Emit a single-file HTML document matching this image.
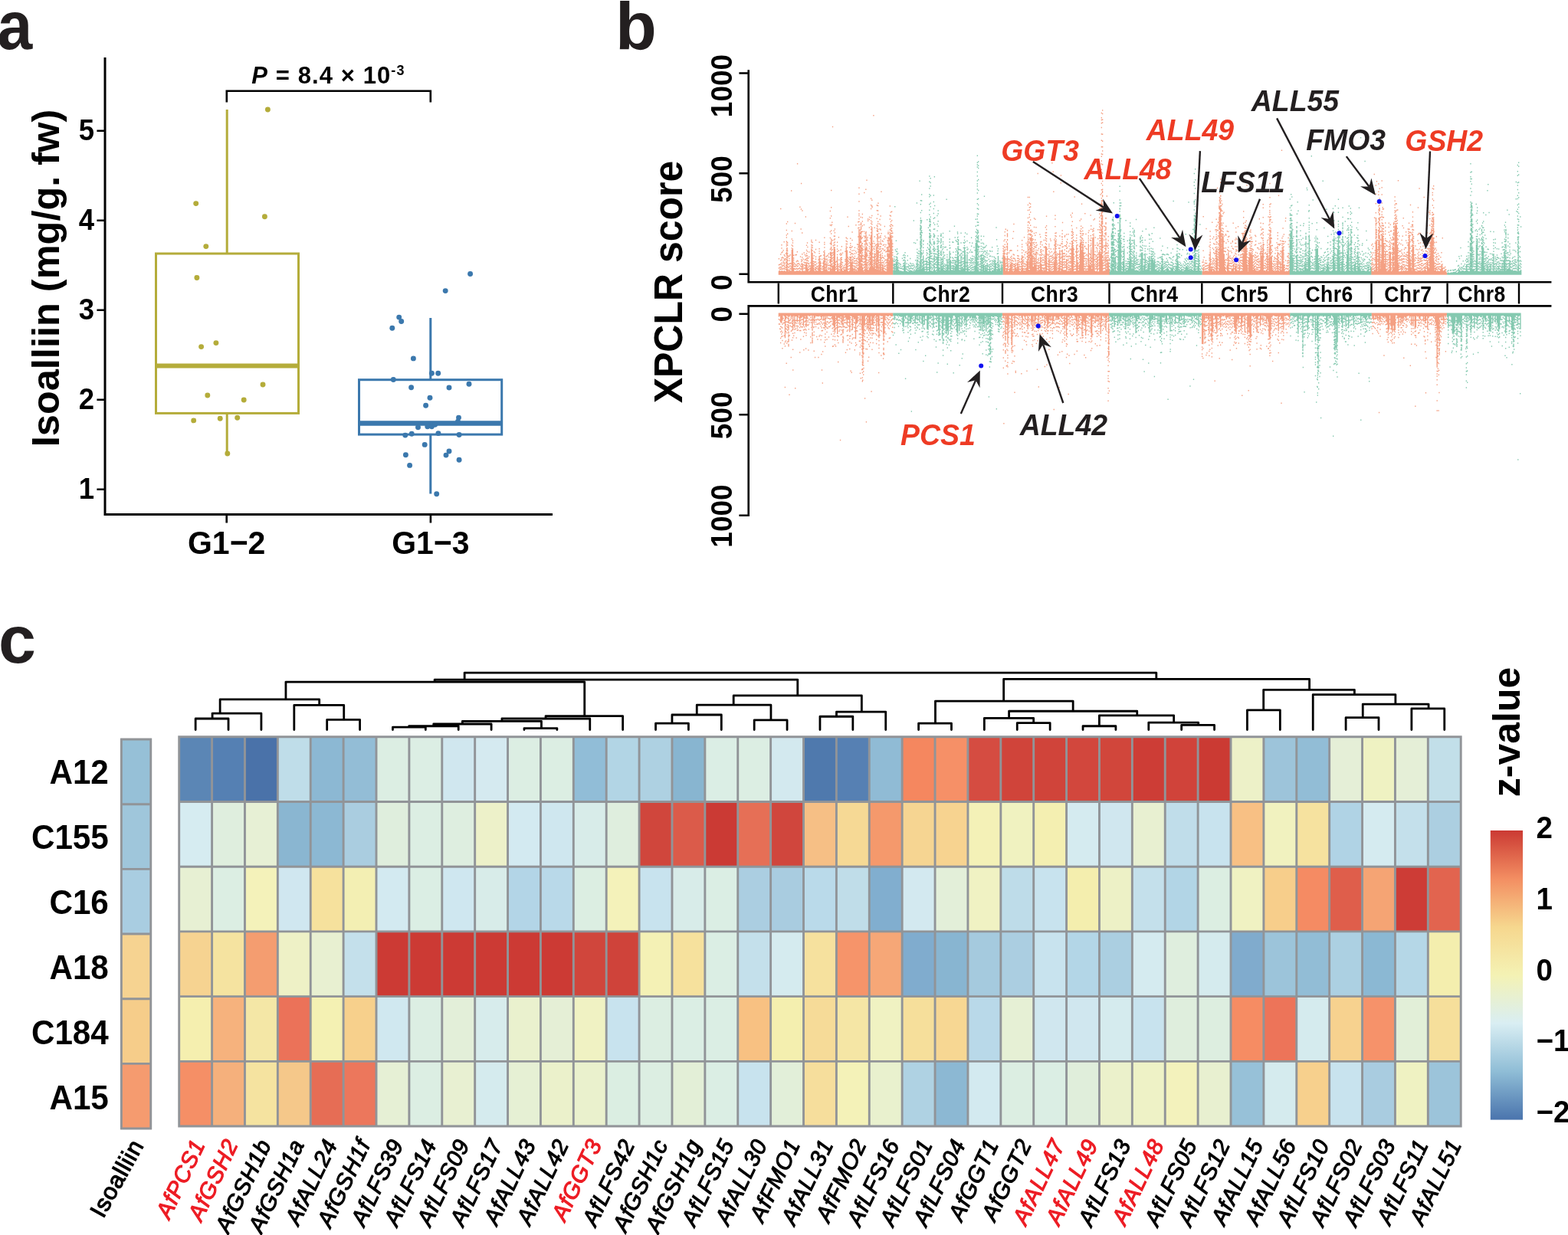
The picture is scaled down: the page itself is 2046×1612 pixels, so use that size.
<!DOCTYPE html>
<html lang="en"><head><meta charset="utf-8"><title>Figure</title>
<style>
html,body{margin:0;padding:0;background:#fff;}
body{width:2046px;height:1612px;overflow:hidden;}
svg{display:block;font-family:'Liberation Sans', Arial, Helvetica, sans-serif;}
</style></head><body>
<svg width="2046" height="1612" viewBox="0 0 2046 1612">
<rect width="2046" height="1612" fill="#fff"/>
<g id="panel-a">
<text transform="translate(-3.5 63.5) scale(0.93 1)" font-size="88.5" font-weight="bold" fill="#231f20">a</text>
<path d="M137 75V671.4H721" fill="none" stroke="#000" stroke-width="3"/>
<path d="M126.4 638.7H137M126.4 521.7H137M126.4 404.7H137M126.4 287.7H137M126.4 170.7H137M295.7 671.4V682.5M561.9 671.4V682.5" fill="none" stroke="#000" stroke-width="2.6"/>
<text transform="translate(123 651.3) scale(1 1.05)" font-size="36.5" font-weight="bold" text-anchor="end">1</text>
<text transform="translate(123 534.3) scale(1 1.05)" font-size="36.5" font-weight="bold" text-anchor="end">2</text>
<text transform="translate(123 417.3) scale(1 1.05)" font-size="36.5" font-weight="bold" text-anchor="end">3</text>
<text transform="translate(123 300.3) scale(1 1.05)" font-size="36.5" font-weight="bold" text-anchor="end">4</text>
<text transform="translate(123 183.3) scale(1 1.05)" font-size="36.5" font-weight="bold" text-anchor="end">5</text>
<text transform="translate(76.5 363) rotate(-90)" font-size="50.5" font-weight="bold" text-anchor="middle">Isoalliin (mg/g. fw)</text>
<text transform="translate(295.7 723.4) scale(1 1.06)" font-size="41" font-weight="bold" text-anchor="middle">G1−2</text>
<text transform="translate(561.9 723.4) scale(1 1.06)" font-size="41" font-weight="bold" text-anchor="middle">G1−3</text>
<path d="M295.8 133.4V118.7H561.8V133.4" fill="none" stroke="#000" stroke-width="2.6"/>
<text transform="translate(328.3 109.4) scale(1 1.04)" font-size="31" font-weight="bold" letter-spacing="1.1"><tspan font-style="italic">P</tspan> = 8.4 × 10<tspan font-size="18" dy="-10.5">-3</tspan></text>
<g fill="none" stroke="#b4ac3a" stroke-width="3"><path d="M296.2 143V331M296.2 539.4V592"/><rect x="203.5" y="331" width="186" height="208.4"/><path d="M203.5 477.4H389.5" stroke-width="6"/></g>
<g fill="none" stroke="#3b78ad" stroke-width="3"><path d="M561.8 414.9V495.7M561.8 567.1V644.5"/><rect x="468.5" y="495.7" width="186.2" height="71.4"/><path d="M468.5 552.6H654.7" stroke-width="6.5"/></g>
<g fill="#b4ac3a"><circle cx="349.4" cy="143" r="3.45"/><circle cx="255.7" cy="265.6" r="3.45"/><circle cx="345.4" cy="282.7" r="3.45"/><circle cx="268.8" cy="321.6" r="3.45"/><circle cx="256.9" cy="362.5" r="3.45"/><circle cx="281.9" cy="447.6" r="3.45"/><circle cx="262.6" cy="452.6" r="3.45"/><circle cx="343" cy="502" r="3.45"/><circle cx="270.8" cy="516" r="3.45"/><circle cx="318.2" cy="522" r="3.45"/><circle cx="252.7" cy="548.9" r="3.45"/><circle cx="287.2" cy="546.3" r="3.45"/><circle cx="309.7" cy="545.3" r="3.45"/><circle cx="296.8" cy="592" r="3.45"/></g>
<g fill="#3b78ad"><circle cx="613.6" cy="357.5" r="3.45"/><circle cx="581.2" cy="379.6" r="3.45"/><circle cx="520.7" cy="414.1" r="3.45"/><circle cx="523.7" cy="419.5" r="3.45"/><circle cx="511.8" cy="428.2" r="3.45"/><circle cx="539.4" cy="467.9" r="3.45"/><circle cx="563.4" cy="487.3" r="3.45"/><circle cx="571.7" cy="487.3" r="3.45"/><circle cx="513.3" cy="495.5" r="3.45"/><circle cx="612" cy="501.2" r="3.45"/><circle cx="536.6" cy="505.8" r="3.45"/><circle cx="586" cy="506" r="3.45"/><circle cx="561" cy="519.3" r="3.45"/><circle cx="555.6" cy="529.2" r="3.45"/><circle cx="598.5" cy="545.1" r="3.45"/><circle cx="597.5" cy="550.3" r="3.45"/><circle cx="545.5" cy="557.8" r="3.45"/><circle cx="557.8" cy="556.8" r="3.45"/><circle cx="563.4" cy="556.8" r="3.45"/><circle cx="567.7" cy="554.2" r="3.45"/><circle cx="571.9" cy="565.6" r="3.45"/><circle cx="537.2" cy="566.2" r="3.45"/><circle cx="528.8" cy="568.1" r="3.45"/><circle cx="599.1" cy="567.5" r="3.45"/><circle cx="554.2" cy="580.4" r="3.45"/><circle cx="586" cy="589" r="3.45"/><circle cx="582" cy="594.1" r="3.45"/><circle cx="529.4" cy="593.7" r="3.45"/><circle cx="599.1" cy="600.3" r="3.45"/><circle cx="534.6" cy="607.4" r="3.45"/><circle cx="569.7" cy="644.8" r="3.45"/></g>
</g>
<g id="panel-b">
<text transform="translate(803 64)" font-size="88" font-weight="bold" fill="#231f20">b</text>
<path d="M1016.4 358.8v-5.32m0 -2.85v-1.5m0 -2.59v-1.5m0 -6.44v-1.5M1017.56 358.8v-5.73m0 -0.82v-1.5m0 -1.13v-1.5m0 -2.16v-1.5M1018.78 358.8v-4.91m0 -2.01v-1.5m0 -0.87v-1.5m0 -2.67v-1.5m0 -3.44v-1.5m0 -6.11v-1.5M1019.97 358.8v-5.81m0 -1.19v-1.5m0 -0.74v-1.5m0 -1.68v-1.5m0 -0.81v-1.5m0 -2.83v-1.5m0 -0.69v-1.5m0 -5.48v-1.5m0 -4.36v-1.5m0 -2.63v-1.5M1021.03 358.8v-5.33m0 -1.5v-1.5m0 -2.56v-1.5m0 -9.8v-1.5m0 -5.49v-1.5M1022.11 358.8v-4.83m0 -2.69v-1.5m0 -2.79v-1.5m0 -1.45v-1.5m0 -0.86v-1.5m0 -2.62v-1.5m0 -8.59v-1.5M1023.32 358.8v-5.69m0 -1.44v-1.5m0 -1.11v-1.5m0 -0.76v-1.5m0 -1.44v-1.5m0 -2.89v-1.5m0 -4.5v-1.5M1024.33 358.8v-4.74m0 -2.51v-1.5m0 -0.88v-1.5m0 -2.76v-1.5m0 -2.54v-1.5m0 -0.99v-1.5m0 -2v-1.5M1025.53 358.8v-4.88m0 -1.21v-1.5m0 -1.32v-1.5m0 -1.06v-1.5m0 -2.7v-1.5m0 -2.66v-1.5m0 -5.8v-1.5M1026.73 358.8v-19.58m0 -2.84v-1.5m0 -1.43v-1.5m0 -1.97v-1.5m0 -2.79v-1.5M1027.85 358.8v-7.2m0 -2.48v-1.5m0 -2.55v-1.5m0 -2.86v-1.5m0 -2.27v-1.5M1028.92 358.8v-4.7m0 -0.85v-1.5m0 -1.65v-1.5m0 -2.29v-1.5m0 -9.64v-1.5M1029.99 358.8v-7.17m0 -2.54v-1.5m0 -2.68v-1.5m0 -2.32v-1.5m0 -1.42v-1.5m0 -1.71v-1.5M1031.06 358.8v-5.47m0 -1.72v-1.5m0 -2.68v-1.5m0 -1.53v-1.5m0 -9.37v-1.5M1032.17 358.8v-5.27m0 -1.87v-1.5m0 -0.92v-1.5m0 -2.9v-1.5M1033.29 358.8v-33.05m0 -0.95v-1.5m0 -2.51v-1.5m0 -6.47v-1.5m0 -9.04v-1.5M1034.43 358.8v-34.64m0 -2.23v-1.5m0 -2.71v-1.5m0 -1.27v-1.5M1035.68 358.8v-9.38m0 -1.42v-1.5m0 -0.68v-1.5m0 -1.19v-1.5m0 -1.41v-1.5m0 -0.91v-1.5m0 -2.39v-1.5M1036.88 358.8v-4.84m0 -2.36v-1.5m0 -1.72v-1.5m0 -2.01v-1.5M1038.03 358.8v-4.7m0 -1.83v-1.5m0 -2.21v-1.5m0 -0.86v-1.5m0 -11.32v-1.5M1039.28 358.8v-5.52m0 -2.09v-1.5m0 -2.73v-1.5m0 -3.32v-1.5m0 -7.34v-1.5M1040.34 358.8v-5.2m0 -1.54v-1.5m0 -1.95v-1.5m0 -1.91v-1.5m0 -2.7v-1.5m0 -10.08v-1.5M1041.38 358.8v-5.45m0 -1.71v-1.5m0 -2.36v-1.5m0 -1.33v-1.5m0 -1.72v-1.5M1042.53 358.8v-5.03m0 -2.58v-1.5m0 -4.98v-1.5M1043.54 358.8v-6.19m0 -2.14v-1.5m0 -2.65v-1.5M1044.55 358.8v-5.25m0 -1.54v-1.5m0 -2.41v-1.5m0 -10.73v-1.5M1045.68 358.8v-4.56m0 -2.39v-1.5m0 -1.35v-1.5m0 -1.98v-1.5m0 -1.79v-1.5m0 -0.99v-1.5M1046.79 358.8v-15.45m0 -2.47v-1.5m0 -2.72v-1.5m0 -2.62v-1.5M1048.02 358.8v-5.31m0 -1.78v-1.5m0 -1.19v-1.5m0 -1.03v-1.5m0 -5.99v-1.5M1049.18 358.8v-5.3m0 -2.86v-1.5m0 -2.66v-1.5m0 -2.09v-1.5m0 -10.73v-1.5M1050.31 358.8v-5.1m0 -2.87v-1.5m0 -2.01v-1.5m0 -1.81v-1.5m0 -2.44v-1.5m0 -5.36v-1.5M1051.43 358.8v-14.02m0 -1.25v-1.5m0 -2.79v-1.5m0 -2.72v-1.5M1052.5 358.8v-16.33m0 -1.53v-1.5m0 -1.16v-1.5m0 -2.58v-1.5m0 -0.94v-1.5m0 -3.1v-1.5m0 -4.62v-1.5M1053.5 358.8v-9.5m0 -1.84v-1.5m0 -2.23v-1.5m0 -2.08v-1.5m0 -1.42v-1.5m0 -0.88v-1.5m0 -4.34v-1.5m0 -9.67v-1.5M1054.55 358.8v-8.12m0 -1.53v-1.5m0 -2.75v-1.5m0 -2v-1.5m0 -1.9v-1.5M1055.72 358.8v-4.54m0 -2.03v-1.5m0 -1.47v-1.5m0 -0.84v-1.5m0 -0.97v-1.5m0 -6.9v-1.5m0 -4.91v-1.5M1056.77 358.8v-5.82m0 -1.37v-1.5m0 -1.81v-1.5M1057.86 358.8v-10.33m0 -0.75v-1.5m0 -2.55v-1.5M1058.86 358.8v-34.45m0 -1.08v-1.5m0 -1.39v-1.5m0 -2.58v-1.5m0 -0.67v-1.5M1060.07 358.8v-28.69m0 -2.32v-1.5m0 -2.18v-1.5m0 -1.37v-1.5m0 -2.6v-1.5M1061.11 358.8v-13.4m0 -0.86v-1.5m0 -1.07v-1.5m0 -2.39v-1.5M1062.18 358.8v-6.25m0 -1.11v-1.5m0 -2.24v-1.5m0 -0.93v-1.5m0 -1.27v-1.5m0 -6.61v-1.5m0 -3.55v-1.5M1063.4 358.8v-4.86m0 -1.54v-1.5m0 -1.13v-1.5m0 -1.84v-1.5m0 -1.97v-1.5m0 -11.06v-1.5M1064.52 358.8v-9.95m0 -2.3v-1.5m0 -2.52v-1.5m0 -2.13v-1.5m0 -1.32v-1.5m0 -8.21v-1.5m0 -10.54v-1.5M1065.74 358.8v-5.57m0 -2.42v-1.5m0 -0.77v-1.5m0 -2.34v-1.5M1066.9 358.8v-5.34m0 -1.42v-1.5m0 -1.8v-1.5M1068.08 358.8v-10.09m0 -0.94v-1.5m0 -2.58v-1.5m0 -2.34v-1.5M1069.1 358.8v-24.88m0 -2.32v-1.5m0 -1.41v-1.5m0 -1.78v-1.5m0 -6.81v-1.5M1070.24 358.8v-18.63m0 -1.07v-1.5m0 -2.6v-1.5M1071.37 358.8v-5.48m0 -1.71v-1.5m0 -2.61v-1.5m0 -1.81v-1.5m0 -8.29v-1.5M1072.58 358.8v-5.03m0 -1.44v-1.5m0 -1.25v-1.5m0 -8.88v-1.5M1073.67 358.8v-5.43m0 -1.51v-1.5m0 -1.74v-1.5m0 -2.75v-1.5M1074.82 358.8v-19.14m0 -1.53v-1.5m0 -2.89v-1.5m0 -2.68v-1.5M1075.84 358.8v-29.7m0 -0.95v-1.5m0 -2.89v-1.5m0 -2.47v-1.5m0 -0.99v-1.5m0 -4.72v-1.5M1076.93 358.8v-6.99m0 -1.45v-1.5m0 -2.91v-1.5m0 -2.36v-1.5m0 -1.76v-1.5M1078.02 358.8v-16.37m0 -2.41v-1.5m0 -2.71v-1.5M1079.05 358.8v-7.05m0 -2.73v-1.5m0 -1.02v-1.5m0 -2.6v-1.5m0 -2.25v-1.5m0 -2.25v-1.5M1080.26 358.8v-5.01m0 -2.61v-1.5m0 -2.69v-1.5m0 -1.03v-1.5m0 -2.4v-1.5m0 -5.03v-1.5M1081.35 358.8v-5.07m0 -1.21v-1.5m0 -0.89v-1.5m0 -1.4v-1.5m0 -9.6v-1.5m0 -2.7v-1.5M1082.6 358.8v-4.74m0 -2.71v-1.5m0 -2.9v-1.5m0 -2.58v-1.5m0 -1.05v-1.5M1083.74 358.8v-5.12m0 -2.74v-1.5m0 -2.64v-1.5m0 -1.55v-1.5m0 -0.81v-1.5M1084.9 358.8v-4.73m0 -1.89v-1.5m0 -2.23v-1.5m0 -1.75v-1.5m0 -1.46v-1.5m0 -1.22v-1.5m0 -1.33v-1.5m0 -0.78v-1.5m0 -1.24v-1.5m0 -11.24v-1.5m0 -2.57v-1.5M1086.06 358.8v-12.21m0 -1.16v-1.5m0 -2.17v-1.5m0 -2.26v-1.5m0 -2.32v-1.5m0 -1.77v-1.5m0 -2.85v-1.5m0 -10.44v-1.5M1087.22 358.8v-12.61m0 -2.12v-1.5m0 -2.68v-1.5m0 -1.32v-1.5m0 -2.88v-1.5m0 -0.9v-1.5m0 -7.36v-1.5M1088.26 358.8v-36.71m0 -1.53v-1.5m0 -1.1v-1.5m0 -2.58v-1.5m0 -3.26v-1.5m0 -5.59v-1.5M1089.37 358.8v-33.9m0 -0.72v-1.5m0 -2.16v-1.5m0 -2.34v-1.5m0 -2.35v-1.5m0 -2.27v-1.5m0 -3.16v-1.5m0 -3.27v-1.5M1090.43 358.8v-4.78m0 -1.87v-1.5m0 -0.87v-1.5m0 -2.35v-1.5m0 -1.43v-1.5M1091.53 358.8v-4.81m0 -2.42v-1.5m0 -1.93v-1.5m0 -4.65v-1.5M1092.56 358.8v-24.08m0 -1.52v-1.5m0 -2.79v-1.5m0 -1.34v-1.5m0 -2.88v-1.5m0 -3.07v-1.5M1093.8 358.8v-7.2m0 -0.77v-1.5m0 -1.17v-1.5m0 -0.9v-1.5M1094.85 358.8v-4.79m0 -1.2v-1.5m0 -2.77v-1.5m0 -7.15v-1.5M1096.02 358.8v-4.7m0 -0.84v-1.5m0 -1.72v-1.5m0 -1.05v-1.5m0 -0.71v-1.5m0 -10.93v-1.5M1097.1 358.8v-22.88m0 -1.87v-1.5m0 -1.06v-1.5m0 -2.88v-1.5M1098.31 358.8v-8.39m0 -1.34v-1.5m0 -2.13v-1.5m0 -1.01v-1.5m0 -2.05v-1.5m0 -0.82v-1.5m0 -2.62v-1.5m0 -9.06v-1.5M1099.48 358.8v-5.55m0 -2.05v-1.5m0 -2.57v-1.5m0 -2.15v-1.5m0 -11v-1.5M1100.51 358.8v-5.62m0 -1.23v-1.5m0 -1.06v-1.5M1101.72 358.8v-7.28m0 -1.17v-1.5m0 -1.25v-1.5M1102.96 358.8v-7.38m0 -1.27v-1.5m0 -2.87v-1.5m0 -2.45v-1.5m0 -0.82v-1.5m0 -8.98v-1.5M1104.19 358.8v-35.97m0 -0.71v-1.5m0 -1.33v-1.5m0 -2.6v-1.5m0 -2.67v-1.5M1105.33 358.8v-32.38m0 -2.69v-1.5m0 -2.89v-1.5m0 -1.66v-1.5m0 -2.41v-1.5M1106.36 358.8v-5.29m0 -1.54v-1.5m0 -1.71v-1.5m0 -1.71v-1.5m0 -1.29v-1.5m0 -0.71v-1.5m0 -2.39v-1.5M1107.41 358.8v-4.66m0 -2.01v-1.5m0 -2.77v-1.5m0 -1.73v-1.5m0 -1.12v-1.5m0 -2v-1.5M1108.64 358.8v-5.87m0 -1.26v-1.5m0 -2.63v-1.5m0 -2.44v-1.5m0 -2.58v-1.5m0 -1.55v-1.5m0 -5.12v-1.5m0 -4.7v-1.5M1109.78 358.8v-24.06m0 -1.52v-1.5m0 -1.67v-1.5m0 -1.94v-1.5m0 -1.16v-1.5m0 -1.27v-1.5m0 -1.27v-1.5m0 -4.88v-1.5M1110.83 358.8v-16.62m0 -1.67v-1.5m0 -2.11v-1.5m0 -3.77v-1.5m0 -6.25v-1.5M1112.05 358.8v-18.64m0 -0.94v-1.5m0 -2.54v-1.5m0 -1.9v-1.5m0 -2.19v-1.5m0 -3.97v-1.5m0 -6.83v-1.5m0 -8.92v-1.5M1113.21 358.8v-9.24m0 -1.95v-1.5m0 -2.17v-1.5m0 -2.58v-1.5m0 -1.58v-1.5m0 -2.74v-1.5M1114.35 358.8v-5.35m0 -1.06v-1.5m0 -2.38v-1.5m0 -2.67v-1.5m0 -1.03v-1.5m0 -2.34v-1.5m0 -8.86v-1.5M1115.45 358.8v-10m0 -0.73v-1.5m0 -2.43v-1.5m0 -1.43v-1.5m0 -1.82v-1.5m0 -1.1v-1.5m0 -2.03v-1.5m0 -6.14v-1.5M1116.55 358.8v-4.69m0 -0.81v-1.5m0 -2.65v-1.5m0 -2.77v-1.5m0 -2.11v-1.5m0 -10.95v-1.5M1117.61 358.8v-7.27m0 -1.77v-1.5m0 -1.17v-1.5m0 -1.63v-1.5m0 -1.81v-1.5m0 -0.74v-1.5m0 -6.11v-1.5M1118.62 358.8v-5.29m0 -2.16v-1.5m0 -2.05v-1.5m0 -1.24v-1.5m0 -1.51v-1.5m0 -2.57v-1.5m0 -11.17v-1.5m0 -4.16v-1.5M1119.84 358.8v-9.54m0 -2.5v-1.5m0 -2v-1.5m0 -2.7v-1.5m0 -1.21v-1.5m0 -1.67v-1.5m0 -2.18v-1.5m0 -1.15v-1.5m0 -2.28v-1.5m0 -1.26v-1.5m0 -9.01v-1.5m0 -9.87v-1.5m0 -6.39v-1.5M1120.95 358.8v-59.83m0 -0.92v-1.5m0 -2.27v-1.5m0 -2.79v-1.5m0 -2.08v-1.5m0 -2.72v-1.5m0 -0.8v-1.5m0 -2.67v-1.5m0 -10.54v-1.5m0 -8.26v-1.5m0 -6.44v-1.5M1122.09 358.8v-11.14m0 -1.88v-1.5m0 -1.25v-1.5m0 -0.67v-1.5m0 -1.11v-1.5m0 -2.54v-1.5m0 -4.45v-1.5m0 -3.18v-1.5m0 -4.76v-1.5m0 -7.26v-1.5M1123.17 358.8v-5.75m0 -2.66v-1.5m0 -1.68v-1.5m0 -0.99v-1.5m0 -2.82v-1.5m0 -1.18v-1.5m0 -2.07v-1.5m0 -1.26v-1.5m0 -2.5v-1.5m0 -1.12v-1.5m0 -1.61v-1.5m0 -4.51v-1.5m0 -10.39v-1.5m0 -8.18v-1.5m0 -8.28v-1.5M1124.36 358.8v-6.33m0 -2.32v-1.5m0 -2.91v-1.5m0 -1.93v-1.5m0 -4.14v-1.5m0 -8.09v-1.5m0 -5.13v-1.5m0 -7.2v-1.5m0 -6.71v-1.5M1125.37 358.8v-10.13m0 -2.51v-1.5m0 -2.6v-1.5m0 -2.41v-1.5m0 -1.91v-1.5m0 -2.69v-1.5m0 -1.77v-1.5m0 -0.91v-1.5m0 -1.28v-1.5m0 -2.15v-1.5m0 -5.98v-1.5m0 -6.38v-1.5m0 -6.19v-1.5m0 -4.26v-1.5m0 -3.36v-1.5m0 -2.95v-1.5M1126.46 358.8v-5.7m0 -2.08v-1.5m0 -2.49v-1.5m0 -2.38v-1.5m0 -2.81v-1.5m0 -3.11v-1.5m0 -6.02v-1.5M1127.47 358.8v-4.58m0 -0.8v-1.5m0 -2.68v-1.5m0 -1.59v-1.5m0 -1.81v-1.5m0 -2.77v-1.5m0 -1.16v-1.5m0 -11.38v-1.5m0 -6.14v-1.5m0 -4.77v-1.5m0 -4.64v-1.5m0 -7.25v-1.5M1128.5 358.8v-4.37m0 -1.01v-1.5m0 -2.03v-1.5m0 -2.42v-1.5m0 -1.75v-1.5m0 -2.05v-1.5m0 -2.11v-1.5m0 -0.71v-1.5m0 -1.22v-1.5m0 -2.91v-1.5m0 -5.53v-1.5M1129.74 358.8v-5.64m0 -1.16v-1.5m0 -1.39v-1.5m0 -1.66v-1.5m0 -1.67v-1.5m0 -1.9v-1.5m0 -1.73v-1.5m0 -0.74v-1.5m0 -4.95v-1.5M1130.9 358.8v-6.42m0 -2.26v-1.5m0 -1.41v-1.5m0 -5.89v-1.5m0 -7.24v-1.5m0 -10.84v-1.5m0 -5.51v-1.5M1132.01 358.8v-6.68m0 -0.94v-1.5m0 -2.01v-1.5m0 -2.57v-1.5m0 -8v-1.5m0 -3.89v-1.5m0 -6.22v-1.5m0 -4.94v-1.5m0 -2.65v-1.5M1133.14 358.8v-6.18m0 -2.88v-1.5m0 -2.5v-1.5m0 -1.24v-1.5m0 -1.1v-1.5m0 -1.85v-1.5m0 -7.85v-1.5M1134.36 358.8v-9.2m0 -1.98v-1.5m0 -0.95v-1.5m0 -1.83v-1.5m0 -0.83v-1.5m0 -0.92v-1.5m0 -0.94v-1.5m0 -1.34v-1.5m0 -1.36v-1.5m0 -2.25v-1.5m0 -0.84v-1.5m0 -3.52v-1.5m0 -8.52v-1.5m0 -8.67v-1.5m0 -9.01v-1.5M1135.45 358.8v-5.82m0 -0.85v-1.5m0 -1.14v-1.5m0 -2.33v-1.5m0 -1.1v-1.5m0 -1.86v-1.5m0 -1.25v-1.5m0 -1.64v-1.5m0 -2.54v-1.5m0 -8.56v-1.5m0 -6.58v-1.5M1136.59 358.8v-48.05m0 -2.62v-1.5m0 -2.22v-1.5m0 -2.87v-1.5m0 -2.16v-1.5m0 -2.69v-1.5m0 -1.91v-1.5m0 -2.26v-1.5m0 -10.22v-1.5m0 -3.33v-1.5m0 -6.85v-1.5M1137.76 358.8v-62.54m0 -2.77v-1.5m0 -1.5v-1.5m0 -6.8v-1.5m0 -10.86v-1.5m0 -6.27v-1.5M1138.85 358.8v-11.68m0 -1.15v-1.5m0 -1.64v-1.5m0 -1.03v-1.5m0 -2.53v-1.5m0 -2.86v-1.5m0 -3.39v-1.5m0 -3v-1.5m0 -2.53v-1.5M1139.98 358.8v-10.23m0 -1.11v-1.5m0 -1.22v-1.5m0 -2.22v-1.5m0 -2.66v-1.5m0 -10.43v-1.5m0 -7.7v-1.5M1141.17 358.8v-28.51m0 -1.38v-1.5m0 -1.42v-1.5m0 -1.71v-1.5m0 -2.72v-1.5m0 -7.43v-1.5m0 -10.2v-1.5M1142.4 358.8v-7.87m0 -1.77v-1.5m0 -2.3v-1.5m0 -1.08v-1.5m0 -1.39v-1.5m0 -2.63v-1.5m0 -1.56v-1.5m0 -10.23v-1.5M1143.44 358.8v-18.91m0 -2.16v-1.5m0 -1.32v-1.5m0 -2.61v-1.5m0 -1.75v-1.5m0 -0.79v-1.5m0 -0.82v-1.5m0 -1.18v-1.5M1144.67 358.8v-6.12m0 -2.07v-1.5m0 -1.59v-1.5m0 -1.66v-1.5m0 -2.51v-1.5m0 -2.73v-1.5m0 -2.84v-1.5m0 -2.42v-1.5m0 -2.53v-1.5M1145.67 358.8v-12.51m0 -1.83v-1.5m0 -1.56v-1.5m0 -1.58v-1.5m0 -1.27v-1.5m0 -1.28v-1.5m0 -1.2v-1.5m0 -0.9v-1.5m0 -7.58v-1.5m0 -6.59v-1.5m0 -9.04v-1.5m0 -8.37v-1.5M1146.86 358.8v-6.42m0 -2.15v-1.5m0 -2.48v-1.5m0 -1.56v-1.5m0 -1.67v-1.5m0 -8.29v-1.5m0 -3.52v-1.5m0 -7.37v-1.5m0 -3.37v-1.5m0 -4.56v-1.5M1148.06 358.8v-14.3m0 -1v-1.5m0 -1.83v-1.5m0 -1.66v-1.5m0 -1.52v-1.5m0 -2.4v-1.5m0 -2.26v-1.5m0 -1.93v-1.5m0 -2.06v-1.5m0 -7.83v-1.5m0 -8.7v-1.5m0 -11v-1.5M1149.1 358.8v-27.97m0 -1.68v-1.5m0 -2.43v-1.5m0 -1.33v-1.5m0 -2.03v-1.5m0 -0.79v-1.5m0 -1.12v-1.5m0 -1.57v-1.5m0 -0.82v-1.5m0 -6.39v-1.5m0 -4.61v-1.5m0 -10.4v-1.5M1150.2 358.8v-5.22m0 -0.78v-1.5m0 -1.16v-1.5m0 -2.04v-1.5m0 -1.12v-1.5m0 -4.78v-1.5m0 -8.21v-1.5m0 -7.03v-1.5M1151.41 358.8v-14.02m0 -1.28v-1.5m0 -1.36v-1.5m0 -2.64v-1.5m0 -0.78v-1.5m0 -1.45v-1.5m0 -4.28v-1.5m0 -8.87v-1.5M1152.41 358.8v-9.84m0 -1.15v-1.5m0 -2.73v-1.5m0 -5.19v-1.5m0 -9.73v-1.5m0 -3.19v-1.5M1153.57 358.8v-6.07m0 -1.9v-1.5m0 -0.78v-1.5m0 -1.63v-1.5m0 -1.51v-1.5m0 -2.91v-1.5m0 -8.74v-1.5m0 -6.21v-1.5m0 -5.84v-1.5M1154.77 358.8v-5.36m0 -1.65v-1.5m0 -2.26v-1.5m0 -6.15v-1.5m0 -3.81v-1.5m0 -6.32v-1.5m0 -2.97v-1.5M1155.89 358.8v-4.61m0 -1.79v-1.5m0 -2.87v-1.5m0 -2.53v-1.5m0 -2.7v-1.5m0 -8.69v-1.5m0 -7.9v-1.5m0 -7.83v-1.5M1157.08 358.8v-4.69m0 -0.81v-1.5m0 -1.5v-1.5m0 -2.4v-1.5m0 -1.91v-1.5m0 -1.04v-1.5m0 -9.96v-1.5m0 -2.88v-1.5M1158.13 358.8v-7.42m0 -2.52v-1.5m0 -0.68v-1.5m0 -0.7v-1.5m0 -1.84v-1.5m0 -1.34v-1.5m0 -1.57v-1.5m0 -1.87v-1.5m0 -2.9v-1.5m0 -11.51v-1.5M1159.18 358.8v-5.13m0 -2.21v-1.5m0 -2.33v-1.5m0 -11.59v-1.5m0 -3.59v-1.5M1160.27 358.8v-15.45m0 -1.49v-1.5m0 -2.68v-1.5m0 -1.85v-1.5m0 -0.82v-1.5m0 -2.28v-1.5m0 -7.06v-1.5M1161.32 358.8v-54.19m0 -0.69v-1.5m0 -1.74v-1.5m0 -3.61v-1.5m0 -7.35v-1.5m0 -3.32v-1.5m0 -10.63v-1.5M1162.4 358.8v-51.83m0 -1.15v-1.5m0 -2.73v-1.5m0 -0.76v-1.5m0 -1.24v-1.5m0 -1.4v-1.5m0 -1.98v-1.5m0 -5.88v-1.5m0 -3.52v-1.5M1163.64 358.8v-46.45m0 -1.36v-1.5m0 -0.69v-1.5m0 -1.87v-1.5m0 -2.08v-1.5m0 -1.66v-1.5m0 -2.82v-1.5m0 -4.35v-1.5m0 -9.96v-1.5M1164.78 358.8v-22.41m0 -2.74v-1.5m0 -1.57v-1.5m0 -2.19v-1.5m0 -2.81v-1.5m0 -2.01v-1.5m0 -7.84v-1.5m0 -3.15v-1.5m0 -7.97v-1.5M1309.05 358.8v-25.84m0 -1.06v-1.5m0 -1.85v-1.5m0 -1.88v-1.5m0 -1.79v-1.5M1310.07 358.8v-31.36m0 -0.78v-1.5m0 -1.9v-1.5m0 -6.54v-1.5M1311.26 358.8v-24.38m0 -2.69v-1.5m0 -2.14v-1.5m0 -2.91v-1.5m0 -2.16v-1.5m0 -4.97v-1.5m0 -3.85v-1.5m0 -3.15v-1.5M1312.29 358.8v-5.38m0 -2.04v-1.5m0 -1.53v-1.5m0 -1.71v-1.5m0 -4.88v-1.5m0 -10.92v-1.5M1313.33 358.8v-8.7m0 -2.59v-1.5m0 -1.75v-1.5m0 -1.5v-1.5m0 -0.81v-1.5m0 -5.08v-1.5m0 -7.91v-1.5m0 -5.08v-1.5M1314.36 358.8v-5.62m0 -2.22v-1.5m0 -2.29v-1.5m0 -2.67v-1.5m0 -2.49v-1.5m0 -1.41v-1.5m0 -1.95v-1.5m0 -4.87v-1.5m0 -4.35v-1.5M1315.38 358.8v-4.65m0 -2.18v-1.5m0 -1.23v-1.5m0 -0.77v-1.5m0 -6.36v-1.5M1316.61 358.8v-5.33m0 -1.06v-1.5m0 -1.75v-1.5m0 -2.62v-1.5m0 -1.35v-1.5m0 -1.85v-1.5m0 -6.52v-1.5M1317.67 358.8v-8.79m0 -2.21v-1.5m0 -6.28v-1.5m0 -10.18v-1.5M1318.75 358.8v-15.02m0 -0.73v-1.5m0 -1.48v-1.5m0 -1.74v-1.5m0 -7.9v-1.5M1319.96 358.8v-16.28m0 -1.17v-1.5m0 -1.66v-1.5m0 -1.34v-1.5m0 -6.05v-1.5M1321.11 358.8v-5.72m0 -0.74v-1.5m0 -0.84v-1.5m0 -1.13v-1.5m0 -1.31v-1.5m0 -2.6v-1.5M1322.16 358.8v-4.32m0 -2.07v-1.5m0 -2.69v-1.5m0 -0.91v-1.5m0 -2.53v-1.5m0 -2.52v-1.5M1323.27 358.8v-5.96m0 -0.77v-1.5m0 -1.79v-1.5m0 -1.21v-1.5m0 -6.53v-1.5m0 -3.11v-1.5M1324.49 358.8v-14.86m0 -2.68v-1.5m0 -0.8v-1.5M1325.58 358.8v-9.6m0 -1.73v-1.5m0 -1.65v-1.5m0 -1.51v-1.5M1326.76 358.8v-7.83m0 -0.81v-1.5m0 -2.57v-1.5M1327.79 358.8v-16.27m0 -1.29v-1.5m0 -1.86v-1.5m0 -1.79v-1.5m0 -5.24v-1.5m0 -4.62v-1.5M1328.97 358.8v-11.28m0 -1.2v-1.5m0 -1.28v-1.5m0 -0.94v-1.5m0 -1.55v-1.5m0 -1.5v-1.5M1330.16 358.8v-5.56m0 -1.36v-1.5m0 -1.58v-1.5m0 -0.96v-1.5m0 -2.68v-1.5m0 -1.51v-1.5M1331.37 358.8v-4.64m0 -1.68v-1.5m0 -2.18v-1.5m0 -4.06v-1.5M1332.54 358.8v-6.34m0 -1.08v-1.5m0 -0.99v-1.5m0 -1.77v-1.5m0 -1.69v-1.5m0 -2.12v-1.5M1333.63 358.8v-25.77m0 -2.18v-1.5m0 -2.55v-1.5m0 -2.2v-1.5m0 -1.8v-1.5m0 -3.72v-1.5M1334.64 358.8v-9.38m0 -1.13v-1.5m0 -2.72v-1.5m0 -1.18v-1.5m0 -3.3v-1.5M1335.77 358.8v-5.57m0 -1.56v-1.5m0 -2.5v-1.5m0 -0.92v-1.5m0 -1.3v-1.5m0 -0.94v-1.5m0 -2.33v-1.5m0 -6.8v-1.5M1336.96 358.8v-6.01m0 -0.84v-1.5m0 -1.38v-1.5m0 -2.62v-1.5m0 -10.31v-1.5M1338.01 358.8v-5.35m0 -1.64v-1.5m0 -1.96v-1.5m0 -1.25v-1.5m0 -6.37v-1.5m0 -5.86v-1.5M1339.08 358.8v-9.32m0 -2.89v-1.5m0 -2.69v-1.5m0 -11.55v-1.5m0 -9.7v-1.5M1340.21 358.8v-17.95m0 -0.8v-1.5m0 -2.73v-1.5m0 -2.71v-1.5m0 -9.53v-1.5M1341.4 358.8v-45.02m0 -0.95v-1.5m0 -0.97v-1.5m0 -1.59v-1.5m0 -2.54v-1.5m0 -0.84v-1.5m0 -1.63v-1.5m0 -1.46v-1.5m0 -2.67v-1.5m0 -3.9v-1.5m0 -8.51v-1.5m0 -5.46v-1.5m0 -8.43v-1.5M1342.62 358.8v-6.73m0 -1.29v-1.5m0 -0.94v-1.5m0 -1.24v-1.5m0 -0.94v-1.5m0 -2.43v-1.5m0 -0.77v-1.5m0 -1.1v-1.5m0 -2.44v-1.5m0 -2.4v-1.5m0 -11.42v-1.5m0 -6.02v-1.5m0 -2.91v-1.5m0 -9.91v-1.5M1343.65 358.8v-5.82m0 -2.01v-1.5m0 -2.21v-1.5m0 -1.93v-1.5m0 -1.86v-1.5m0 -2.01v-1.5m0 -0.96v-1.5m0 -0.81v-1.5m0 -1.45v-1.5m0 -1.9v-1.5M1344.7 358.8v-18.2m0 -1.27v-1.5m0 -2.75v-1.5m0 -2.79v-1.5m0 -2.93v-1.5m0 -6.9v-1.5m0 -4.68v-1.5M1345.9 358.8v-50.65m0 -0.95v-1.5m0 -2.13v-1.5m0 -0.84v-1.5M1347.06 358.8v-26.4m0 -2.81v-1.5m0 -0.93v-1.5m0 -1.93v-1.5m0 -1.71v-1.5m0 -1.36v-1.5m0 -1.31v-1.5m0 -0.86v-1.5m0 -2.12v-1.5m0 -4.31v-1.5M1348.24 358.8v-10.81m0 -2.76v-1.5m0 -1.98v-1.5m0 -1.95v-1.5m0 -1.17v-1.5m0 -2.11v-1.5m0 -1.52v-1.5m0 -1.89v-1.5m0 -6.15v-1.5m0 -3.24v-1.5M1349.49 358.8v-23.89m0 -1.3v-1.5m0 -0.97v-1.5m0 -1.35v-1.5m0 -1.4v-1.5m0 -1.08v-1.5m0 -1.26v-1.5m0 -1.33v-1.5m0 -10.36v-1.5m0 -6.59v-1.5m0 -10.01v-1.5M1350.73 358.8v-13.18m0 -0.82v-1.5m0 -1.83v-1.5m0 -1.32v-1.5m0 -4.28v-1.5m0 -8.08v-1.5m0 -8.08v-1.5m0 -4.22v-1.5M1351.94 358.8v-30.44m0 -1.19v-1.5m0 -1.94v-1.5m0 -0.74v-1.5m0 -2.57v-1.5m0 -11.38v-1.5m0 -5.51v-1.5M1353.13 358.8v-4.85m0 -0.68v-1.5m0 -0.82v-1.5m0 -1.7v-1.5m0 -2.85v-1.5m0 -11.49v-1.5m0 -8.29v-1.5M1354.23 358.8v-5.64m0 -2.27v-1.5m0 -1.63v-1.5m0 -1.31v-1.5m0 -0.99v-1.5m0 -1.38v-1.5m0 -5.74v-1.5m0 -3.24v-1.5M1355.39 358.8v-12.84m0 -1.91v-1.5m0 -2.12v-1.5m0 -0.85v-1.5m0 -11.44v-1.5M1356.44 358.8v-6.67m0 -2.64v-1.5m0 -1.2v-1.5m0 -1.37v-1.5m0 -8.85v-1.5M1357.63 358.8v-23.69m0 -1.59v-1.5m0 -2.19v-1.5m0 -1.18v-1.5m0 -2.55v-1.5m0 -2.27v-1.5m0 -1.06v-1.5m0 -5.38v-1.5M1358.82 358.8v-14.64m0 -2.76v-1.5m0 -1.56v-1.5m0 -2.8v-1.5m0 -1.32v-1.5m0 -0.7v-1.5m0 -0.9v-1.5m0 -8.85v-1.5M1360 358.8v-6.78m0 -1.46v-1.5m0 -1.99v-1.5m0 -2.24v-1.5m0 -1.51v-1.5m0 -1.77v-1.5m0 -2.56v-1.5m0 -11.02v-1.5M1361.11 358.8v-4.99m0 -2.85v-1.5m0 -2.38v-1.5m0 -5.87v-1.5m0 -10.29v-1.5M1362.2 358.8v-9.53m0 -2.8v-1.5m0 -1.56v-1.5m0 -1.52v-1.5m0 -2.11v-1.5m0 -1.58v-1.5m0 -8.98v-1.5m0 -7.37v-1.5M1363.31 358.8v-5.77m0 -2.42v-1.5m0 -2.6v-1.5m0 -0.71v-1.5m0 -0.7v-1.5m0 -2.09v-1.5m0 -1.42v-1.5m0 -10.5v-1.5M1364.32 358.8v-37.69m0 -2.69v-1.5m0 -2.61v-1.5m0 -1.49v-1.5m0 -1.75v-1.5m0 -1.87v-1.5m0 -5.66v-1.5M1365.53 358.8v-36.84m0 -2.21v-1.5m0 -2.8v-1.5m0 -1.48v-1.5m0 -2.58v-1.5m0 -2.46v-1.5m0 -2.66v-1.5m0 -3.27v-1.5m0 -10.96v-1.5M1366.66 358.8v-4.69m0 -2.02v-1.5m0 -2.26v-1.5m0 -2.34v-1.5m0 -10.35v-1.5m0 -5.19v-1.5M1367.76 358.8v-4.68m0 -1.2v-1.5m0 -2.41v-1.5m0 -1.66v-1.5m0 -2.55v-1.5m0 -2.17v-1.5m0 -2.56v-1.5M1368.9 358.8v-20.47m0 -2.08v-1.5m0 -1.98v-1.5m0 -2.42v-1.5m0 -2.49v-1.5m0 -1.35v-1.5m0 -0.94v-1.5M1370.08 358.8v-6.69m0 -0.72v-1.5m0 -1.23v-1.5m0 -1.28v-1.5m0 -1.13v-1.5m0 -0.78v-1.5m0 -1.05v-1.5m0 -1.45v-1.5m0 -3.35v-1.5M1371.17 358.8v-5.62m0 -1.58v-1.5m0 -0.95v-1.5m0 -1.27v-1.5m0 -2.18v-1.5m0 -6.23v-1.5m0 -7.73v-1.5m0 -9.25v-1.5M1372.38 358.8v-5.19m0 -0.74v-1.5m0 -1.84v-1.5m0 -2.05v-1.5m0 -1.24v-1.5m0 -0.79v-1.5m0 -1.71v-1.5m0 -1.04v-1.5m0 -4.28v-1.5M1373.61 358.8v-5.42m0 -1.5v-1.5m0 -1.58v-1.5m0 -0.98v-1.5m0 -1.08v-1.5m0 -2.4v-1.5m0 -1.63v-1.5m0 -1.31v-1.5M1374.71 358.8v-5.69m0 -1.94v-1.5m0 -1.04v-1.5m0 -1.63v-1.5m0 -1.31v-1.5m0 -2.49v-1.5m0 -0.88v-1.5m0 -2.9v-1.5m0 -4.66v-1.5M1375.74 358.8v-16.77m0 -0.82v-1.5m0 -1.86v-1.5m0 -6.08v-1.5m0 -8.06v-1.5m0 -5.58v-1.5M1376.93 358.8v-44.95m0 -2.13v-1.5m0 -1.63v-1.5m0 -1.85v-1.5m0 -7.29v-1.5m0 -8.24v-1.5m0 -3.12v-1.5M1378.18 358.8v-24.34m0 -1.21v-1.5m0 -2.12v-1.5m0 -2.88v-1.5m0 -1.57v-1.5m0 -1.39v-1.5m0 -1.45v-1.5m0 -0.73v-1.5m0 -3.32v-1.5m0 -2.94v-1.5M1379.22 358.8v-5.19m0 -1.13v-1.5m0 -0.75v-1.5m0 -2.55v-1.5m0 -0.95v-1.5m0 -0.97v-1.5m0 -2.51v-1.5m0 -1.22v-1.5m0 -1.11v-1.5M1380.39 358.8v-5.69m0 -1.94v-1.5m0 -1.37v-1.5m0 -1.43v-1.5m0 -11.05v-1.5m0 -10.82v-1.5M1381.6 358.8v-10.36m0 -0.83v-1.5m0 -2.12v-1.5m0 -2.3v-1.5m0 -2.35v-1.5m0 -2.41v-1.5m0 -6.12v-1.5M1382.83 358.8v-32.49m0 -1.68v-1.5m0 -2.05v-1.5m0 -10.9v-1.5M1383.86 358.8v-4.7m0 -2.35v-1.5m0 -1.61v-1.5m0 -2.26v-1.5m0 -1.17v-1.5m0 -2.78v-1.5m0 -4v-1.5m0 -9.75v-1.5M1384.88 358.8v-8.35m0 -2.02v-1.5m0 -1.24v-1.5m0 -1.41v-1.5m0 -4.66v-1.5m0 -6.55v-1.5m0 -8.44v-1.5M1386.13 358.8v-33.14m0 -2.38v-1.5m0 -2.86v-1.5m0 -1.17v-1.5m0 -1.6v-1.5m0 -1.29v-1.5m0 -2.86v-1.5m0 -2.65v-1.5M1387.16 358.8v-7.07m0 -1.5v-1.5m0 -2.1v-1.5m0 -1.62v-1.5m0 -2.73v-1.5m0 -1.7v-1.5m0 -2.49v-1.5m0 -7.78v-1.5M1388.2 358.8v-5.77m0 -2.87v-1.5m0 -2.58v-1.5m0 -2.04v-1.5m0 -2.07v-1.5m0 -2.76v-1.5m0 -1.64v-1.5M1389.35 358.8v-6.85m0 -2.13v-1.5m0 -0.87v-1.5m0 -0.83v-1.5m0 -0.91v-1.5m0 -2.32v-1.5m0 -1.47v-1.5m0 -2.71v-1.5m0 -3.23v-1.5m0 -4.08v-1.5m0 -10.17v-1.5M1390.46 358.8v-6.39m0 -2.86v-1.5m0 -1.29v-1.5m0 -2.6v-1.5m0 -6.9v-1.5m0 -11.07v-1.5M1391.65 358.8v-20.9m0 -2.09v-1.5m0 -1.91v-1.5m0 -2.18v-1.5m0 -2.23v-1.5m0 -1.27v-1.5m0 -0.69v-1.5m0 -2.29v-1.5m0 -8v-1.5M1392.69 358.8v-4.75m0 -2.72v-1.5m0 -1.04v-1.5m0 -2.23v-1.5m0 -2.79v-1.5m0 -3.91v-1.5m0 -9.56v-1.5m0 -5v-1.5m0 -3.04v-1.5M1393.92 358.8v-5.73m0 -0.67v-1.5m0 -1.27v-1.5m0 -1.44v-1.5m0 -1.5v-1.5m0 -1.34v-1.5m0 -0.71v-1.5m0 -1.14v-1.5m0 -4.9v-1.5M1394.98 358.8v-4.96m0 -1.43v-1.5m0 -1.02v-1.5m0 -1.18v-1.5m0 -2.7v-1.5m0 -6.67v-1.5m0 -5.37v-1.5m0 -4.5v-1.5M1396.17 358.8v-9.42m0 -1.21v-1.5m0 -2.31v-1.5m0 -0.83v-1.5m0 -2.16v-1.5m0 -1.39v-1.5m0 -2.16v-1.5m0 -4.58v-1.5m0 -5.74v-1.5M1397.19 358.8v-6.13m0 -0.95v-1.5m0 -2.18v-1.5m0 -2.68v-1.5m0 -0.7v-1.5m0 -1.44v-1.5m0 -1.05v-1.5m0 -2.81v-1.5m0 -3.71v-1.5M1398.31 358.8v-35.58m0 -0.92v-1.5m0 -1.58v-1.5m0 -1.84v-1.5m0 -2.69v-1.5m0 -2.36v-1.5m0 -3.05v-1.5m0 -6.65v-1.5m0 -9.64v-1.5M1399.31 358.8v-44.89m0 -2.55v-1.5m0 -1.95v-1.5m0 -1.36v-1.5m0 -1.03v-1.5m0 -1.04v-1.5m0 -8.37v-1.5m0 -9.59v-1.5M1400.39 358.8v-36.18m0 -1.11v-1.5m0 -1.89v-1.5m0 -2.8v-1.5m0 -2.37v-1.5m0 -1.65v-1.5m0 -1.02v-1.5M1401.47 358.8v-4.81m0 -1.54v-1.5m0 -1.98v-1.5m0 -2.73v-1.5m0 -1.21v-1.5m0 -1.61v-1.5m0 -0.8v-1.5m0 -2.53v-1.5m0 -4.73v-1.5m0 -9.92v-1.5M1402.65 358.8v-4.7m0 -2.39v-1.5m0 -1.76v-1.5m0 -0.82v-1.5m0 -2.08v-1.5M1403.76 358.8v-5.09m0 -1.36v-1.5m0 -2.86v-1.5m0 -11.41v-1.5m0 -4.19v-1.5M1404.78 358.8v-39.18m0 -2.09v-1.5m0 -1.17v-1.5m0 -1.77v-1.5m0 -2.26v-1.5m0 -8.2v-1.5M1406.03 358.8v-17.35m0 -0.74v-1.5m0 -2.06v-1.5m0 -1.64v-1.5m0 -2.55v-1.5m0 -2.85v-1.5m0 -3.53v-1.5M1407.25 358.8v-5.69m0 -2.02v-1.5m0 -1.35v-1.5m0 -2.16v-1.5m0 -5.52v-1.5m0 -7.59v-1.5M1408.48 358.8v-13.91m0 -1.94v-1.5m0 -1.96v-1.5m0 -2.33v-1.5m0 -0.97v-1.5m0 -9.39v-1.5M1409.54 358.8v-42.35m0 -2.74v-1.5m0 -2.53v-1.5m0 -2.86v-1.5m0 -1.7v-1.5M1410.64 358.8v-45.4m0 -2.5v-1.5m0 -0.9v-1.5m0 -0.97v-1.5m0 -1.58v-1.5m0 -1.87v-1.5m0 -2.14v-1.5m0 -7.67v-1.5M1411.7 358.8v-32.58m0 -2.66v-1.5m0 -2.37v-1.5m0 -0.7v-1.5m0 -2.08v-1.5m0 -0.95v-1.5M1412.73 358.8v-40.48m0 -1.75v-1.5m0 -2.87v-1.5m0 -2.6v-1.5m0 -0.81v-1.5m0 -2.11v-1.5m0 -2.6v-1.5M1413.73 358.8v-30.02m0 -1.41v-1.5m0 -1.33v-1.5m0 -2.83v-1.5m0 -1.2v-1.5m0 -1.62v-1.5m0 -6.95v-1.5M1414.86 358.8v-6.02m0 -0.96v-1.5m0 -2.15v-1.5m0 -1.05v-1.5m0 -2.63v-1.5m0 -2.01v-1.5m0 -0.97v-1.5m0 -2.58v-1.5m0 -7.31v-1.5M1415.89 358.8v-5.08m0 -2.61v-1.5m0 -0.84v-1.5m0 -8.73v-1.5m0 -5.94v-1.5m0 -7.42v-1.5M1416.94 358.8v-7.77m0 -2.6v-1.5m0 -0.93v-1.5m0 -0.69v-1.5m0 -1.34v-1.5m0 -1.31v-1.5m0 -2.4v-1.5m0 -7.64v-1.5m0 -6.06v-1.5m0 -9.75v-1.5M1418.15 358.8v-5.61m0 -1.33v-1.5m0 -2.91v-1.5m0 -1.06v-1.5m0 -0.77v-1.5m0 -2.52v-1.5m0 -4.1v-1.5m0 -5.58v-1.5M1419.27 358.8v-6.03m0 -0.86v-1.5m0 -2.02v-1.5m0 -6.63v-1.5m0 -3.96v-1.5M1420.32 358.8v-40.53m0 -1.59v-1.5m0 -0.87v-1.5m0 -1.32v-1.5m0 -1.24v-1.5m0 -2.9v-1.5M1421.48 358.8v-14.41m0 -1.02v-1.5m0 -0.71v-1.5m0 -1.07v-1.5m0 -5.21v-1.5M1422.55 358.8v-12.56m0 -1.73v-1.5m0 -2.43v-1.5m0 -2.45v-1.5m0 -2.09v-1.5m0 -9.86v-1.5m0 -5.97v-1.5M1423.68 358.8v-33.45m0 -0.82v-1.5m0 -2.54v-1.5m0 -0.75v-1.5m0 -1.63v-1.5m0 -2v-1.5m0 -10.05v-1.5m0 -3.03v-1.5M1424.75 358.8v-7.89m0 -2.11v-1.5m0 -0.85v-1.5m0 -2.58v-1.5m0 -2.89v-1.5M1425.88 358.8v-48.74m0 -2.84v-1.5m0 -2.7v-1.5m0 -1.11v-1.5M1427.04 358.8v-49.46m0 -0.86v-1.5m0 -0.68v-1.5m0 -2.76v-1.5m0 -1.46v-1.5m0 -9.79v-1.5M1428.17 358.8v-6.25m0 -0.85v-1.5m0 -0.71v-1.5m0 -1.57v-1.5m0 -4.87v-1.5m0 -5.58v-1.5M1429.27 358.8v-4.72m0 -2.35v-1.5m0 -2.24v-1.5m0 -1.85v-1.5m0 -1.2v-1.5m0 -1.13v-1.5m0 -1.61v-1.5m0 -1.29v-1.5m0 -2.66v-1.5m0 -6.77v-1.5m0 -8.71v-1.5M1430.47 358.8v-4.83m0 -2.74v-1.5m0 -0.77v-1.5m0 -1.17v-1.5m0 -2.06v-1.5m0 -2.59v-1.5m0 -2.51v-1.5m0 -9.2v-1.5M1431.69 358.8v-24.42m0 -0.83v-1.5m0 -2.46v-1.5m0 -0.96v-1.5m0 -0.72v-1.5m0 -2.91v-1.5m0 -1.04v-1.5M1432.73 358.8v-4.36m0 -2.21v-1.5m0 -2.56v-1.5m0 -1.33v-1.5m0 -2.57v-1.5m0 -2.84v-1.5m0 -3.06v-1.5m0 -9.42v-1.5m0 -7.34v-1.5m0 -10.72v-1.5M1433.77 358.8v-4.64m0 -2.87v-1.5m0 -2.81v-1.5m0 -1.65v-1.5m0 -2.46v-1.5m0 -2.29v-1.5m0 -1.29v-1.5m0 -1.12v-1.5m0 -9.36v-1.5M1434.8 358.8v-32.61m0 -1.38v-1.5m0 -0.82v-1.5m0 -2.89v-1.5m0 -1.36v-1.5m0 -2.57v-1.5m0 -1.22v-1.5m0 -2.83v-1.5m0 -1.77v-1.5m0 -2.54v-1.5m0 -2.02v-1.5m0 -2.39v-1.5m0 -3.17v-1.5m0 -3.3v-1.5m0 -5.77v-1.5M1436.04 358.8v-27.74m0 -0.78v-1.5m0 -2.75v-1.5m0 -2.15v-1.5m0 -2.05v-1.5m0 -2.56v-1.5m0 -1.2v-1.5m0 -2.06v-1.5m0 -2.2v-1.5m0 -2.37v-1.5m0 -0.88v-1.5m0 -2.31v-1.5m0 -10.78v-1.5m0 -8.26v-1.5m0 -4.06v-1.5m0 -10.92v-1.5M1437.28 358.8v-30.32m0 -1.42v-1.5m0 -2.47v-1.5m0 -2.12v-1.5m0 -0.93v-1.5m0 -1.19v-1.5m0 -9.93v-1.5m0 -9.94v-1.5m0 -3.18v-1.5m0 -7.28v-1.5m0 -9.04v-1.5M1438.33 358.8v-19.29m0 -2.31v-1.5m0 -1.15v-1.5m0 -2.57v-1.5m0 -8.62v-1.5m0 -5.16v-1.5m0 -4.96v-1.5M1439.58 358.8v-4.73m0 -2.63v-1.5m0 -2.38v-1.5m0 -1.78v-1.5m0 -2.83v-1.5m0 -2.18v-1.5m0 -11.23v-1.5M1440.63 358.8v-5.46m0 -2.37v-1.5m0 -2.63v-1.5m0 -1.43v-1.5m0 -1.48v-1.5m0 -1.22v-1.5m0 -2.74v-1.5m0 -2.7v-1.5m0 -6.55v-1.5m0 -6.18v-1.5m0 -3.71v-1.5m0 -11.44v-1.5M1441.76 358.8v-5.35m0 -2.35v-1.5m0 -2.66v-1.5m0 -2.57v-1.5m0 -1.45v-1.5m0 -1.81v-1.5m0 -2.79v-1.5m0 -1.81v-1.5m0 -2.47v-1.5m0 -1.85v-1.5m0 -10.13v-1.5m0 -3.13v-1.5m0 -2.51v-1.5m0 -3.33v-1.5M1442.88 358.8v-5.8m0 -0.97v-1.5m0 -2.54v-1.5m0 -1.81v-1.5m0 -2.56v-1.5m0 -1.5v-1.5m0 -9.58v-1.5m0 -2.54v-1.5m0 -6.79v-1.5m0 -5.55v-1.5m0 -4.81v-1.5M1444.11 358.8v-7.19m0 -2.32v-1.5m0 -2.53v-1.5m0 -2.83v-1.5m0 -2.17v-1.5m0 -4.85v-1.5m0 -7.81v-1.5M1445.12 358.8v-20.58m0 -1.88v-1.5m0 -0.82v-1.5m0 -1.89v-1.5m0 -6.28v-1.5m0 -2.56v-1.5M1446.2 358.8v-16.48m0 -1.97v-1.5m0 -2.25v-1.5m0 -0.97v-1.5m0 -1.57v-1.5m0 -1.15v-1.5m0 -1.89v-1.5m0 -2.52v-1.5m0 -4.7v-1.5m0 -3.78v-1.5M1447.35 358.8v-8.07m0 -2.49v-1.5m0 -2.39v-1.5m0 -2.17v-1.5m0 -0.69v-1.5M1569.03 358.8v-4.65m0 -2.26v-1.5m0 -2.36v-1.5m0 -3.43v-1.5M1570.13 358.8v-10.14m0 -1.7v-1.5m0 -2.77v-1.5m0 -0.96v-1.5m0 -10.72v-1.5M1571.19 358.8v-4.9m0 -1.22v-1.5m0 -1.13v-1.5m0 -2.23v-1.5m0 -8.33v-1.5M1572.41 358.8v-5.64m0 -1.47v-1.5m0 -2.05v-1.5m0 -2.72v-1.5M1573.54 358.8v-5.61m0 -1.28v-1.5m0 -2.23v-1.5m0 -2.3v-1.5m0 -2v-1.5M1574.71 358.8v-5.67m0 -1.94v-1.5m0 -2.05v-1.5m0 -2.01v-1.5M1575.73 358.8v-5.29m0 -2.59v-1.5m0 -2.15v-1.5M1576.94 358.8v-5.03m0 -1.05v-1.5m0 -1.35v-1.5m0 -1.2v-1.5M1578.02 358.8v-15.55m0 -2.88v-1.5m0 -1.2v-1.5m0 -2.78v-1.5m0 -9.54v-1.5M1579.15 358.8v-30.86m0 -0.95v-1.5m0 -1.37v-1.5m0 -2.23v-1.5m0 -1.94v-1.5m0 -2.2v-1.5m0 -2.67v-1.5m0 -4.77v-1.5M1580.2 358.8v-7.56m0 -1.36v-1.5m0 -2.38v-1.5m0 -2.28v-1.5m0 -1.22v-1.5M1581.3 358.8v-11.61m0 -2.48v-1.5M1582.51 358.8v-4.92m0 -1.07v-1.5m0 -1.59v-1.5m0 -1.93v-1.5m0 -0.97v-1.5m0 -0.75v-1.5m0 -2.3v-1.5m0 -11.56v-1.5m0 -11.04v-1.5M1583.71 358.8v-8.08m0 -1.47v-1.5m0 -2.81v-1.5m0 -2.24v-1.5m0 -1v-1.5m0 -6.63v-1.5m0 -2.53v-1.5m0 -6.23v-1.5m0 -7.29v-1.5M1584.83 358.8v-6.52m0 -1.85v-1.5m0 -2.05v-1.5m0 -1.7v-1.5m0 -2.04v-1.5m0 -6.72v-1.5m0 -10.86v-1.5M1586.02 358.8v-4.97m0 -2.28v-1.5m0 -1.48v-1.5m0 -1.81v-1.5m0 -1.83v-1.5m0 -2.32v-1.5m0 -1.76v-1.5m0 -2.1v-1.5m0 -1.16v-1.5m0 -3.15v-1.5m0 -8.63v-1.5m0 -11.56v-1.5M1587.14 358.8v-34.21m0 -1.27v-1.5m0 -2.22v-1.5m0 -1.65v-1.5m0 -2.46v-1.5m0 -1.29v-1.5m0 -1.42v-1.5m0 -2.07v-1.5m0 -0.9v-1.5m0 -2.86v-1.5m0 -8.07v-1.5M1588.23 358.8v-22.61m0 -0.85v-1.5m0 -1.66v-1.5m0 -1.73v-1.5m0 -1.92v-1.5m0 -6.78v-1.5m0 -4.29v-1.5m0 -8.75v-1.5m0 -4.94v-1.5M1589.37 358.8v-5.41m0 -2.74v-1.5m0 -2.58v-1.5m0 -1.16v-1.5m0 -2.86v-1.5m0 -1.84v-1.5m0 -1.92v-1.5m0 -1.29v-1.5m0 -1.54v-1.5m0 -1.92v-1.5m0 -2.81v-1.5m0 -9.1v-1.5m0 -5.7v-1.5m0 -8.84v-1.5M1590.42 358.8v-5.44m0 -1.46v-1.5m0 -2.27v-1.5m0 -2.27v-1.5m0 -1.8v-1.5m0 -2.31v-1.5m0 -0.99v-1.5m0 -2.5v-1.5m0 -2.85v-1.5M1591.5 358.8v-53.92m0 -1.93v-1.5m0 -1.15v-1.5m0 -1.89v-1.5m0 -2.58v-1.5m0 -2.19v-1.5m0 -2.54v-1.5m0 -0.75v-1.5m0 -2.85v-1.5m0 -2.74v-1.5m0 -1.8v-1.5m0 -10.96v-1.5m0 -4.17v-1.5M1592.68 358.8v-80.26m0 -2.76v-1.5m0 -0.85v-1.5m0 -2.4v-1.5m0 -1.92v-1.5m0 -4.53v-1.5m0 -10.7v-1.5m0 -7.35v-1.5m0 -2.89v-1.5M1593.87 358.8v-34.31m0 -2v-1.5m0 -0.86v-1.5m0 -2.72v-1.5m0 -0.69v-1.5m0 -2.85v-1.5m0 -1.94v-1.5m0 -2.36v-1.5m0 -8.63v-1.5m0 -7.14v-1.5m0 -6.52v-1.5m0 -4.41v-1.5m0 -5.13v-1.5M1594.88 358.8v-54.63m0 -1.94v-1.5m0 -1.86v-1.5m0 -2.79v-1.5m0 -10.29v-1.5m0 -4.92v-1.5m0 -7.6v-1.5M1596.07 358.8v-49.94m0 -2.17v-1.5m0 -1.92v-1.5m0 -2.33v-1.5m0 -5.94v-1.5m0 -11.09v-1.5M1597.27 358.8v-27.62m0 -2.74v-1.5m0 -2.1v-1.5m0 -7.29v-1.5m0 -5.74v-1.5M1598.38 358.8v-10.85m0 -2v-1.5m0 -1.12v-1.5m0 -0.75v-1.5m0 -10.55v-1.5M1599.4 358.8v-5.76m0 -1.92v-1.5m0 -2.72v-1.5m0 -1.57v-1.5m0 -2.78v-1.5m0 -8.72v-1.5m0 -3.24v-1.5M1600.57 358.8v-4.67m0 -2.37v-1.5m0 -1.01v-1.5m0 -7.45v-1.5m0 -5.91v-1.5M1601.63 358.8v-13.85m0 -0.81v-1.5m0 -2.27v-1.5m0 -0.86v-1.5m0 -9.64v-1.5M1602.79 358.8v-29.55m0 -1.36v-1.5m0 -2.84v-1.5m0 -6.02v-1.5m0 -4.42v-1.5m0 -5.52v-1.5M1603.88 358.8v-5.72m0 -2.01v-1.5m0 -2.56v-1.5m0 -0.69v-1.5m0 -2.46v-1.5m0 -2.85v-1.5m0 -6.22v-1.5M1605.04 358.8v-4.92m0 -2.6v-1.5m0 -1.73v-1.5m0 -2.12v-1.5m0 -1.31v-1.5m0 -2.2v-1.5m0 -1.49v-1.5M1606.11 358.8v-5.12m0 -2.6v-1.5m0 -1.66v-1.5m0 -2.17v-1.5m0 -4.95v-1.5m0 -7.87v-1.5m0 -8.58v-1.5M1607.23 358.8v-8.31m0 -1.77v-1.5m0 -2.55v-1.5m0 -1.63v-1.5m0 -0.73v-1.5m0 -7.32v-1.5m0 -6.74v-1.5M1608.36 358.8v-8.67m0 -2.68v-1.5m0 -2.53v-1.5m0 -0.87v-1.5m0 -2.15v-1.5m0 -10.79v-1.5m0 -8.46v-1.5M1609.52 358.8v-14.63m0 -1.33v-1.5m0 -2.42v-1.5m0 -1.64v-1.5m0 -8.45v-1.5M1610.57 358.8v-4.83m0 -2.51v-1.5m0 -2.13v-1.5m0 -1v-1.5m0 -0.96v-1.5m0 -1.79v-1.5m0 -4.13v-1.5M1611.81 358.8v-11.55m0 -1.92v-1.5m0 -2.18v-1.5m0 -2.22v-1.5m0 -5.12v-1.5m0 -6.97v-1.5m0 -3.11v-1.5m0 -2.94v-1.5M1612.88 358.8v-14.35m0 -2.07v-1.5m0 -2.28v-1.5m0 -1.64v-1.5m0 -1.52v-1.5m0 -2.3v-1.5m0 -0.69v-1.5m0 -6.81v-1.5m0 -4.85v-1.5m0 -6.57v-1.5M1613.96 358.8v-7.08m0 -2.38v-1.5m0 -2.45v-1.5m0 -1.79v-1.5m0 -1.28v-1.5m0 -9.98v-1.5m0 -3.57v-1.5m0 -7.95v-1.5M1615.02 358.8v-5.32m0 -2.6v-1.5m0 -1.55v-1.5m0 -7.37v-1.5M1616.04 358.8v-6.12m0 -2.26v-1.5m0 -2.47v-1.5m0 -1.93v-1.5m0 -2.15v-1.5m0 -4.29v-1.5m0 -3.98v-1.5M1617.14 358.8v-12.97m0 -1v-1.5m0 -2.19v-1.5m0 -1.23v-1.5m0 -8.24v-1.5M1618.34 358.8v-5.09m0 -1.89v-1.5m0 -1.05v-1.5m0 -0.93v-1.5m0 -2.35v-1.5m0 -0.78v-1.5m0 -2.77v-1.5m0 -1.08v-1.5m0 -9.1v-1.5m0 -6.6v-1.5M1619.51 358.8v-5.54m0 -2.37v-1.5m0 -1.97v-1.5m0 -1.96v-1.5m0 -1.53v-1.5m0 -2.85v-1.5m0 -1.54v-1.5m0 -4.71v-1.5M1620.56 358.8v-5.41m0 -1.55v-1.5m0 -2.35v-1.5m0 -1.92v-1.5m0 -2.52v-1.5m0 -2.54v-1.5m0 -2.25v-1.5m0 -2.86v-1.5m0 -8.45v-1.5m0 -11.44v-1.5M1621.6 358.8v-5.74m0 -1.62v-1.5m0 -1.04v-1.5m0 -1.46v-1.5m0 -2.43v-1.5m0 -4.4v-1.5m0 -2.6v-1.5M1622.68 358.8v-27.37m0 -2.31v-1.5m0 -1.91v-1.5m0 -2.13v-1.5m0 -2.35v-1.5m0 -1.41v-1.5m0 -1.13v-1.5m0 -2.23v-1.5m0 -2.02v-1.5m0 -11.58v-1.5m0 -6.3v-1.5m0 -6.3v-1.5M1623.87 358.8v-50.25m0 -2.84v-1.5m0 -0.92v-1.5m0 -3.97v-1.5M1624.99 358.8v-55.82m0 -1v-1.5m0 -1.65v-1.5m0 -2.36v-1.5m0 -2.42v-1.5M1626.22 358.8v-46.01m0 -2.11v-1.5m0 -1.87v-1.5m0 -1.23v-1.5m0 -1.04v-1.5m0 -1.45v-1.5m0 -1.31v-1.5m0 -5.75v-1.5M1627.39 358.8v-13.8m0 -1.8v-1.5m0 -1.32v-1.5m0 -2.75v-1.5m0 -2.13v-1.5m0 -2.56v-1.5m0 -1.19v-1.5m0 -11.42v-1.5M1628.54 358.8v-4.73m0 -0.74v-1.5m0 -1.11v-1.5m0 -1.36v-1.5m0 -1.86v-1.5m0 -1.56v-1.5m0 -2.92v-1.5M1629.73 358.8v-23.15m0 -2.1v-1.5m0 -1.01v-1.5M1630.92 358.8v-30.01m0 -1.08v-1.5m0 -1.82v-1.5m0 -2.77v-1.5m0 -2.88v-1.5m0 -2.32v-1.5m0 -2.67v-1.5m0 -3.39v-1.5m0 -7.15v-1.5M1632.01 358.8v-28.62m0 -2.85v-1.5m0 -0.82v-1.5m0 -1.34v-1.5m0 -4.07v-1.5m0 -4.55v-1.5m0 -5.42v-1.5M1633.07 358.8v-27.3m0 -1.04v-1.5m0 -1.16v-1.5m0 -1.15v-1.5m0 -1.95v-1.5m0 -1.34v-1.5m0 -1.29v-1.5m0 -1.84v-1.5m0 -0.7v-1.5M1634.18 358.8v-26.12m0 -1.04v-1.5m0 -0.77v-1.5m0 -1.76v-1.5m0 -8.28v-1.5M1635.3 358.8v-6.52m0 -1.45v-1.5m0 -2.05v-1.5m0 -2.56v-1.5m0 -7.22v-1.5m0 -6.05v-1.5M1636.34 358.8v-11.74m0 -0.95v-1.5m0 -2.34v-1.5m0 -1.64v-1.5m0 -2.43v-1.5M1637.45 358.8v-7.79m0 -2.4v-1.5m0 -2.53v-1.5m0 -1.8v-1.5m0 -2.76v-1.5m0 -2.26v-1.5m0 -11.05v-1.5M1638.61 358.8v-5.95m0 -1.45v-1.5m0 -1.92v-1.5m0 -2.68v-1.5m0 -2.18v-1.5m0 -1.32v-1.5m0 -1.32v-1.5m0 -2.8v-1.5m0 -8.65v-1.5m0 -2.98v-1.5m0 -4.87v-1.5M1639.64 358.8v-5.34m0 -0.86v-1.5m0 -1.24v-1.5m0 -2.65v-1.5m0 -2.87v-1.5m0 -3.52v-1.5M1640.68 358.8v-5.59m0 -1.14v-1.5m0 -0.68v-1.5m0 -2.49v-1.5m0 -2.1v-1.5m0 -1.42v-1.5m0 -1.97v-1.5m0 -3.25v-1.5m0 -5.37v-1.5M1641.72 358.8v-5.09m0 -0.86v-1.5m0 -1.36v-1.5m0 -2.08v-1.5m0 -2.25v-1.5m0 -2.23v-1.5m0 -2.64v-1.5m0 -8.75v-1.5M1642.79 358.8v-5.9m0 -2.86v-1.5m0 -1.07v-1.5m0 -2.11v-1.5m0 -0.95v-1.5m0 -1.13v-1.5m0 -10.99v-1.5m0 -6.21v-1.5M1644.03 358.8v-6.71m0 -1.97v-1.5m0 -2.81v-1.5m0 -2.21v-1.5m0 -8.6v-1.5M1645.04 358.8v-31.56m0 -1.42v-1.5m0 -1.9v-1.5m0 -2.86v-1.5m0 -9.23v-1.5m0 -8.68v-1.5m0 -3.67v-1.5M1646.08 358.8v-25.14m0 -2.43v-1.5m0 -0.74v-1.5m0 -0.89v-1.5m0 -1.3v-1.5m0 -1.12v-1.5m0 -8.75v-1.5m0 -3.57v-1.5m0 -3.35v-1.5M1647.12 358.8v-28.75m0 -1.35v-1.5m0 -2.01v-1.5m0 -11.45v-1.5m0 -5.09v-1.5m0 -4.57v-1.5M1648.24 358.8v-40.83m0 -0.73v-1.5m0 -1.35v-1.5m0 -1.39v-1.5m0 -2.35v-1.5m0 -2.2v-1.5m0 -2.35v-1.5m0 -6.1v-1.5m0 -6.43v-1.5m0 -11.13v-1.5m0 -2.94v-1.5M1649.25 358.8v-5.56m0 -2.23v-1.5m0 -2.14v-1.5m0 -9.95v-1.5m0 -7.36v-1.5m0 -5.51v-1.5M1650.36 358.8v-6.12m0 -2.38v-1.5m0 -1.31v-1.5m0 -1.82v-1.5m0 -1.72v-1.5m0 -8.04v-1.5M1651.4 358.8v-5.06m0 -2.81v-1.5m0 -1.16v-1.5m0 -2.12v-1.5m0 -3.33v-1.5m0 -7.48v-1.5M1652.47 358.8v-7.13m0 -1.88v-1.5m0 -1.97v-1.5m0 -2.79v-1.5m0 -1.98v-1.5m0 -1.16v-1.5m0 -1.63v-1.5M1653.67 358.8v-29.04m0 -0.9v-1.5m0 -0.89v-1.5m0 -0.94v-1.5m0 -1.81v-1.5m0 -1.39v-1.5m0 -1.07v-1.5M1654.71 358.8v-4.71m0 -2.06v-1.5m0 -1.26v-1.5m0 -1.78v-1.5m0 -1.67v-1.5m0 -1.98v-1.5m0 -1.95v-1.5m0 -10.92v-1.5m0 -8.22v-1.5m0 -5.72v-1.5M1655.87 358.8v-22.78m0 -1.25v-1.5m0 -2.36v-1.5m0 -0.92v-1.5m0 -0.75v-1.5m0 -4.99v-1.5m0 -7.13v-1.5m0 -8.28v-1.5m0 -5.38v-1.5M1656.97 358.8v-48.5m0 -1.35v-1.5m0 -1.74v-1.5m0 -2.48v-1.5m0 -2.66v-1.5m0 -2.81v-1.5m0 -1.54v-1.5m0 -1.43v-1.5m0 -1.42v-1.5m0 -2.43v-1.5m0 -11.27v-1.5m0 -7.66v-1.5m0 -6.56v-1.5m0 -8.61v-1.5M1658.07 358.8v-15.55m0 -1.58v-1.5m0 -1.27v-1.5m0 -1.01v-1.5m0 -2.84v-1.5m0 -2.23v-1.5m0 -1.54v-1.5M1659.28 358.8v-25.16m0 -2.84v-1.5m0 -2.45v-1.5m0 -4.21v-1.5m0 -7.69v-1.5M1660.32 358.8v-7.03m0 -0.88v-1.5m0 -0.9v-1.5m0 -2.27v-1.5m0 -8.26v-1.5m0 -4.48v-1.5m0 -6.26v-1.5M1661.55 358.8v-5.75m0 -0.91v-1.5m0 -1.92v-1.5m0 -1.24v-1.5m0 -2.8v-1.5M1662.77 358.8v-5.55m0 -2.86v-1.5m0 -1.22v-1.5m0 -1.22v-1.5m0 -1.49v-1.5m0 -1.21v-1.5m0 -1.22v-1.5M1663.94 358.8v-5.11m0 -0.75v-1.5m0 -1.01v-1.5m0 -2.14v-1.5m0 -7.63v-1.5m0 -4.72v-1.5m0 -5.17v-1.5M1664.95 358.8v-5.72m0 -1.19v-1.5m0 -1.41v-1.5m0 -2.55v-1.5m0 -1.66v-1.5m0 -1.67v-1.5m0 -9.92v-1.5M1666.12 358.8v-5.61m0 -2.26v-1.5m0 -1.17v-1.5m0 -1.24v-1.5m0 -1.13v-1.5m0 -2.2v-1.5m0 -2.8v-1.5m0 -9.43v-1.5m0 -4.94v-1.5M1667.27 358.8v-29.7m0 -1.23v-1.5m0 -1.32v-1.5m0 -0.86v-1.5m0 -1.48v-1.5m0 -5.61v-1.5m0 -6.7v-1.5M1668.46 358.8v-5.91m0 -1.48v-1.5m0 -1.05v-1.5m0 -2v-1.5m0 -0.81v-1.5m0 -0.79v-1.5m0 -2.11v-1.5m0 -4.01v-1.5m0 -10.28v-1.5M1669.51 358.8v-4.69m0 -1.36v-1.5m0 -1.81v-1.5m0 -2.84v-1.5m0 -0.84v-1.5m0 -8.02v-1.5m0 -10.93v-1.5M1670.75 358.8v-17.67m0 -1.87v-1.5m0 -2.77v-1.5m0 -1.72v-1.5m0 -1.69v-1.5m0 -7.67v-1.5m0 -2.79v-1.5M1671.97 358.8v-6.27m0 -2.51v-1.5m0 -2.68v-1.5m0 -8.14v-1.5m0 -5.3v-1.5M1673 358.8v-32.96m0 -1.35v-1.5m0 -1.82v-1.5m0 -1.27v-1.5m0 -1.3v-1.5m0 -2.64v-1.5M1674.08 358.8v-37.16m0 -2.25v-1.5m0 -2.22v-1.5m0 -4.92v-1.5m0 -8.91v-1.5M1675.09 358.8v-13.45m0 -2.65v-1.5m0 -2.41v-1.5m0 -1.12v-1.5m0 -1.15v-1.5m0 -0.7v-1.5m0 -2.4v-1.5m0 -3.29v-1.5m0 -5.02v-1.5M1676.3 358.8v-5.12m0 -0.78v-1.5m0 -1.95v-1.5m0 -0.98v-1.5M1677.53 358.8v-4.58m0 -2.69v-1.5m0 -9.38v-1.5M1678.77 358.8v-5.41m0 -2.35v-1.5m0 -2.09v-1.5M1679.93 358.8v-4.46m0 -2.45v-1.5m0 -2.42v-1.5m0 -2.2v-1.5m0 -1.2v-1.5m0 -4.47v-1.5M1681.09 358.8v-5.54m0 -1.7v-1.5m0 -2.64v-1.5m0 -2.22v-1.5m0 -1.65v-1.5m0 -2.2v-1.5m0 -0.85v-1.5m0 -1.55v-1.5m0 -10.23v-1.5m0 -6.9v-1.5M1682.26 358.8v-6.98m0 -2.2v-1.5m0 -1.68v-1.5m0 -1.2v-1.5m0 -0.78v-1.5m0 -2.04v-1.5m0 -4.18v-1.5m0 -7.84v-1.5m0 -6.44v-1.5m0 -6.22v-1.5M1789.76 358.8v-9.93m0 -2.02v-1.5m0 -0.91v-1.5m0 -2.87v-1.5m0 -2.83v-1.5m0 -3.31v-1.5m0 -8.6v-1.5M1790.88 358.8v-5.17m0 -1.36v-1.5m0 -1.43v-1.5m0 -2.13v-1.5m0 -0.88v-1.5m0 -1.29v-1.5m0 -1.06v-1.5m0 -2.93v-1.5m0 -6.84v-1.5m0 -4.37v-1.5M1791.99 358.8v-4.61m0 -2.4v-1.5m0 -2.15v-1.5m0 -1.02v-1.5m0 -5.97v-1.5m0 -6v-1.5m0 -6.67v-1.5M1793.23 358.8v-6.96m0 -0.88v-1.5m0 -2.57v-1.5m0 -5.9v-1.5M1794.31 358.8v-6.27m0 -2.74v-1.5m0 -2.66v-1.5m0 -2.66v-1.5m0 -0.83v-1.5m0 -0.73v-1.5m0 -1.57v-1.5m0 -1.61v-1.5m0 -1.59v-1.5m0 -7.97v-1.5M1795.32 358.8v-44m0 -2.64v-1.5m0 -0.87v-1.5m0 -0.73v-1.5m0 -1.68v-1.5m0 -2.65v-1.5m0 -1.53v-1.5m0 -0.92v-1.5m0 -0.95v-1.5m0 -1.18v-1.5m0 -2.61v-1.5m0 -5.58v-1.5m0 -10.38v-1.5m0 -11.14v-1.5m0 -9.6v-1.5M1796.42 358.8v-43.92m0 -0.71v-1.5m0 -2.76v-1.5m0 -1.13v-1.5m0 -2.08v-1.5m0 -1.31v-1.5m0 -7.45v-1.5M1797.46 358.8v-5.04m0 -0.98v-1.5m0 -1.4v-1.5m0 -2.54v-1.5m0 -2.83v-1.5m0 -0.7v-1.5m0 -2.57v-1.5m0 -2.32v-1.5m0 -0.84v-1.5m0 -1.03v-1.5m0 -10.43v-1.5M1798.48 358.8v-5.78m0 -1.8v-1.5m0 -0.96v-1.5m0 -2.03v-1.5m0 -1.67v-1.5m0 -0.83v-1.5m0 -2.51v-1.5m0 -2.69v-1.5m0 -2.84v-1.5m0 -2.12v-1.5m0 -1.98v-1.5m0 -4.29v-1.5m0 -11.34v-1.5m0 -9.24v-1.5M1799.62 358.8v-24.34m0 -0.92v-1.5m0 -2.9v-1.5m0 -0.74v-1.5m0 -1.28v-1.5m0 -1.77v-1.5m0 -0.76v-1.5m0 -1.36v-1.5m0 -2.62v-1.5m0 -2.07v-1.5m0 -1.98v-1.5m0 -2.67v-1.5m0 -6.42v-1.5m0 -3.62v-1.5m0 -6.05v-1.5m0 -6.06v-1.5m0 -6.39v-1.5M1800.86 358.8v-8.26m0 -1.44v-1.5m0 -0.99v-1.5m0 -1.47v-1.5m0 -2.63v-1.5m0 -1.47v-1.5m0 -2.51v-1.5m0 -2.23v-1.5m0 -1.25v-1.5m0 -1.1v-1.5m0 -0.92v-1.5m0 -6.62v-1.5m0 -8.87v-1.5m0 -5.19v-1.5M1802.01 358.8v-19.41m0 -2.91v-1.5m0 -0.89v-1.5m0 -10.94v-1.5m0 -6.18v-1.5m0 -5.13v-1.5m0 -2.87v-1.5m0 -4.51v-1.5M1803.17 358.8v-53.66m0 -1.93v-1.5m0 -0.74v-1.5m0 -0.9v-1.5m0 -2.05v-1.5m0 -1.85v-1.5m0 -2.69v-1.5m0 -2.7v-1.5m0 -1.03v-1.5m0 -2.09v-1.5m0 -9.89v-1.5m0 -9.58v-1.5m0 -7.7v-1.5m0 -7.2v-1.5M1804.25 358.8v-51.63m0 -1.45v-1.5m0 -1.66v-1.5m0 -1.65v-1.5m0 -2.62v-1.5m0 -1.22v-1.5m0 -6.53v-1.5m0 -9.39v-1.5M1805.39 358.8v-42.14m0 -1.49v-1.5m0 -1v-1.5m0 -1.66v-1.5m0 -1.49v-1.5m0 -1.43v-1.5m0 -2.53v-1.5m0 -2.69v-1.5m0 -9.43v-1.5m0 -9.52v-1.5M1806.58 358.8v-15.41m0 -1.03v-1.5m0 -1.28v-1.5m0 -2.45v-1.5m0 -0.99v-1.5m0 -2.84v-1.5m0 -2.76v-1.5m0 -0.67v-1.5m0 -2.1v-1.5M1807.73 358.8v-30.7m0 -1.91v-1.5m0 -1.98v-1.5m0 -2.2v-1.5m0 -2.82v-1.5m0 -0.85v-1.5m0 -4.65v-1.5m0 -2.55v-1.5m0 -3.11v-1.5m0 -4.35v-1.5M1808.93 358.8v-7.96m0 -2.89v-1.5m0 -1.1v-1.5m0 -1.56v-1.5m0 -1.5v-1.5m0 -4.46v-1.5m0 -3.18v-1.5m0 -6.08v-1.5m0 -4.35v-1.5M1810.06 358.8v-4.45m0 -2.05v-1.5m0 -1.74v-1.5m0 -2.22v-1.5m0 -1.48v-1.5m0 -0.98v-1.5m0 -2.11v-1.5m0 -1.56v-1.5m0 -2.64v-1.5m0 -5.49v-1.5m0 -4.54v-1.5M1811.11 358.8v-6.12m0 -1.5v-1.5m0 -2.85v-1.5m0 -1.13v-1.5m0 -2.78v-1.5m0 -5.58v-1.5M1812.26 358.8v-7.11m0 -1.88v-1.5m0 -1.38v-1.5m0 -2.19v-1.5m0 -2.21v-1.5m0 -0.76v-1.5m0 -0.91v-1.5m0 -2.8v-1.5m0 -2.29v-1.5m0 -2.52v-1.5m0 -4.22v-1.5m0 -11.43v-1.5m0 -5.26v-1.5m0 -3.78v-1.5M1813.38 358.8v-30.7m0 -2.62v-1.5m0 -1.11v-1.5m0 -1.91v-1.5m0 -2.63v-1.5m0 -5.97v-1.5M1814.42 358.8v-30.17m0 -2.52v-1.5m0 -1.02v-1.5m0 -0.74v-1.5m0 -2.69v-1.5m0 -4.08v-1.5m0 -7.53v-1.5M1815.58 358.8v-4.82m0 -1.11v-1.5m0 -0.81v-1.5m0 -2.69v-1.5m0 -1.15v-1.5m0 -2.69v-1.5m0 -6.68v-1.5m0 -11.05v-1.5m0 -3.3v-1.5m0 -10.34v-1.5M1816.78 358.8v-5.8m0 -2.47v-1.5m0 -1.14v-1.5m0 -2.85v-1.5m0 -0.86v-1.5m0 -0.96v-1.5m0 -0.7v-1.5m0 -2v-1.5m0 -1.58v-1.5m0 -3.29v-1.5M1817.82 358.8v-5.56m0 -1.05v-1.5m0 -1.82v-1.5m0 -1.44v-1.5m0 -1.29v-1.5m0 -0.69v-1.5m0 -1.97v-1.5m0 -1.66v-1.5m0 -2.22v-1.5m0 -1.08v-1.5m0 -2.88v-1.5m0 -2.68v-1.5M1818.95 358.8v-10.21m0 -1.8v-1.5m0 -2.37v-1.5m0 -2.61v-1.5m0 -1.38v-1.5m0 -2.15v-1.5m0 -0.72v-1.5m0 -2.67v-1.5M1820.14 358.8v-64.3m0 -2.34v-1.5m0 -0.72v-1.5m0 -2.56v-1.5m0 -2.26v-1.5m0 -2.44v-1.5m0 -1.03v-1.5m0 -2.42v-1.5m0 -1.94v-1.5m0 -3.87v-1.5m0 -3.71v-1.5M1821.24 358.8v-67.01m0 -2.21v-1.5m0 -0.97v-1.5m0 -1.03v-1.5m0 -2.13v-1.5m0 -2.68v-1.5m0 -8.66v-1.5M1822.3 358.8v-64.79m0 -1.47v-1.5m0 -1.27v-1.5m0 -2.45v-1.5m0 -1.3v-1.5m0 -6.32v-1.5m0 -6.83v-1.5M1823.4 358.8v-39.4m0 -2.47v-1.5m0 -1.54v-1.5m0 -0.71v-1.5m0 -1.84v-1.5m0 -1.43v-1.5m0 -4.93v-1.5m0 -5.18v-1.5m0 -2.52v-1.5M1824.53 358.8v-16.08m0 -1.52v-1.5m0 -1.7v-1.5m0 -1.74v-1.5m0 -2.73v-1.5m0 -1.45v-1.5m0 -1.01v-1.5m0 -3.27v-1.5m0 -5.59v-1.5m0 -7.75v-1.5M1825.7 358.8v-4.64m0 -1.54v-1.5m0 -1.5v-1.5m0 -0.92v-1.5m0 -1.99v-1.5m0 -2.41v-1.5m0 -0.76v-1.5m0 -1.86v-1.5m0 -3.6v-1.5m0 -9.62v-1.5m0 -7.62v-1.5M1826.84 358.8v-4.65m0 -2.17v-1.5m0 -1.58v-1.5m0 -2.76v-1.5m0 -2.73v-1.5m0 -2.59v-1.5m0 -6.26v-1.5M1827.87 358.8v-4.84m0 -2.61v-1.5m0 -0.73v-1.5m0 -7.77v-1.5m0 -3.14v-1.5m0 -5.2v-1.5m0 -7.68v-1.5M1829.08 358.8v-12.9m0 -1.88v-1.5m0 -1.67v-1.5m0 -0.74v-1.5m0 -2.26v-1.5m0 -2.27v-1.5m0 -2.71v-1.5m0 -11.13v-1.5M1830.31 358.8v-4.49m0 -2.3v-1.5m0 -1.28v-1.5m0 -1.62v-1.5m0 -2.06v-1.5m0 -1.8v-1.5m0 -5.07v-1.5m0 -10.5v-1.5M1831.33 358.8v-5.69m0 -2.77v-1.5m0 -2.27v-1.5m0 -2.66v-1.5m0 -2.39v-1.5m0 -2.14v-1.5M1832.39 358.8v-5.42m0 -1.07v-1.5m0 -1.7v-1.5m0 -1.43v-1.5m0 -2.09v-1.5m0 -2.1v-1.5m0 -2.7v-1.5m0 -2.56v-1.5m0 -3.1v-1.5M1833.44 358.8v-5.26m0 -2.86v-1.5m0 -1.15v-1.5m0 -11.27v-1.5m0 -9.43v-1.5M1834.65 358.8v-9.53m0 -2.62v-1.5m0 -2.65v-1.5m0 -2.03v-1.5m0 -2.15v-1.5m0 -1.18v-1.5m0 -7v-1.5m0 -7.88v-1.5m0 -5.4v-1.5m0 -2.89v-1.5M1835.88 358.8v-5.1m0 -2v-1.5m0 -2.82v-1.5m0 -1.92v-1.5m0 -2.29v-1.5m0 -2.47v-1.5m0 -0.89v-1.5m0 -1.98v-1.5m0 -11.02v-1.5M1836.89 358.8v-5.52m0 -1.29v-1.5m0 -2.64v-1.5m0 -2.43v-1.5m0 -1.51v-1.5m0 -1.97v-1.5m0 -1.72v-1.5m0 -2.78v-1.5m0 -7.58v-1.5M1837.97 358.8v-42.97m0 -1.77v-1.5m0 -1.7v-1.5m0 -0.82v-1.5m0 -1.43v-1.5m0 -1.31v-1.5m0 -1.31v-1.5M1839.02 358.8v-52.32m0 -2.28v-1.5m0 -2.77v-1.5M1840.14 358.8v-21.19m0 -2.57v-1.5m0 -2.3v-1.5m0 -4.89v-1.5m0 -7.04v-1.5m0 -6.53v-1.5m0 -2.82v-1.5M1841.37 358.8v-9.56m0 -2.49v-1.5m0 -0.74v-1.5m0 -2.27v-1.5m0 -2.47v-1.5m0 -6.73v-1.5m0 -4.81v-1.5m0 -6.96v-1.5m0 -7.54v-1.5m0 -6.48v-1.5M1842.39 358.8v-5.19m0 -2.65v-1.5m0 -0.79v-1.5m0 -2.21v-1.5m0 -1.44v-1.5m0 -1.85v-1.5m0 -1.46v-1.5m0 -0.85v-1.5m0 -4.02v-1.5m0 -11.55v-1.5m0 -6.31v-1.5m0 -11.21v-1.5M1843.43 358.8v-39.51m0 -1.74v-1.5m0 -1.25v-1.5m0 -1.06v-1.5m0 -0.83v-1.5m0 -0.91v-1.5m0 -2.2v-1.5m0 -1.48v-1.5m0 -2.63v-1.5m0 -1.11v-1.5m0 -2.77v-1.5m0 -4.24v-1.5m0 -4.98v-1.5M1844.55 358.8v-36.99m0 -0.83v-1.5m0 -1.22v-1.5m0 -0.79v-1.5m0 -2.41v-1.5m0 -0.94v-1.5m0 -7.17v-1.5M1845.68 358.8v-8.1m0 -2.78v-1.5m0 -0.88v-1.5m0 -2.61v-1.5m0 -0.94v-1.5m0 -4v-1.5M1846.87 358.8v-5.36m0 -1v-1.5m0 -2.65v-1.5m0 -1.96v-1.5m0 -2.8v-1.5m0 -2.01v-1.5m0 -1.95v-1.5m0 -10.36v-1.5M1847.98 358.8v-4.75m0 -2.1v-1.5m0 -2.91v-1.5m0 -8.09v-1.5m0 -10.14v-1.5M1849.01 358.8v-4.49m0 -1.16v-1.5m0 -1.28v-1.5m0 -5.45v-1.5M1850.1 358.8v-5.47m0 -2.59v-1.5m0 -2.29v-1.5m0 -1.7v-1.5m0 -1.6v-1.5m0 -0.85v-1.5m0 -0.7v-1.5m0 -2.6v-1.5m0 -3.86v-1.5m0 -10.42v-1.5m0 -6.16v-1.5M1851.35 358.8v-5.8m0 -1.89v-1.5m0 -2.76v-1.5m0 -1.81v-1.5m0 -1.26v-1.5m0 -1.57v-1.5m0 -2.15v-1.5m0 -2.67v-1.5m0 -9.98v-1.5m0 -11.03v-1.5M1852.53 358.8v-5.9m0 -1.49v-1.5m0 -0.8v-1.5m0 -1.55v-1.5m0 -2.13v-1.5m0 -2.54v-1.5m0 -11.14v-1.5M1853.56 358.8v-6.25m0 -2.02v-1.5m0 -2.79v-1.5m0 -2.67v-1.5m0 -0.68v-1.5m0 -0.94v-1.5m0 -2.9v-1.5m0 -8.61v-1.5m0 -3.78v-1.5m0 -10.85v-1.5M1854.76 358.8v-4.84m0 -1.2v-1.5m0 -0.86v-1.5m0 -1.52v-1.5m0 -0.89v-1.5m0 -2.07v-1.5m0 -1.39v-1.5m0 -9.53v-1.5M1855.84 358.8v-5.69m0 -0.87v-1.5m0 -2.85v-1.5m0 -1.96v-1.5m0 -1.89v-1.5m0 -2.18v-1.5m0 -1.09v-1.5m0 -1.72v-1.5m0 -3.62v-1.5m0 -10.92v-1.5M1857.04 358.8v-5.34m0 -2.37v-1.5m0 -2.47v-1.5m0 -8.88v-1.5m0 -6.57v-1.5m0 -5.07v-1.5m0 -2.97v-1.5M1858.04 358.8v-6.32m0 -2.7v-1.5m0 -2.52v-1.5m0 -4.27v-1.5M1859.26 358.8v-11.01m0 -2.85v-1.5m0 -2.88v-1.5m0 -7.31v-1.5m0 -5.36v-1.5m0 -10.92v-1.5M1860.3 358.8v-6.58m0 -1.69v-1.5m0 -0.98v-1.5m0 -1.69v-1.5m0 -2.71v-1.5m0 -10.94v-1.5M1861.41 358.8v-5.12m0 -2.68v-1.5m0 -0.97v-1.5m0 -1.04v-1.5m0 -0.93v-1.5m0 -1.59v-1.5m0 -0.8v-1.5m0 -2.25v-1.5m0 -4.18v-1.5m0 -8.82v-1.5m0 -7.67v-1.5M1862.58 358.8v-19.05m0 -1.95v-1.5m0 -1.23v-1.5m0 -1.79v-1.5m0 -0.87v-1.5m0 -2.81v-1.5m0 -2.76v-1.5m0 -3.17v-1.5m0 -2.6v-1.5m0 -6.12v-1.5m0 -7.33v-1.5M1863.71 358.8v-10.77m0 -1.58v-1.5m0 -0.74v-1.5m0 -2v-1.5m0 -0.85v-1.5m0 -2.6v-1.5m0 -6.88v-1.5m0 -5.75v-1.5M1864.75 358.8v-8.92m0 -2.86v-1.5m0 -2.61v-1.5m0 -1.55v-1.5m0 -1.48v-1.5m0 -2.5v-1.5m0 -0.86v-1.5m0 -0.93v-1.5m0 -1.95v-1.5m0 -7.71v-1.5M1865.78 358.8v-24.68m0 -1.4v-1.5m0 -2.58v-1.5m0 -1.22v-1.5m0 -2.64v-1.5m0 -2.26v-1.5m0 -2.57v-1.5m0 -2.1v-1.5m0 -3.47v-1.5m0 -9.05v-1.5m0 -7.05v-1.5m0 -4.18v-1.5m0 -3.44v-1.5M1866.85 358.8v-43.84m0 -2.81v-1.5m0 -2.9v-1.5m0 -1.93v-1.5M1867.87 358.8v-60.46m0 -1.95v-1.5m0 -1.94v-1.5m0 -2.36v-1.5M1868.92 358.8v-54.14m0 -2.55v-1.5m0 -2.51v-1.5m0 -2.8v-1.5m0 -1.84v-1.5m0 -1.84v-1.5m0 -0.72v-1.5m0 -1.82v-1.5m0 -1.94v-1.5M1869.95 358.8v-32.06m0 -1.53v-1.5m0 -2.42v-1.5m0 -1.04v-1.5m0 -2.41v-1.5m0 -2v-1.5m0 -2.64v-1.5m0 -1.44v-1.5m0 -1.57v-1.5m0 -0.8v-1.5m0 -1.83v-1.5M1871.07 358.8v-18.18m0 -2.39v-1.5m0 -1.37v-1.5m0 -2.79v-1.5m0 -2.3v-1.5m0 -1.34v-1.5m0 -1.14v-1.5m0 -8.69v-1.5m0 -7.15v-1.5M1872.16 358.8v-5.75m0 -1.61v-1.5m0 -1.35v-1.5m0 -2.86v-1.5m0 -11.44v-1.5m0 -3.64v-1.5m0 -7.46v-1.5M1873.3 358.8v-9.82m0 -1.49v-1.5m0 -1.36v-1.5m0 -2.61v-1.5m0 -2.15v-1.5m0 -5.3v-1.5m0 -3.93v-1.5M1874.37 358.8v-4.71m0 -2.03v-1.5m0 -0.68v-1.5m0 -2.71v-1.5m0 -2.79v-1.5m0 -1.15v-1.5m0 -1.44v-1.5m0 -1.34v-1.5m0 -4.21v-1.5m0 -8.76v-1.5m0 -5.95v-1.5M1875.38 358.8v-5.36m0 -0.7v-1.5m0 -1.9v-1.5m0 -2.1v-1.5m0 -8.34v-1.5M1876.47 358.8v-5.58m0 -1.66v-1.5m0 -0.8v-1.5m0 -2.13v-1.5m0 -1.44v-1.5m0 -2.1v-1.5m0 -5.92v-1.5M1877.66 358.8v-4.77m0 -2.17v-1.5m0 -1.19v-1.5m0 -2.45v-1.5m0 -4.62v-1.5m0 -3.16v-1.5M1878.72 358.8v-5.16m0 -1.37v-1.5m0 -1.66v-1.5m0 -2.62v-1.5M1879.82 358.8v-7.48m0 -2.33v-1.5m0 -11.02v-1.5M1881.01 358.8v-13.82m0 -2.69v-1.5m0 -10.18v-1.5M1882.11 358.8v-9.49m0 -1.08v-1.5m0 -1.02v-1.5M1883.33 358.8v-5.28m0 -2.71v-1.5M1884.56 358.8v-6.16m0 -1.78v-1.5M1885.64 358.8v-7.21m0 -2.41v-1.5M1886.82 358.8v-4.47m0 -1.48v-1.5M1887.89 358.8v-2.78M1121.35 354.5v-3.94m0 -0.6v-2.91m0 -0.58v-5.39m0 -1.25v-3.63m0 -2.34v-2.41m0 -1.56v-5.83m0 -2.92v-4.9m0 -2.26v-2.56m0 -1.93v-4.32m0 -3.6M1122.45 354.5v-8.02m0 -1.42v-7.11m0 -2.36v-2.9m0 -0.84v-7.03m0 -1.3v-4.02m0 -1.76v-5.47m0 -0.54v-3.8m0 -2.15v-2.32m0 -2.19v-1.83m0 -0.71M1123.55 354.5v-3.69m0 -1.31v-5.51m0 -1.73v-4.07m0 -0.73v-4.13m0 -2.21v-4.35m0 -1.43v-5.95m0 -2.05v-2.63m0 -1.58v-5.94m0 -0.59v-5.02m0 -1.54v-4.67m0 -1.1v-4.12m0 -3.82M1124.65 354.5v-8.29m0 -0.7v-2.08m0 -2.23v-4.68m0 -0.59v-5.08m0 -2.03v-5.96m0 -4v-1.8m0 -2.59M1128.9 354.5v-6.91m0 -0.94v-6.54m0 -1.1v-4.31m0 -0.68v-2.7m0 -1.75v-6m0 -2.82v-2.64m0 -2.24v-3.14m0 -1.22v-3.24m0 -3.05v-1.51m0 -0.89M1130 354.5v-3.96m0 -1.56v-5.14m0 -1.18v-6.71m0 -0.54v-7.08m0 -1.19v-6.05m0 -2.91v-5.48m0 -2.55v-4.33m0 -0.68v-3.39m0 -2.91v-0.06m0 -3.22M1131.1 354.5v-6.42m0 -1.93v-3.97m0 -1.77v-2.26m0 -2.33v-6.06m0 -2.44v-4.93m0 -2.34v-3.17m0 -3.39v-2.4m0 -2.82M1135.45 354.5v-6.81m0 -1.51v-5.41m0 -0.95v-3.91m0 -2.54v-3.66m0 -3.14v-0.69m0 -1.93M1136.55 354.5v-2.72m0 -1.52v-4.51m0 -1.78v-6.44m0 -0.58v-5.31m0 -2.5v-6.34m0 -0.76v-2.39m0 -1.89v-4.9m0 -0.89v-5.41m0 -3.24M1143.9 354.5v-6.83m0 -1.33v-2.97m0 -2.02v-5.53m0 -2.32v-3.02m0 -1.12v-2.21m0 -1.11v-2.84m0 -1.85M1145 354.5v-2.47m0 -1.61v-3.21m0 -0.62v-3.29m0 -1.26v-5.68m0 -0.67v-2.83m0 -0.56v-4.09m0 -2.93v-5.75m0 -2.92v-5.87m0 -1.22v-4.44m0 -1.97v-3.21m0 -3.35v-1.74m0 -2.99M1146.1 354.5v-8.19m0 -1.73v-5.53m0 -2.31v-6.43m0 -1.02v-3.09m0 -3.68v-4.33m0 -3.91M1157.9 354.5v-8.47m0 -1.34v-6.46m0 -2.8v-4.37m0 -1.77v-3.96m0 -0.95v-2.25m0 -4.01M1159 354.5v-6.36m0 -0.63v-5.65m0 -0.97v-6.79m0 -1.32v-2.09m0 -2.13v-6.78m0 -2.65v-5.97m0 -0.84v-3.06m0 -3.26v-3.47m0 -1.2v-0.53m0 -1.64M1160.1 354.5v-7.13m0 -1.74v-5.94m0 -2.1v-6.83m0 -1.21v-3.27m0 -3.39v-5.52m0 -2.81v-4.62m0 -3.02M1083.45 354.5v-5.63m0 -0.98v-2.54m0 -1.28v-6.05m0 -0.92v-2.19m0 -1.28v-4.82m0 -3.94M1084.55 354.5v-3.81m0 -1.98v-4.89m0 -1.87v-5.62m0 -1.61v-6m0 -3.2v-3.84m0 -1.55v-5.18m0 -3.24M1027 354.5v-4.38m0 -0.77v-4.37m0 -1.4v-6.4m0 -2.34v-4.29m0 -3.33v-4.15m0 -3.68v-0.58m0 -0.82M1314.5 354.5v-4.13m0 -1.56v-5.94m0 -1.62v-7.39m0 -2.74v-2.04m0 -1.46v-6.54m0 -0.55v-3.46m0 -2.86v-2.29m0 -2.47v-5.26m0 -2.49v-2.01m0 -0.95M1343.45 354.5v-2.08m0 -1.45v-3.68m0 -1.11v-6.54m0 -2.19v-5.97m0 -1.04v-3.48m0 -2.52v-3.87m0 -3.41v-2.4m0 -4.14M1344.55 354.5v-3.48m0 -1.41v-7.09m0 -2.29v-4.16m0 -2.39v-5.16m0 -2.11v-3.22m0 -2.94v-2.29m0 -3.51v-4.21m0 -2.49v-2.6m0 -2.99v-2.47m0 -3.8M1437.45 354.5v-3.15m0 -1.47v-6.19m0 -0.93v-6.18m0 -1.67v-4.98m0 -1.81v-6.49m0 -2.41v-6.4m0 -0.76v-6.29m0 -3v-4.21m0 -3.09v-2.96m0 -0.62v-3.84m0 -0.88v-2.51m0 -1.96v-5.62m0 -2.33v-5.34m0 -2.41v-3.41m0 -0.58v-1.69m0 -4M1438.55 354.5v-6.7m0 -1.23v-7.82m0 -1.51v-3.74m0 -1.96v-6.34m0 -0.65v-6.73m0 -1.27v-6.55m0 -2.43v-6.58m0 -0.79v-5.5m0 -1.36v-5.86m0 -0.84v-5.72m0 -3.54v-4.01m0 -2.33v-4.23m0 -3.65v-2.29m0 -3.63v-3.09m0 -2.07v-3.27m0 -0.99M1443 354.5v-2.97m0 -1.38v-6.75m0 -0.86v-6.22m0 -1.18v-2.16m0 -1.03v-2.89m0 -1.49v-4.38m0 -1.43v-6.48m0 -1.56v-2.86m0 -3.26v-4.65m0 -3.58v-3.66m0 -2.63v-3.09m0 -4.11v-2.08m0 -4.22M1590.9 354.5v-4.45m0 -1.48v-3.66m0 -1.19v-2.48m0 -1.9v-4.16m0 -1.63v-5.29m0 -1.47v-3.33m0 -2.26v-4.51m0 -0.81v-2.51m0 -1.74v-4.75m0 -1.24v-3.08m0 -2.84v-4.96m0 -0.94v-5.29m0 -0.69v-5.2m0 -3.39v-2.42m0 -4.11v-4.8m0 -1.2v-0.93m0 -2.36M1592 354.5v-2.99m0 -0.75v-3.37m0 -1.4v-5.7m0 -2.01v-3.88m0 -1.33v-4.2m0 -1.23v-5.32m0 -2.15v-5.68m0 -0.77v-3.41m0 -2.04v-5.72m0 -2.83v-3.63m0 -1.82v-2.21m0 -2.06v-3.25m0 -2.16v-4.33m0 -1.07v-2.28m0 -2.97v-4.48m0 -4.13v-3.55m0 -0.76v-2.22m0 -4.38M1593.1 354.5v-3.12m0 -1.03v-3.29m0 -1.59v-6.66m0 -2.06v-5.91m0 -1.29v-7.11m0 -1.36v-5.83m0 -1.05v-3.35m0 -2.09v-3.36m0 -2.92v-4.23m0 -3.34v-4.38m0 -2.42v-3.84m0 -1.19v-3.19m0 -3.8v-4.07m0 -3.55M1622 354.5v-4.77m0 -0.8v-6.97m0 -1.3v-6.37m0 -0.66v-3.79m0 -2.18v-6.3m0 -1.11v-5.98m0 -2.81v-2.68m0 -0.56v-4.42m0 -3.2M1656.95 354.5v-4.75m0 -0.63v-4.98m0 -1.68v-3.58m0 -2.55v-6.03m0 -0.55v-3.38m0 -3.07v-5.11m0 -3.16v-2.66m0 -3.72v-2.36m0 -2.12M1658.05 354.5v-6.58m0 -0.88v-7.55m0 -0.65v-3.5m0 -2.06v-4.18m0 -2.69v-5.91m0 -2.48v-3.49m0 -1.91v-3.25m0 -1.58v-2.04m0 -1.45v-4.22m0 -2.63M1795.5 354.5v-6.42m0 -1.61v-3.6m0 -1.78v-3.35m0 -1.43v-4.27m0 -0.94v-3.4m0 -2.49v-2.32m0 -1.7v-4.36m0 -0.8v-2.39m0 -1.73v-3.57m0 -1.28v-3.05m0 -1.23v-4.47m0 -3.84v-3.04m0 -1.98v-4.17m0 -1.71M1798.95 354.5v-6.33m0 -1.06v-2.02m0 -1.07v-7.18m0 -0.62v-6.73m0 -2.08v-5.86m0 -2.18v-4.87m0 -3.5v-2.59m0 -0.91v-3.8m0 -2.4M1800.05 354.5v-5.54m0 -0.98v-8.38m0 -1.48v-5.7m0 -0.55v-3.6m0 -1.06v-7.52m0 -0.81v-4.62m0 -2.29v-5.02m0 -2.55v-3.63m0 -0.97v-2.98m0 -2.16v-4.12m0 -1.81v-5.49m0 -1.89v-2.74m0 -2.67v-3.87m0 -3.5v-1.76m0 -0.53M1817.45 354.5v-3.23m0 -0.83v-6.89m0 -2.28v-6.91m0 -1.06v-4.13m0 -2.78v-5.76m0 -0.68v-3.1m0 -2.48v-2.69m0 -0.57v-2.72m0 -2.57v-0.75m0 -3.45M1818.55 354.5v-5.82m0 -1.36v-5.29m0 -1.86v-5.83m0 -1.9v-6.89m0 -0.78v-2.19m0 -1.86v-4.1m0 -3.05v-3.32m0 -2.58v-4.73m0 -1.31v-2.03m0 -1.98v-2.67m0 -1.21v-3.43m0 -1.21v-0.3m0 -2.96M1843 354.5v-5.15m0 -1.33v-3.23m0 -1.48v-7.05m0 -2.31v-2.58m0 -1.27v-5.58m0 -2.1v-3.72m0 -3v-5.56m0 -2.43v-2.85m0 -4.06v-1.98m0 -1.88M1869.45 354.5v-8.25m0 -1.73v-2.41m0 -0.87v-7.07m0 -0.69v-5.25m0 -2.14v-4.09m0 -2.76v-3.2m0 -2.78v-3.03m0 -2.79M1870.55 354.5v-5.56m0 -1.34v-3.19m0 -1.01v-6.44m0 -1.53v-2.68m0 -2.22v-4.27m0 -1.05v-2.78m0 -2.69v-5.62m0 -1.33v-2.88m0 -2.91v-2.63m0 -2.09v-4.7m0 -3.59v-4.47m0 -0.89v-3.73m0 -3.94v-2.19m0 -0.85M1026.35 340.8m0 -4.17v-1.5m0 -4.18v-1.5m0 -1.37v-1.5m0 -4.8v-1.5m0 -1.08v-1.5m0 -1.64v-1.5m0 -3.92v-1.5m0 -1.27v-1.5m0 -5.16v-1.5m0 -6.98v-1.5M1027.65 340.8m0 -6.09v-1.5m0 -1.63v-1.5m0 -1.84v-1.5m0 -6.08v-1.5m0 -1.33v-1.5m0 -10.36v-1.5m0 -14.17v-1.5M1083.35 337.8m0 -1.03v-1.5m0 -4.27v-1.5m0 -3.62v-1.5m0 -5.93v-1.5m0 -5.58v-1.5m0 -6.74v-1.5m0 -7.05v-1.5m0 -7.69v-1.5m0 -7.56v-1.5M1084.65 337.8m0 -1.6v-1.5m0 -7v-1.5m0 -6.98v-1.5m0 -4.69v-1.5m0 -5.88v-1.5m0 -2.39v-1.5m0 -5.03v-1.5m0 -11.01v-1.5m0 -9.83v-1.5M1144.35 330.8m0 -2.08v-1.5m0 -2.04v-1.5m0 -4.55v-1.5m0 -6.06v-1.5m0 -3.17v-1.5m0 -3.47v-1.5m0 -1.36v-1.5m0 -2.62v-1.5m0 -7.57v-1.5m0 -8.77v-1.5m0 -5.31v-1.5M1145.65 330.8m0 -2.65v-1.5m0 -6.33v-1.5m0 -9.55v-1.5m0 -4.83v-1.5m0 -8.57v-1.5m0 -10.9v-1.5m0 -3.12v-1.5m0 -5.08v-1.5M1437.35 322.47m0 -1.2v-1.5m0 -2.53v-1.5m0 -2.61v-1.5m0 -2.95v-1.5m0 -2.36v-1.5m0 -1.96v-1.5m0 -3.44v-1.5m0 -1.24v-1.5m0 -1.18v-1.5m0 -4.37v-1.5m0 -1.9v-1.5m0 -1.77v-1.5m0 -2.23v-1.5m0 -3.94v-1.5m0 -2.27v-1.5m0 -4.61v-1.5m0 -4.63v-1.5m0 -3.38v-1.5m0 -6.63v-1.5m0 -5.81v-1.5m0 -1.92v-1.5m0 -2.55v-1.5m0 -1.75v-1.5m0 -6v-1.5m0 -2.4v-1.5m0 -4.36v-1.5m0 -1.71v-1.5m0 -7.81v-1.5m0 -7.04v-1.5m0 -6.59v-1.5m0 -7.08v-1.5m0 -4.27v-1.5m0 -2.75v-1.5m0 -1.17v-1.5m0 -4.89v-1.5M1438.65 322.47m0 -1.16v-1.5m0 -2.19v-1.5m0 -4.37v-1.5m0 -1.5v-1.5m0 -3.07v-1.5m0 -6.47v-1.5m0 -2.67v-1.5m0 -3.46v-1.5m0 -3.37v-1.5m0 -2.79v-1.5m0 -8.25v-1.5m0 -10.14v-1.5m0 -7.14v-1.5m0 -3.79v-1.5m0 -3.75v-1.5m0 -9.03v-1.5m0 -9.87v-1.5m0 -11.68v-1.5m0 -2.9v-1.5m0 -3.83v-1.5m0 -5.97v-1.5m0 -7.46v-1.5m0 -13.74v-1.5m0 -2.45v-1.5m0 -6.05v-1.5m0 -3.01v-1.5M1798.85 323.2m0 -1.01v-1.5m0 -3.51v-1.5m0 -3.9v-1.5m0 -1.54v-1.5m0 -1.89v-1.5m0 -1.38v-1.5m0 -3.39v-1.5m0 -5.72v-1.5m0 -2.61v-1.5m0 -6.94v-1.5m0 -1.5v-1.5m0 -3.61v-1.5m0 -2.83v-1.5m0 -8.83v-1.5m0 -2.48v-1.5m0 -8.76v-1.5M1800.15 323.2m0 -3.1v-1.5m0 -4.47v-1.5m0 -2.18v-1.5m0 -6.74v-1.5m0 -7.94v-1.5m0 -6.09v-1.5m0 -10.82v-1.5m0 -11.61v-1.5m0 -11.37v-1.5M1869.35 326.8m0 -2.8v-1.5m0 -1.7v-1.5m0 -3.48v-1.5m0 -3.33v-1.5m0 -1.8v-1.5m0 -4.89v-1.5m0 -3.68v-1.5m0 -5.32v-1.5m0 -2.31v-1.5m0 -2.66v-1.5m0 -1.7v-1.5m0 -7.92v-1.5m0 -6.7v-1.5m0 -3.73v-1.5m0 -1.48v-1.5m0 -4.16v-1.5M1870.65 326.8m0 -7.78v-1.5m0 -2.45v-1.5m0 -9.47v-1.5m0 -3.12v-1.5m0 -1.39v-1.5m0 -2.52v-1.5m0 -1.22v-1.5m0 -3.96v-1.5m0 -10.96v-1.5m0 -7.93v-1.5m0 -13.39v-1.5m0 -2.62v-1.5M1343.35 328.8m0 -5.22v-1.5m0 -3.75v-1.5m0 -5.26v-1.5m0 -3.28v-1.5m0 -6.7v-1.5m0 -5.17v-1.5m0 -6.13v-1.5m0 -2.11v-1.5m0 -4.34v-1.5m0 -1.82v-1.5m0 -4.1v-1.5m0 -6.22v-1.5M1344.65 328.8m0 -1.05v-1.5m0 -4.47v-1.5m0 -7.74v-1.5m0 -4.85v-1.5m0 -9.57v-1.5m0 -5.87v-1.5m0 -8.45v-1.5m0 -5.51v-1.5m0 -2.38v-1.5M1591.35 320.8m0 -4.2v-1.5m0 -3.54v-1.5m0 -3.53v-1.5m0 -6.28v-1.5m0 -1.87v-1.5m0 -3.8v-1.5m0 -1.75v-1.5m0 -4.06v-1.5m0 -7.51v-1.5m0 -8.36v-1.5m0 -2.36v-1.5M1592.65 320.8m0 -7.24v-1.5m0 -2.75v-1.5m0 -1.53v-1.5m0 -10.68v-1.5m0 -1.3v-1.5m0 -12.8v-1.5m0 -10.13v-1.5m0 -7.67v-1.5M1656.85 331.43m0 -2.31v-1.5m0 -2.84v-1.5m0 -5.53v-1.5m0 -4.28v-1.5m0 -1.89v-1.5m0 -4.63v-1.5m0 -3.18v-1.5m0 -7.66v-1.5m0 -2.3v-1.5m0 -5.21v-1.5m0 -1.21v-1.5m0 -3.45v-1.5M1658.15 331.43m0 -5.81v-1.5m0 -9.24v-1.5m0 -2.65v-1.5m0 -6.24v-1.5m0 -2.28v-1.5m0 -10.09v-1.5m0 -2.56v-1.5m0 -15.31v-1.5M1677.41 289.15v-1.5M1438.37 267.36v-1.5M1154.38 296.36v-1.5M1046.71 304.67v-1.5M1609.16 291.96v-1.5M1852.07 246.7v-1.5M1592.81 256.74v-1.5M1045.6 240.29v-1.5M1637.81 308v-1.5M1421.03 301.67v-1.5M1129.82 247.92v-1.5M1045.15 299.76v-1.5M1677.66 285.51v-1.5M1804.22 271.62v-1.5M1386.51 291.14v-1.5M1163.63 303.28v-1.5M1132.53 286.7v-1.5M1046.92 275.81v-1.5M1830.09 295.52v-1.5M1838.55 291.98v-1.5M1588.48 246.22v-1.5M1444.34 256.82v-1.5M1823.72 274.86v-1.5M1831.25 285.62v-1.5M1837.29 299.75v-1.5M1423.3 308.57v-1.5M1850.43 271.86v-1.5M1882.26 311.59v-1.5M1597.05 278.06v-1.5M1032.66 249.84v-1.5M1655.07 283.85v-1.5M1107.24 296.16v-1.5M1667.19 308.23v-1.5M1824.47 236.6v-1.5M1801.7 284.41v-1.5M1865.74 278.43v-1.5M1858.2 258.21v-1.5M1094.42 310.41v-1.5M1599.62 307.88v-1.5M1145.92 265.98v-1.5M1116.92 294.58v-1.5M1659.75 291.09v-1.5M1150.09 305.49v-1.5M1106 284.01v-1.5M1840.48 268.29v-1.5M1389.59 308.2v-1.5M1322.49 303.11v-1.5M1321.54 312v-1.5M1134.53 284.13v-1.5M1793.25 228.19v-1.5M1085.78 290.98v-1.5M1804.54 295.67v-1.5M1672.49 197.09v-1.5M1581.7 291.02v-1.5M1127.79 252.15v-1.5M1094.27 327.91v-1.5M1043.9 271.02v-1.5M1669.89 319.42v-1.5M1599.94 317.98v-1.5M1677.34 316.37v-1.5M1138.05 271.17v-1.5M1350.85 287.07v-1.5M1793.56 284.88v-1.5M1626.95 242.52v-1.5M1599.47 306.53v-1.5M1574 299.19v-1.5M1601.29 302.62v-1.5M1139.91 151.44v-1.5M1608.34 316.61v-1.5M1149.98 250.97v-1.5M1668.48 256.01v-1.5M1601.76 313.41v-1.5M1374.21 224.93v-1.5M1147.78 293.08v-1.5M1086.51 166.33v-1.5M1053.82 323.35v-1.5M1037.5 292.25v-1.5M1372.88 213.59v-1.5M1322.92 293.36v-1.5M1675.43 318.47v-1.5M1570.19 283.44v-1.5M1312.27 300.09v-1.5M1085.43 293.91v-1.5M1851.39 305.14v-1.5M1051.36 283.68v-1.5M1385.79 309.75v-1.5M1603.84 309.35v-1.5M1612.63 298.25v-1.5M1631.97 300.92v-1.5M1370.57 312.7v-1.5M1830.24 308.98v-1.5M1354.22 227.17v-1.5M1152.08 315.97v-1.5M1154.76 308.96v-1.5M1384.24 239.62v-1.5M1336.52 310.48v-1.5M1814.19 294.04v-1.5M1374.83 250.9v-1.5M1023.17 316.43v-1.5M1018.74 273.37v-1.5M1403.51 315.3v-1.5M1415.81 279.46v-1.5M1393.94 306.38v-1.5M1423.11 281.73v-1.5M1045.42 273.82v-1.5M1084.74 249.18v-1.5M1384.41 229.69v-1.5M1132.61 289.04v-1.5M1796.43 237.6v-1.5M1040.58 214.57v-1.5M1402.17 257.74v-1.5M1428.39 286.53v-1.5M1831.47 298.37v-1.5M1643.3 286.57v-1.5M1615.54 296.4v-1.5M1864.86 277.68v-1.5M1675.38 306.69v-1.5M1130.97 236.06v-1.5M1356.85 306.78v-1.5M1409.13 288.81v-1.5M1026.94 317.05v-1.5M1397.24 281.53v-1.5M1322.16 332.76v-1.5M1599.86 296.01v-1.5M1843.26 295.44v-1.5M1411.53 267.01v-1.5M1352.03 317.64v-1.5" stroke="#f4a083" stroke-width="1.35" fill="none"/>
<path d="M1016.4 408.6v5.02m0 2.38v1.5m0 4.77v1.5M1017.6 408.6v4.08m0 4.29v1.5m0 3.76v1.5m0 4.71v1.5M1018.62 408.6v12.32m0 4.65v1.5m0 1.69v1.5m0 2.3v1.5m0 6.65v1.5m0 4.66v1.5M1019.8 408.6v13.25m0 4.31v1.5m0 3.53v1.5m0 2.68v1.5m0 1.91v1.5M1020.93 408.6v9.9m0 4.03v1.5m0 3.21v1.5m0 4.32v1.5m0 3.33v1.5m0 4.47v1.5m0 8.65v1.5M1022.15 408.6v3.03m0 3.11v1.5m0 4.77v1.5M1023.28 408.6v4.32m0 4.55v1.5m0 1.59v1.5m0 15.35v1.5m0 9.45v1.5M1024.45 408.6v32.76m0 4.44v1.5m0 3.64v1.5M1025.51 408.6v8.22m0 2.72v1.5m0 2.17v1.5m0 3.55v1.5m0 2.25v1.5m0 10.85v1.5M1026.76 408.6v3.32m0 1.61v1.5m0 4.12v1.5m0 4.76v1.5m0 2.01v1.5m0 3.34v1.5m0 11.94v1.5M1027.81 408.6v4.23m0 2v1.5m0 3.47v1.5m0 1.74v1.5m0 1.86v1.5m0 2.48v1.5m0 13.28v1.5M1029.02 408.6v4.24m0 1.81v1.5m0 4.47v1.5M1030.19 408.6v4.71m0 4.43v1.5m0 1.71v1.5m0 14.66v1.5M1031.31 408.6v3.21m0 4.9v1.5m0 2.91v1.5m0 1.78v1.5M1032.41 408.6v8.05m0 3.56v1.5m0 3.92v1.5m0 4.38v1.5M1033.43 408.6v4.58m0 4.95v1.5m0 1.89v1.5m0 2.65v1.5m0 3v1.5m0 11.64v1.5M1034.63 408.6v22.29m0 3.71v1.5m0 3.82v1.5m0 14.13v1.5M1035.68 408.6v3.81m0 4.88v1.5m0 4.84v1.5m0 12.34v1.5M1036.9 408.6v19.12m0 1.49v1.5m0 3.12v1.5M1038.12 408.6v4.39m0 4.71v1.5m0 1.34v1.5m0 6.57v1.5M1039.18 408.6v4.49m0 4.31v1.5m0 2.38v1.5m0 1.98v1.5m0 14.04v1.5M1040.25 408.6v11.65m0 4.44v1.5m0 1.4v1.5m0 1.22v1.5M1041.43 408.6v5.69m0 3.41v1.5m0 1.69v1.5m0 2.74v1.5m0 3.45v1.5M1042.62 408.6v3.12m0 2.07v1.5m0 2.35v1.5M1043.63 408.6v15.82m0 2.43v1.5m0 2.3v1.5M1044.84 408.6v7.03m0 1.52v1.5m0 3.31v1.5m0 1.48v1.5m0 4.27v1.5m0 10.14v1.5M1046.04 408.6v6.17m0 1.81v1.5m0 1.84v1.5m0 4.77v1.5M1047.2 408.6v4.89m0 2.84v1.5m0 4.75v1.5m0 2.04v1.5M1048.42 408.6v17.25m0 4.07v1.5m0 7.14v1.5M1049.66 408.6v7.49m0 3.37v1.5m0 4.95v1.5m0 2.42v1.5m0 1.81v1.5M1050.71 408.6v4.12m0 1.42v1.5m0 2.8v1.5m0 3.4v1.5m0 3.98v1.5M1051.95 408.6v18.52m0 2.93v1.5m0 2.36v1.5m0 1.7v1.5M1053.16 408.6v7.3m0 1.78v1.5m0 4.16v1.5M1054.31 408.6v3.13m0 3.14v1.5m0 3.21v1.5m0 2.91v1.5M1055.34 408.6v4.17m0 4.31v1.5m0 4.26v1.5m0 4.57v1.5M1056.58 408.6v4.05m0 3.11v1.5m0 3.1v1.5M1057.77 408.6v3.55m0 1.24v1.5m0 2.53v1.5m0 19.99v1.5M1058.86 408.6v3.12m0 4.98v1.5m0 2.15v1.5m0 4.9v1.5M1059.94 408.6v4.7m0 4.31v1.5m0 4.37v1.5m0 10.54v1.5m0 6.19v1.5M1061.18 408.6v3.42m0 4.61v1.5m0 8.69v1.5M1062.23 408.6v13.59m0 3.91v1.5m0 4.94v1.5m0 2.81v1.5M1063.44 408.6v6.22m0 2.72v1.5m0 3.61v1.5M1064.55 408.6v4.02m0 3.74v1.5m0 1.97v1.5m0 4.41v1.5M1065.72 408.6v4.52m0 3.97v1.5m0 3.95v1.5m0 14.76v1.5M1066.93 408.6v4.33m0 2.88v1.5m0 4.93v1.5m0 18.44v1.5M1067.95 408.6v4.64m0 3.07v1.5m0 4.27v1.5m0 3.84v1.5M1069.02 408.6v4.16m0 4.81v1.5m0 1.72v1.5m0 15.88v1.5M1070.05 408.6v3.94m0 3.61v1.5m0 4.97v1.5m0 12.74v1.5M1071.15 408.6v5.75m0 1.71v1.5m0 1.36v1.5m0 4.62v1.5m0 16.14v1.5M1072.18 408.6v8.22m0 4.05v1.5m0 4.72v1.5m0 2.31v1.5m0 5.17v1.5M1073.41 408.6v4.45m0 3.75v1.5m0 4.28v1.5m0 6.76v1.5M1074.61 408.6v9.86m0 2.18v1.5m0 4.94v1.5M1075.76 408.6v4.1m0 3.19v1.5m0 3.52v1.5m0 1.34v1.5m0 2.1v1.5m0 17.24v1.5M1076.8 408.6v19.01m0 1.62v1.5m0 4.43v1.5m0 2.72v1.5m0 2v1.5m0 6.94v1.5M1077.86 408.6v3.93m0 2.48v1.5m0 4.71v1.5m0 3.13v1.5M1079 408.6v6.48m0 4.1v1.5m0 2.03v1.5m0 2.92v1.5m0 4.19v1.5m0 7.91v1.5M1080.23 408.6v4.22m0 1.82v1.5m0 3.45v1.5m0 6.61v1.5M1081.46 408.6v4.24m0 1.81v1.5m0 4.91v1.5m0 3.24v1.5m0 11.94v1.5M1082.7 408.6v4.08m0 2.91v1.5m0 2.93v1.5m0 4.32v1.5M1083.78 408.6v4.39m0 2.45v1.5m0 1.82v1.5m0 4.04v1.5M1084.95 408.6v4.17m0 1.27v1.5m0 3.09v1.5m0 15.34v1.5M1086.08 408.6v8.67m0 4.86v1.5m0 4.46v1.5M1087.22 408.6v16.36m0 2.16v1.5m0 3.02v1.5m0 4.92v1.5m0 11.35v1.5M1088.39 408.6v18.62m0 2.56v1.5m0 3.69v1.5M1089.46 408.6v25.8m0 4.09v1.5m0 2.99v1.5m0 4.89v1.5M1090.53 408.6v4m0 2.34v1.5m0 1.42v1.5m0 1.59v1.5m0 6.15v1.5M1091.63 408.6v9.58m0 1.87v1.5m0 2.26v1.5m0 1.63v1.5M1092.69 408.6v27.39m0 1.43v1.5m0 4.35v1.5M1093.91 408.6v6.14m0 2.64v1.5m0 1.7v1.5m0 4.53v1.5m0 10.29v1.5M1095 408.6v6.18m0 2.06v1.5m0 3v1.5m0 2.36v1.5m0 4.73v1.5M1096.01 408.6v7.49m0 1.15v1.5m0 3.41v1.5m0 2.28v1.5m0 2.2v1.5M1097.17 408.6v4.33m0 1.89v1.5m0 3.05v1.5m0 4.69v1.5m0 9.28v1.5M1098.41 408.6v15.37m0 2.68v1.5m0 2.17v1.5m0 3.57v1.5M1099.55 408.6v4.69m0 4.56v1.5m0 1.35v1.5m0 10.27v1.5M1100.62 408.6v10.02m0 3.71v1.5m0 2.17v1.5m0 1.96v1.5m0 9.6v1.5M1101.85 408.6v3.07m0 1.52v1.5m0 2.89v1.5m0 1.24v1.5m0 3.8v1.5M1103 408.6v5.63m0 2.56v1.5m0 2.09v1.5m0 4.94v1.5M1104.16 408.6v8.24m0 3.85v1.5m0 4.55v1.5M1105.27 408.6v15.99m0 1.93v1.5m0 3.56v1.5m0 4.42v1.5m0 16.85v1.5M1106.47 408.6v8.91m0 2.28v1.5m0 2.86v1.5m0 4.32v1.5m0 5.53v1.5m0 4.48v1.5m0 5.28v1.5M1107.63 408.6v9.22m0 2.18v1.5m0 3.47v1.5M1108.77 408.6v24.91m0 4.54v1.5m0 1.33v1.5m0 3.46v1.5m0 7.5v1.5M1109.85 408.6v3.69m0 1.75v1.5m0 4.08v1.5m0 3.79v1.5m0 11.43v1.5M1111.05 408.6v4.48m0 3.44v1.5m0 4.45v1.5m0 5.89v1.5m0 15.96v1.5M1112.28 408.6v22.14m0 4.96v1.5m0 4.64v1.5M1113.3 408.6v5.64m0 3.45v1.5m0 3.69v1.5m0 15.87v1.5M1114.31 408.6v8.47m0 2.89v1.5m0 4.85v1.5M1115.33 408.6v7.57m0 4.6v1.5m0 4.74v1.5m0 3.2v1.5m0 7.15v1.5m0 14.17v1.5M1116.55 408.6v33.89m0 4.15v1.5m0 2.37v1.5M1117.7 408.6v14.18m0 4.77v1.5m0 2.02v1.5m0 16.39v1.5M1118.8 408.6v13.02m0 3.76v1.5m0 4.42v1.5M1120.05 408.6v3.79m0 1.57v1.5m0 2.35v1.5m0 4.64v1.5M1121.28 408.6v3.65m0 3.99v1.5m0 4.25v1.5m0 11.94v1.5m0 7.63v1.5M1122.39 408.6v14.61m0 1.88v1.5m0 2.76v1.5m0 4.16v1.5m0 3.4v1.5m0 3.01v1.5m0 6.37v1.5M1123.48 408.6v4.02m0 4.16v1.5m0 4.12v1.5m0 11.53v1.5m0 12.74v1.5M1124.62 408.6v22.95m0 1.31v1.5m0 2.27v1.5m0 1.65v1.5m0 1.79v1.5m0 2.7v1.5m0 2.48v1.5m0 2.18v1.5m0 7.11v1.5M1125.76 408.6v52.61m0 4.17v1.5m0 1.54v1.5m0 2.62v1.5m0 1.94v1.5m0 3.94v1.5m0 12.7v1.5M1126.97 408.6v27.31m0 1.19v1.5m0 3.61v1.5m0 4.17v1.5m0 4.47v1.5m0 4.96v1.5m0 18.06v1.5M1128.19 408.6v16.22m0 4.9v1.5m0 3.87v1.5m0 2.04v1.5m0 3.31v1.5M1129.26 408.6v4.37m0 4.14v1.5m0 3.66v1.5m0 1.59v1.5m0 3.99v1.5m0 11.66v1.5M1130.48 408.6v3.49m0 3.01v1.5m0 4.93v1.5M1131.5 408.6v21.64m0 3.92v1.5m0 4.01v1.5m0 4.06v1.5m0 8.26v1.5M1132.55 408.6v5.55m0 2.73v1.5m0 1.43v1.5m0 1.42v1.5m0 1.94v1.5M1133.65 408.6v23.93m0 4.17v1.5m0 4.26v1.5m0 4.72v1.5m0 15.32v1.5M1134.67 408.6v13.04m0 1.31v1.5m0 3.59v1.5m0 3.71v1.5M1135.76 408.6v23.69m0 2.61v1.5m0 3.87v1.5m0 4.79v1.5M1136.77 408.6v4.24m0 4.29v1.5m0 3.88v1.5m0 2.76v1.5m0 2.54v1.5M1137.97 408.6v15.79m0 3.53v1.5m0 1.16v1.5m0 1.92v1.5m0 1.32v1.5m0 2.26v1.5m0 13.31v1.5M1139.14 408.6v15.76m0 2.83v1.5m0 2.05v1.5m0 2.74v1.5m0 10.34v1.5M1140.2 408.6v6.18m0 2.3v1.5m0 1.59v1.5m0 2.45v1.5m0 1.79v1.5m0 5.35v1.5M1141.33 408.6v4.1m0 2.01v1.5m0 4.1v1.5M1142.43 408.6v3.22m0 1.23v1.5m0 2.51v1.5m0 4.82v1.5m0 9.93v1.5M1143.64 408.6v24.1m0 3.68v1.5m0 4.65v1.5m0 3.63v1.5M1144.71 408.6v4.56m0 2.32v1.5m0 1.43v1.5m0 10.37v1.5M1145.77 408.6v17.13m0 2.72v1.5m0 2.43v1.5m0 3.79v1.5M1146.96 408.6v32.53m0 2.8v1.5m0 4.05v1.5m0 2.66v1.5m0 4.7v1.5M1148.15 408.6v3.21m0 4.98v1.5m0 4.96v1.5m0 12.02v1.5M1149.33 408.6v4.08m0 1.94v1.5m0 3.79v1.5m0 9.15v1.5M1150.34 408.6v3.99m0 2.48v1.5m0 3.39v1.5m0 4.28v1.5m0 4.54v1.5M1151.35 408.6v4.17m0 1.74v1.5m0 3.91v1.5m0 1.87v1.5M1152.59 408.6v27.69m0 1.75v1.5m0 3.44v1.5m0 16.14v1.5m0 5.18v1.5M1153.83 408.6v26.59m0 2.95v1.5m0 3.45v1.5m0 17.16v1.5M1154.88 408.6v9.18m0 3.99v1.5m0 3.77v1.5m0 4.24v1.5M1156 408.6v3.4m0 4.69v1.5m0 4.62v1.5m0 10.57v1.5M1157.12 408.6v3.6m0 1.54v1.5m0 4.11v1.5M1158.19 408.6v4.37m0 2.14v1.5m0 4.05v1.5m0 2.29v1.5m0 19.23v1.5M1159.21 408.6v4.28m0 3.78v1.5m0 4.2v1.5m0 3.12v1.5M1160.27 408.6v3.15m0 4.69v1.5m0 2.44v1.5m0 6.47v1.5m0 10.91v1.5M1161.51 408.6v3.36m0 1.49v1.5m0 4.41v1.5m0 3.76v1.5m0 14.03v1.5M1162.62 408.6v4.15m0 4.49v1.5M1163.68 408.6v4.42m0 3.65v1.5m0 3.83v1.5m0 8.45v1.5M1164.69 408.6v4.07m0 2.71v1.5m0 3.5v1.5m0 4.66v1.5m0 4.84v1.5M1308.27 408.6v3.51m0 1.75v1.5m0 3.81v1.5m0 16.98v1.5M1309.3 408.6v6.43m0 3.34v1.5m0 2.71v1.5m0 3.95v1.5m0 3.8v1.5m0 1.43v1.5m0 2.2v1.5m0 7.73v1.5m0 5.41v1.5m0 8.56v1.5m0 11.83v1.5M1310.41 408.6v3.56m0 2.08v1.5m0 3.78v1.5m0 10.65v1.5m0 14.43v1.5M1311.56 408.6v4.84m0 2.75v1.5m0 4.35v1.5m0 1.26v1.5m0 2.21v1.5m0 4.97v1.5m0 1.42v1.5M1312.69 408.6v3.44m0 2.49v1.5m0 4.94v1.5m0 2.94v1.5m0 6.49v1.5M1313.78 408.6v15.01m0 2.9v1.5m0 1.51v1.5m0 3.96v1.5m0 18.84v1.5M1314.92 408.6v39.9m0 2.43v1.5m0 4.21v1.5m0 4.75v1.5m0 2.18v1.5m0 4.32v1.5m0 4.07v1.5m0 7.83v1.5M1316.05 408.6v17.84m0 2.12v1.5m0 3.22v1.5m0 4.82v1.5m0 7.42v1.5M1317.05 408.6v3.93m0 2.1v1.5m0 4.64v1.5m0 4.45v1.5m0 3.19v1.5M1318.23 408.6v3.87m0 3.4v1.5m0 1.67v1.5m0 4.03v1.5M1319.42 408.6v3.82m0 4.19v1.5m0 2.73v1.5m0 4.16v1.5m0 3.22v1.5m0 1.6v1.5m0 4.63v1.5M1320.54 408.6v42.12m0 1.55v1.5m0 2.7v1.5m0 1.4v1.5m0 12.64v1.5M1321.7 408.6v4.48m0 3.77v1.5m0 4.84v1.5m0 1.64v1.5m0 3.19v1.5m0 1.7v1.5m0 2.12v1.5m0 12.05v1.5m0 4.44v1.5m0 11.85v1.5M1322.76 408.6v3.34m0 1.92v1.5m0 4.77v1.5m0 11.14v1.5M1323.95 408.6v18.51m0 2.28v1.5m0 3.7v1.5m0 14.41v1.5m0 11.92v1.5M1325.06 408.6v3.13m0 1.39v1.5m0 3.55v1.5m0 18.01v1.5M1326.22 408.6v3.27m0 1.88v1.5m0 2.93v1.5m0 3.36v1.5m0 12.63v1.5M1327.39 408.6v3.95m0 1.86v1.5m0 3.92v1.5m0 1.82v1.5m0 3v1.5m0 5.73v1.5M1328.5 408.6v3.25m0 3.03v1.5m0 4.51v1.5m0 15.75v1.5M1329.54 408.6v5.13m0 2.7v1.5m0 3.85v1.5M1330.78 408.6v3.83m0 1.52v1.5m0 4.65v1.5m0 1.97v1.5m0 3.4v1.5M1331.98 408.6v3.62m0 4.64v1.5m0 3.51v1.5m0 4.97v1.5M1333.08 408.6v6.23m0 4.31v1.5m0 2.52v1.5m0 1.36v1.5M1334.17 408.6v13.94m0 2.47v1.5m0 2.46v1.5m0 2.32v1.5m0 3.78v1.5m0 15.63v1.5M1335.39 408.6v3.75m0 3.67v1.5m0 4.23v1.5M1336.57 408.6v4.59m0 4.16v1.5m0 2.57v1.5m0 4.02v1.5m0 4.87v1.5m0 8.61v1.5M1337.64 408.6v8.27m0 1.61v1.5m0 2.86v1.5m0 8.85v1.5M1338.85 408.6v4.14m0 3.37v1.5m0 4.01v1.5m0 15.41v1.5m0 4.87v1.5M1339.93 408.6v3.87m0 4.18v1.5m0 1.94v1.5m0 3.03v1.5m0 4.81v1.5M1341.14 408.6v21.45m0 4.25v1.5m0 3.19v1.5M1342.17 408.6v3.32m0 1.92v1.5m0 1.38v1.5m0 4.79v1.5m0 9.45v1.5M1343.41 408.6v4.75m0 2.22v1.5m0 1.32v1.5m0 4.39v1.5M1344.5 408.6v3.48m0 4.61v1.5M1345.73 408.6v15.49m0 3.53v1.5M1346.79 408.6v11.74m0 4.01v1.5m0 4.59v1.5m0 4v1.5m0 11.58v1.5M1347.89 408.6v22.69m0 4.09v1.5m0 1.22v1.5m0 4.19v1.5M1348.95 408.6v4.19m0 4.82v1.5m0 18.95v1.5M1350.1 408.6v16.52m0 1.71v1.5m0 3.12v1.5m0 9.75v1.5M1351.16 408.6v9.63m0 2.63v1.5m0 2.36v1.5M1352.33 408.6v4.27m0 1.96v1.5m0 3.84v1.5m0 1.75v1.5m0 6.87v1.5m0 14.31v1.5M1353.5 408.6v3.55m0 3.91v1.5m0 3.87v1.5m0 12.78v1.5M1354.69 408.6v16.21m0 2.47v1.5m0 1.92v1.5M1355.8 408.6v5.17m0 2.48v1.5m0 4.23v1.5m0 4.69v1.5M1356.91 408.6v3.46m0 2.1v1.5m0 3.93v1.5m0 1.71v1.5m0 10.65v1.5M1357.97 408.6v3.4m0 2.83v1.5m0 1.38v1.5m0 2.22v1.5m0 3.78v1.5m0 8.14v1.5M1359.09 408.6v4.01m0 4.97v1.5m0 1.49v1.5m0 2.72v1.5m0 4.23v1.5M1360.23 408.6v6.96m0 1.38v1.5m0 1.62v1.5m0 4.61v1.5m0 7.09v1.5M1361.29 408.6v4.16m0 4.4v1.5m0 19.66v1.5M1362.43 408.6v3.16m0 1.32v1.5m0 4.01v1.5m0 3.4v1.5m0 2.09v1.5m0 14.92v1.5M1363.48 408.6v16.01m0 3.23v1.5m0 1.52v1.5M1364.58 408.6v4.46m0 1.4v1.5m0 3.85v1.5m0 4.91v1.5m0 4.03v1.5M1365.66 408.6v10.11m0 4.98v1.5m0 4.16v1.5m0 11.09v1.5M1366.8 408.6v20.02m0 2.46v1.5m0 1.82v1.5M1367.99 408.6v14.64m0 2.73v1.5m0 3.46v1.5M1369 408.6v8.71m0 3v1.5m0 3.06v1.5m0 18.83v1.5M1370.11 408.6v5.2m0 2.43v1.5m0 2.6v1.5m0 1.9v1.5m0 14.82v1.5M1371.13 408.6v10.25m0 4.03v1.5m0 2.6v1.5m0 2.24v1.5M1372.22 408.6v4.09m0 3.24v1.5m0 3.85v1.5M1373.41 408.6v14.66m0 4.89v1.5m0 1.28v1.5m0 2.29v1.5m0 4.55v1.5M1374.56 408.6v10.51m0 1.72v1.5m0 4.49v1.5M1375.74 408.6v4.46m0 4.99v1.5m0 1.64v1.5m0 4.3v1.5M1376.95 408.6v4.26m0 3.39v1.5m0 5.18v1.5M1378.03 408.6v7.91m0 4.87v1.5m0 3.23v1.5M1379.13 408.6v5.99m0 1.95v1.5m0 1.88v1.5m0 4v1.5m0 3.75v1.5M1380.17 408.6v8.16m0 4.58v1.5m0 3.25v1.5M1381.25 408.6v8.9m0 3.85v1.5m0 2.83v1.5m0 4.53v1.5M1382.41 408.6v4.84m0 1.35v1.5m0 2.51v1.5m0 1.8v1.5m0 3.04v1.5M1383.58 408.6v4.17m0 4.05v1.5m0 3.96v1.5m0 9.87v1.5M1384.75 408.6v6.44m0 3.12v1.5m0 11.59v1.5M1385.89 408.6v4.64m0 1.15v1.5m0 3.2v1.5m0 1.82v1.5M1386.9 408.6v4.75m0 1.55v1.5m0 4.72v1.5m0 2.82v1.5m0 1.53v1.5m0 12.89v1.5M1388.06 408.6v3.44m0 2.12v1.5m0 1.95v1.5m0 1.89v1.5m0 3.47v1.5m0 6.94v1.5M1389.27 408.6v21.14m0 2.8v1.5m0 2.48v1.5m0 2.12v1.5m0 2.76v1.5M1390.49 408.6v3.57m0 2.86v1.5m0 2.89v1.5m0 2.48v1.5M1391.5 408.6v30.4m0 3.16v1.5m0 4.35v1.5m0 1.46v1.5m0 13.39v1.5M1392.59 408.6v16.76m0 3.69v1.5m0 4.18v1.5m0 2.69v1.5m0 8.23v1.5m0 11.26v1.5M1393.72 408.6v4.9m0 3.26v1.5m0 3.14v1.5M1394.87 408.6v5.87m0 1.47v1.5m0 2.13v1.5M1396.07 408.6v3.42m0 2.4v1.5m0 1.86v1.5m0 2.57v1.5m0 1.84v1.5m0 4.38v1.5M1397.08 408.6v3.68m0 1.27v1.5m0 4.07v1.5m0 14.68v1.5M1398.3 408.6v5.1m0 3.07v1.5m0 4.6v1.5m0 12.9v1.5M1399.41 408.6v3.19m0 1.97v1.5m0 1.59v1.5m0 1.29v1.5m0 2.44v1.5m0 12.02v1.5M1400.65 408.6v3.27m0 4.83v1.5m0 4.06v1.5m0 5.09v1.5m0 5.18v1.5M1401.85 408.6v3.38m0 3.75v1.5m0 2.45v1.5m0 4.18v1.5M1402.95 408.6v5.99m0 1.47v1.5m0 3.34v1.5M1404.19 408.6v10.84m0 3.57v1.5m0 3.14v1.5M1405.3 408.6v26.89m0 1.75v1.5m0 3.57v1.5m0 1.24v1.5m0 10.85v1.5M1406.33 408.6v4.39m0 4.88v1.5m0 4.96v1.5m0 2.7v1.5m0 14.89v1.5M1407.38 408.6v17.19m0 1.66v1.5m0 1.77v1.5m0 3.63v1.5M1408.51 408.6v6.48m0 3.45v1.5m0 2.84v1.5m0 1.9v1.5M1409.7 408.6v3.62m0 1.76v1.5m0 1.14v1.5m0 4.5v1.5m0 2.95v1.5m0 11.89v1.5M1410.78 408.6v4.11m0 4.31v1.5m0 1.88v1.5m0 6.21v1.5M1412.02 408.6v30.29m0 1.25v1.5m0 3.15v1.5M1413.08 408.6v15.37m0 3.63v1.5m0 4.23v1.5m0 2.27v1.5m0 1.24v1.5M1414.32 408.6v11.03m0 3.98v1.5m0 4.92v1.5M1415.49 408.6v13.75m0 1.21v1.5m0 4.32v1.5M1416.67 408.6v29.51m0 2.06v1.5m0 4.27v1.5m0 18.68v1.5M1417.77 408.6v6.79m0 3.04v1.5m0 4.5v1.5m0 4.97v1.5M1418.9 408.6v3.61m0 1.81v1.5m0 3.01v1.5m0 1.31v1.5m0 7.07v1.5M1419.99 408.6v3.09m0 3.66v1.5m0 2.89v1.5m0 3.72v1.5m0 9.63v1.5M1421.11 408.6v5.48m0 3.11v1.5m0 2.28v1.5m0 2.84v1.5m0 4.58v1.5M1422.33 408.6v4.09m0 3.67v1.5m0 9.32v1.5M1423.52 408.6v26.2m0 3.09v1.5m0 2.07v1.5m0 2.73v1.5m0 9.5v1.5M1424.72 408.6v31.99m0 3.78v1.5m0 8.19v1.5M1425.83 408.6v7.71m0 1.87v1.5m0 4.52v1.5m0 10.17v1.5M1426.9 408.6v7.48m0 1.78v1.5m0 2.08v1.5M1428.05 408.6v3.13m0 2.65v1.5m0 3.74v1.5m0 4.26v1.5M1429.29 408.6v13.46m0 4.1v1.5m0 4.08v1.5m0 14.67v1.5M1430.46 408.6v4.4m0 4.81v1.5m0 12.53v1.5M1431.52 408.6v11.47m0 4.75v1.5m0 4.66v1.5m0 1.79v1.5m0 2.8v1.5m0 10.35v1.5M1432.72 408.6v5.43m0 3.54v1.5m0 3.07v1.5m0 1.25v1.5m0 8.42v1.5M1433.94 408.6v12.66m0 1.3v1.5m0 3.88v1.5m0 2.57v1.5m0 3.17v1.5M1435.13 408.6v3.46m0 3.55v1.5m0 4.34v1.5m0 1.84v1.5M1436.31 408.6v27.34m0 2.7v1.5m0 2.73v1.5M1437.48 408.6v10.27m0 1.22v1.5m0 3.19v1.5M1438.62 408.6v3.6m0 3.98v1.5m0 1.34v1.5m0 3.27v1.5m0 5.11v1.5M1439.72 408.6v4.87m0 3.28v1.5m0 4v1.5m0 4.4v1.5M1440.9 408.6v3.97m0 1.26v1.5m0 3.78v1.5m0 3.97v1.5M1442 408.6v5.98m0 2.63v1.5m0 3.62v1.5m0 2.11v1.5M1443.04 408.6v22.9m0 4.31v1.5m0 3.27v1.5m0 2.14v1.5M1444.27 408.6v6.09m0 1.6v1.5m0 1.42v1.5m0 11.1v1.5M1445.5 408.6v3.89m0 2.44v1.5m0 2.17v1.5M1446.53 408.6v4.71m0 4.8v1.5M1568.61 408.6v40.32m0 3.4v1.5m0 1.99v1.5m0 3.94v1.5m0 1.63v1.5M1569.81 408.6v40.56m0 4.86v1.5m0 11.35v1.5M1571.01 408.6v11.3m0 3.41v1.5m0 4.2v1.5m0 1.39v1.5M1572.22 408.6v3.72m0 2.25v1.5m0 4v1.5m0 2.25v1.5m0 4.65v1.5M1573.26 408.6v3.97m0 1.19v1.5m0 3.77v1.5m0 4.28v1.5m0 4.77v1.5m0 6.94v1.5m0 4.83v1.5M1574.38 408.6v7.47m0 3.16v1.5m0 3.51v1.5m0 4.7v1.5M1575.55 408.6v4.22m0 1.18v1.5m0 1.95v1.5m0 4.68v1.5M1576.62 408.6v8.65m0 4.01v1.5m0 4.05v1.5m0 1.2v1.5m0 4.83v1.5m0 5.91v1.5M1577.82 408.6v27.47m0 1.81v1.5m0 4.26v1.5m0 4.53v1.5m0 6.56v1.5m0 4.33v1.5M1578.98 408.6v4.27m0 1.24v1.5m0 2.17v1.5M1580.18 408.6v4.59m0 4.5v1.5m0 1.58v1.5M1581.37 408.6v37.07m0 2.55v1.5m0 4.15v1.5m0 4.97v1.5m0 3.22v1.5M1582.48 408.6v24.46m0 3.86v1.5m0 3.39v1.5m0 2.49v1.5M1583.5 408.6v3.58m0 3.55v1.5m0 4.02v1.5m0 1.4v1.5m0 1.55v1.5m0 4.14v1.5M1584.56 408.6v4.02m0 3.1v1.5m0 4.16v1.5m0 7.53v1.5M1585.69 408.6v8.04m0 3.95v1.5m0 2.82v1.5m0 7.13v1.5M1586.93 408.6v20.75m0 4.6v1.5M1587.98 408.6v25.89m0 3.4v1.5m0 2.17v1.5M1589.18 408.6v4.44m0 2.19v1.5m0 3.48v1.5m0 15.37v1.5M1590.25 408.6v4.69m0 2.5v1.5m0 2.67v1.5m0 1.48v1.5m0 4.76v1.5M1591.39 408.6v6.8m0 3.52v1.5m0 1.24v1.5m0 4.84v1.5m0 16.53v1.5M1592.62 408.6v18.66m0 3.26v1.5m0 2.51v1.5m0 1.44v1.5m0 10.54v1.5M1593.73 408.6v5.47m0 3.1v1.5m0 3.81v1.5m0 11.02v1.5M1594.79 408.6v3.42m0 4.1v1.5m0 2.61v1.5m0 2.89v1.5m0 2.69v1.5m0 6.83v1.5m0 7.85v1.5M1595.86 408.6v4.48m0 4.14v1.5m0 4.09v1.5M1597.05 408.6v4.1m0 3.71v1.5m0 3.72v1.5m0 2.67v1.5M1598.22 408.6v3.1m0 4.74v1.5m0 3.18v1.5M1599.37 408.6v5.86m0 4.91v1.5m0 2.06v1.5m0 2.05v1.5M1600.43 408.6v8.49m0 4.37v1.5m0 2.58v1.5m0 3.57v1.5M1601.62 408.6v5.72m0 4.4v1.5m0 2.02v1.5m0 11.36v1.5M1602.83 408.6v5.84m0 4.07v1.5m0 3.24v1.5m0 2.47v1.5M1603.94 408.6v4.38m0 1.69v1.5m0 4.17v1.5M1605.01 408.6v7.45m0 2.53v1.5m0 2.47v1.5m0 2v1.5m0 2.05v1.5m0 9.09v1.5M1606.16 408.6v4.12m0 4v1.5m0 3.03v1.5m0 12.27v1.5M1607.36 408.6v4.88m0 4.5v1.5m0 3.35v1.5m0 2.55v1.5m0 4.52v1.5M1608.47 408.6v4.06m0 1.99v1.5m0 4.57v1.5m0 2.97v1.5m0 6.09v1.5M1609.61 408.6v4.92m0 1.47v1.5m0 1.94v1.5m0 1.89v1.5M1610.8 408.6v19.1m0 2.21v1.5m0 2.76v1.5m0 4.19v1.5m0 4.43v1.5M1612.03 408.6v24.29m0 4.99v1.5m0 2.73v1.5m0 3.83v1.5M1613.05 408.6v27.48m0 4.55v1.5m0 4.37v1.5M1614.22 408.6v11.88m0 2.63v1.5m0 2.93v1.5M1615.24 408.6v8.22m0 4.52v1.5m0 1.73v1.5m0 13.4v1.5M1616.3 408.6v13.23m0 4.28v1.5m0 3.74v1.5m0 1.59v1.5m0 4.46v1.5m0 5.25v1.5M1617.47 408.6v3.9m0 2.65v1.5m0 2.99v1.5m0 4.34v1.5m0 4.19v1.5M1618.52 408.6v4.18m0 2.36v1.5m0 4.36v1.5m0 2.17v1.5m0 3.13v1.5M1619.68 408.6v19.81m0 1.69v1.5m0 2.6v1.5M1620.88 408.6v13.12m0 2.77v1.5m0 2.1v1.5m0 2.45v1.5M1622.05 408.6v5.35m0 4.8v1.5m0 3.78v1.5m0 10.08v1.5M1623.26 408.6v4.13m0 1.96v1.5m0 3.47v1.5m0 2.16v1.5M1624.41 408.6v25.35m0 1.89v1.5m0 2.19v1.5m0 6.76v1.5M1625.53 408.6v3.73m0 3.74v1.5m0 15.2v1.5M1626.78 408.6v3.27m0 2.36v1.5m0 1.16v1.5m0 2.88v1.5m0 4.49v1.5m0 12.48v1.5M1627.87 408.6v27.38m0 3.73v1.5m0 4.83v1.5m0 1.75v1.5M1628.91 408.6v18.56m0 4.41v1.5m0 4.47v1.5m0 3.8v1.5M1630.03 408.6v25.97m0 2.84v1.5m0 2.39v1.5m0 1.98v1.5m0 2.32v1.5m0 6.55v1.5M1631.18 408.6v32.91m0 3.56v1.5m0 2.87v1.5m0 4.66v1.5m0 4.58v1.5m0 13.8v1.5M1632.27 408.6v31.63m0 2.27v1.5m0 1.3v1.5M1633.51 408.6v3.97m0 4.53v1.5m0 4.86v1.5m0 11.9v1.5M1634.59 408.6v4.21m0 3.34v1.5m0 4.43v1.5M1635.64 408.6v5.78m0 4.1v1.5m0 4.98v1.5m0 2.4v1.5m0 2.1v1.5M1636.77 408.6v4.36m0 2.28v1.5m0 1.56v1.5m0 3.54v1.5M1637.83 408.6v3.96m0 1.71v1.5m0 3.82v1.5m0 5.06v1.5M1638.98 408.6v7.47m0 1.44v1.5m0 2.4v1.5m0 4.84v1.5m0 11.8v1.5M1640.06 408.6v25.13m0 4.91v1.5m0 7.19v1.5m0 6.05v1.5M1641.15 408.6v7.85m0 4.31v1.5m0 3.37v1.5m0 2.94v1.5m0 1.24v1.5M1642.32 408.6v4.4m0 3v1.5m0 2.05v1.5m0 4.81v1.5m0 5.55v1.5M1643.49 408.6v3.75m0 3.35v1.5m0 2.94v1.5M1644.5 408.6v17.17m0 3.49v1.5M1645.64 408.6v9.11m0 4.86v1.5m0 9.68v1.5M1646.79 408.6v3.24m0 3.51v1.5m0 14.26v1.5M1647.87 408.6v11.97m0 2.12v1.5m0 4.25v1.5m0 4.83v1.5M1648.97 408.6v3.42m0 4.2v1.5m0 4.36v1.5M1650.12 408.6v4.36m0 1.54v1.5m0 1.23v1.5m0 1.59v1.5m0 2.12v1.5m0 3.23v1.5M1651.31 408.6v4.65m0 3.89v1.5m0 2.13v1.5m0 1.92v1.5m0 4.29v1.5M1652.51 408.6v13.78m0 3.43v1.5M1653.72 408.6v8.02m0 4.35v1.5m0 1.27v1.5M1654.85 408.6v11.34m0 4.98v1.5m0 3.54v1.5m0 10.57v1.5m0 10.66v1.5M1655.92 408.6v30.8m0 2.39v1.5m0 4.27v1.5M1657.1 408.6v34.65m0 2.84v1.5m0 4.16v1.5m0 3.49v1.5M1658.14 408.6v22.82m0 3.14v1.5m0 3.68v1.5m0 8.53v1.5m0 8.6v1.5M1659.15 408.6v5.74m0 3.9v1.5m0 1.89v1.5m0 4.74v1.5M1660.18 408.6v4.76m0 1.5v1.5m0 4.91v1.5m0 1.61v1.5m0 11.34v1.5M1661.2 408.6v3.24m0 4.55v1.5m0 1.15v1.5m0 12.23v1.5M1662.3 408.6v3.71m0 4.13v1.5m0 3.9v1.5m0 1.76v1.5m0 3.91v1.5M1663.4 408.6v4.14m0 1.96v1.5m0 2.58v1.5m0 2.71v1.5m0 4.24v1.5M1664.64 408.6v4.34m0 2.43v1.5m0 3.39v1.5m0 5.99v1.5m0 6.89v1.5M1665.85 408.6v4.56m0 3.13v1.5m0 2.74v1.5m0 1.95v1.5m0 3.16v1.5M1667.06 408.6v4.26m0 1.73v1.5m0 3.06v1.5m0 2.83v1.5m0 17.12v1.5M1668.25 408.6v23.58m0 1.6v1.5m0 3.01v1.5m0 3.67v1.5m0 14.76v1.5M1669.29 408.6v5.22m0 3.82v1.5m0 2.3v1.5M1670.33 408.6v3.87m0 2.93v1.5m0 4.4v1.5m0 4.24v1.5M1671.53 408.6v8.93m0 4.47v1.5m0 2.58v1.5m0 6.29v1.5M1672.73 408.6v7.96m0 1.26v1.5m0 2.73v1.5m0 1.82v1.5m0 1.46v1.5m0 1.99v1.5m0 8.81v1.5M1673.74 408.6v10.64m0 1.73v1.5m0 3.05v1.5m0 4.61v1.5M1674.84 408.6v21.91m0 3.14v1.5m0 2v1.5m0 4.02v1.5M1675.91 408.6v3.94m0 3.79v1.5m0 3.13v1.5M1677.05 408.6v4.32m0 1.26v1.5m0 4.91v1.5M1678.16 408.6v3.47m0 2.5v1.5m0 1.28v1.5m0 4.07v1.5m0 4.63v1.5M1679.28 408.6v3.45m0 3.54v1.5m0 4.28v1.5m0 10.65v1.5M1680.43 408.6v3.63m0 4.4v1.5m0 4.23v1.5M1681.63 408.6v5.24m0 2.1v1.5m0 3.27v1.5m0 3.36v1.5M1682.85 408.6v7.51m0 1.72v1.5m0 4.01v1.5M1790.08 408.6v4m0 2.51v1.5m0 3.5v1.5m0 6.73v1.5M1791.09 408.6v7.52m0 4.42v1.5m0 2.93v1.5m0 8.29v1.5M1792.28 408.6v9.66m0 1.38v1.5m0 4.14v1.5M1793.5 408.6v3.6m0 2.95v1.5m0 3.7v1.5m0 4.81v1.5M1794.56 408.6v8.36m0 4.81v1.5m0 4.73v1.5M1795.57 408.6v4.69m0 1.83v1.5M1796.67 408.6v7.19m0 4.66v1.5m0 8.6v1.5M1797.69 408.6v9.75m0 4.8v1.5m0 2.39v1.5m0 3.85v1.5M1798.8 408.6v3.42m0 2.08v1.5m0 1.67v1.5m0 3.4v1.5m0 10.77v1.5M1799.86 408.6v8.65m0 2.18v1.5m0 1.37v1.5M1801.01 408.6v11.09m0 3.58v1.5m0 4.48v1.5m0 7.25v1.5M1802.19 408.6v4.22m0 1.32v1.5m0 2.86v1.5m0 1.59v1.5M1803.41 408.6v4.47m0 2.34v1.5m0 2.44v1.5M1804.59 408.6v6.11m0 1.97v1.5m0 3.73v1.5M1805.8 408.6v6.1m0 4.22v1.5M1807.05 408.6v4.76m0 1.51v1.5m0 3.05v1.5M1808.15 408.6v6.16m0 2.8v1.5m0 3.96v1.5M1809.19 408.6v11.43m0 2.37v1.5m0 4.72v1.5m0 2.32v1.5M1810.23 408.6v15.15m0 4.03v1.5m0 4.01v1.5m0 7.82v1.5M1811.35 408.6v24.93m0 2.68v1.5m0 2v1.5m0 4.54v1.5M1812.52 408.6v21.66m0 4.32v1.5M1813.73 408.6v3.15m0 4.44v1.5m0 3.99v1.5M1814.77 408.6v17m0 2.78v1.5m0 3.32v1.5m0 8.77v1.5M1815.9 408.6v21.8m0 3.73v1.5m0 3.04v1.5m0 4.58v1.5M1816.92 408.6v25.12m0 2.75v1.5m0 4.46v1.5m0 3.03v1.5M1818.06 408.6v16.31m0 4.38v1.5M1819.28 408.6v24.11m0 2.84v1.5m0 3.48v1.5m0 4.71v1.5M1820.36 408.6v22.4m0 1.39v1.5m0 4.8v1.5M1821.53 408.6v3.04m0 5v1.5m0 2.45v1.5M1822.69 408.6v3.18m0 2.45v1.5M1823.86 408.6v6.65m0 4.79v1.5m0 1.65v1.5M1824.9 408.6v19.43m0 2.17v1.5m0 1.86v1.5m0 4.64v1.5M1826.03 408.6v6.04m0 4.08v1.5m0 15.81v1.5M1827.05 408.6v6.02m0 1.93v1.5m0 1.64v1.5m0 2.6v1.5M1828.15 408.6v15.03m0 3.27v1.5m0 4.04v1.5M1829.16 408.6v7.14m0 2.63v1.5m0 7.1v1.5M1830.4 408.6v13.73m0 1.67v1.5m0 4.53v1.5m0 3.81v1.5M1831.49 408.6v7.1m0 1.35v1.5m0 6v1.5m0 6.55v1.5M1832.55 408.6v4.81m0 2.21v1.5m0 4.26v1.5M1833.78 408.6v6.02m0 2.58v1.5m0 14.47v1.5M1834.88 408.6v9.95m0 4.77v1.5m0 1.65v1.5M1836.01 408.6v4.45m0 3.09v1.5m0 1.44v1.5m0 4.1v1.5M1837.23 408.6v3.93m0 3.06v1.5M1838.36 408.6v3.63m0 4.91v1.5M1839.46 408.6v6.55m0 4.54v1.5M1840.64 408.6v4.38m0 4.2v1.5m0 3.31v1.5M1841.72 408.6v16.32m0 3.44v1.5m0 1.78v1.5m0 2.5v1.5m0 11.26v1.5M1842.76 408.6v4.48m0 4.26v1.5m0 1.96v1.5M1843.94 408.6v17.23m0 2.17v1.5m0 4.13v1.5M1845.06 408.6v4.3m0 4.47v1.5M1846.31 408.6v21m0 2.38v1.5m0 3.45v1.5m0 10.19v1.5M1847.45 408.6v18.83m0 3.87v1.5m0 4.69v1.5M1848.67 408.6v3.9m0 4.6v1.5M1849.68 408.6v4.87m0 3.68v1.5m0 8.02v1.5M1850.69 408.6v4.37m0 3.8v1.5m0 2.06v1.5m0 2.5v1.5m0 8.36v1.5M1851.77 408.6v7.23m0 1.9v1.5m0 1.65v1.5m0 1.48v1.5m0 8.19v1.5M1852.98 408.6v8.91m0 3.56v1.5m0 7.53v1.5M1854.1 408.6v4.51m0 3.48v1.5m0 1.52v1.5m0 3.69v1.5M1855.25 408.6v4.18m0 4.72v1.5m0 2.46v1.5M1856.34 408.6v4.54m0 3.1v1.5M1857.43 408.6v11.22m0 2.8v1.5m0 3.59v1.5M1858.51 408.6v4.53m0 1.44v1.5m0 1.34v1.5m0 4.01v1.5m0 7.46v1.5M1859.58 408.6v13.53m0 2.83v1.5M1860.59 408.6v10.41m0 1.38v1.5m0 4.2v1.5M1861.76 408.6v4.4m0 3v1.5m0 7.67v1.5M1862.84 408.6v21.67m0 2.66v1.5m0 3.37v1.5m0 3.57v1.5M1864.07 408.6v6.58m0 4.75v1.5m0 7.7v1.5M1865.22 408.6v4.61m0 3.77v1.5m0 3.95v1.5M1866.26 408.6v4.41m0 3.65v1.5m0 3.55v1.5m0 11.42v1.5M1867.33 408.6v4.5m0 4v1.5m0 3.11v1.5M1868.37 408.6v4.45m0 2.43v1.5m0 3.01v1.5m0 1.32v1.5M1869.56 408.6v4.49m0 4.36v1.5M1870.63 408.6v6.4m0 3.6v1.5m0 2.83v1.5M1871.77 408.6v4.5m0 1.35v1.5m0 4.89v1.5M1872.87 408.6v11.91m0 3.42v1.5m0 1.51v1.5m0 1.15v1.5m0 2.06v1.5m0 4.67v1.5m0 3.68v1.5M1873.97 408.6v16.57m0 1.48v1.5m0 3.61v1.5m0 3.1v1.5m0 4.51v1.5m0 5.82v1.5m0 14.68v1.5M1875.18 408.6v71.16m0 3.98v1.5m0 1.9v1.5m0 1.62v1.5m0 3.25v1.5m0 4.93v1.5m0 19.31v1.5m0 11.48v1.5M1876.31 408.6v21.64m0 4.6v1.5m0 4.64v1.5m0 3.78v1.5m0 6.51v1.5m0 8.7v1.5m0 17.89v1.5M1877.39 408.6v4.07m0 2.3v1.5m0 3.54v1.5m0 4.45v1.5m0 3.91v1.5m0 4.3v1.5m0 4.52v1.5m0 12.64v1.5m0 14.87v1.5m0 13.18v1.5M1878.43 408.6v4.2m0 4.13v1.5m0 3.51v1.5m0 4.47v1.5M1879.51 408.6v5.74m0 4.92v1.5m0 3.24v1.5m0 1.6v1.5m0 2.57v1.5m0 4.42v1.5m0 4.41v1.5m0 2.14v1.5M1880.55 408.6v9.38m0 2.59v1.5m0 4.14v1.5m0 4.58v1.5m0 4.9v1.5M1881.72 408.6v4.99m0 2.95v1.5m0 4.01v1.5m0 5.04v1.5M1882.91 408.6v9.07m0 3.18v1.5m0 1.79v1.5M1884.05 408.6v14.44m0 3.96v1.5M1885.23 408.6v3.73m0 3.72v1.5M1886.42 408.6v5.94m0 1.59v1.5m0 1.33v1.5m0 1.57v1.5M1887.56 408.6v3.17m0 3.56v1.5M1029 411.6v2.7m0 1.55v5.73m0 2.13v7.13m0 1.65v2.94m0 0.98v3.98m0 1.41v4.78m0 2.15v3.89m0 1.86M1126 411.6v7.3m0 1.25v7.35m0 1.37v6.88m0 2.3v3.47m0 1.22v6.84m0 1.64v4.74m0 3.31v4.08m0 0.73v3.46m0 2.41v5.04m0 4.19M1153 411.6v3.85m0 0.65v5.19m0 1.21v6.5m0 1.52v2.85m0 1.44v2.95m0 2.54v4.42m0 2.73v2.51m0 3.76v3.57m0 2.78v3.53m0 3.31M1100 411.6v8.28m0 0.78v6.31m0 2.77v5.75m0 2.95v2.49m0 1.35v5.41m0 1.81M1060 411.6v6.26m0 1.48v7.81m0 1.3v3.23m0 1.85v5.55m0 1.33v2.34m0 1.25v4.37m0 0.9M1312 411.6v4.96m0 1.05v5.16m0 0.85v4.96m0 1.43v7.06m0 1.49v6.29m0 2.61v5.71m0 3.75v4.89m0 2.35M1320 411.6v6.58m0 0.77v7.84m0 2.28v4.52m0 2.52v4.97m0 0.68v3.3m0 0.68v4.49m0 3.49v2.48m0 0.95v1.46m0 2.56M1446.7 411.6v8.61m0 2v6m0 1.16v6.86m0 0.55v4.47m0 2.03v6.53m0 1.55v5.94m0 1.83v5.3m0 2.73v1.44m0 2.68M1572 411.6v6.11m0 1.17v2.79m0 0.55v4.94m0 2.78v2.55m0 1.26v4.42m0 1.13v3.69m0 3.62v1.99m0 3.78M1580 411.6v8.19m0 2.27v4.06m0 2.31v3.7m0 2.84v4.48m0 2.98v1.18m0 1.77M1877.05 411.6v7.14m0 0.75v6.4m0 1.59v6.3m0 1.61v5.15m0 1.77v2.25m0 2.94M1878.15 411.6v3.56m0 1.53v7.01m0 1.17v3.03m0 2.12v7.01m0 2.82v5.66m0 1.09v5.68m0 1.79v3.85m0 1.41v4.52m0 4.25M1446.05 424.2m0 3.91v1.5m0 3.39v1.5m0 2.18v1.5m0 2.64v1.5m0 4.78v1.5m0 5.47v1.5m0 2.52v1.5m0 4.61v1.5m0 3.79v1.5m0 5.5v1.5m0 6.08v1.5m0 4.08v1.5m0 2.12v1.5m0 2.01v1.5m0 7.7v1.5m0 4.96v1.5m0 8.62v1.5M1447.35 424.2m0 5.01v1.5m0 2.09v1.5m0 7.68v1.5m0 4.28v1.5m0 9.3v1.5m0 1.13v1.5m0 8.77v1.5m0 11.09v1.5m0 11.87v1.5m0 10.52v1.5M1125.35 439.8m0 3.52v1.5m0 6.18v1.5m0 6.84v1.5m0 5.08v1.5m0 4.6v1.5m0 1.12v1.5m0 4.65v1.5m0 3.46v1.5m0 5.02v1.5m0 3.25v1.5M1126.65 439.8m0 3.01v1.5m0 7.17v1.5m0 1.3v1.5m0 5.55v1.5m0 13.21v1.5m0 6.62v1.5m0 2.49v1.5M1876.35 445m0 6v1.5m0 1.28v1.5m0 5.27v1.5m0 1.63v1.5m0 7.32v1.5m0 6.41v1.5M1877.65 445m0 10.94v1.5m0 10.59v1.5m0 13.11v1.5M1357.06 454.21v1.5M1645.66 454.64v1.5M1325.32 485.4v1.5M1860.49 512.06v1.5M1048.8 456.02v1.5M1309.87 551.98v1.5M1629.38 452.51v1.5M1848.36 450.33v1.5M1073.3 499.33v1.5M1311.78 470.42v1.5M1395.78 473.66v1.5M1877.09 535.31v1.5M1057.8 446.71v1.5M1093.85 446.72v1.5M1137.06 510.28v1.5M1578.78 455.54v1.5M1858.05 438.27v1.5M1071.93 461.8v1.5M1886.39 458.1v1.5M1146.65 485.85v1.5M1122.42 486.59v1.5M1859.93 458.48v1.5M1877.94 511.73v1.5M1024.4 504.68v1.5M1067.95 465.63v1.5M1799.54 537.73v1.5M1051.59 454.17v1.5M1671.99 525.57v1.5M1609.73 449.8v1.5M1325.29 483.7v1.5M1574.93 459.96v1.5M1660.64 470.73v1.5M1134.56 451.16v1.5M1110.06 483.44v1.5M1111.14 485.48v1.5M1607.67 468.65v1.5M1339.96 483.45v1.5M1093.69 471.81v1.5M1123.3 492.88v1.5M1054.86 456.18v1.5M1355.28 504.29v1.5M1847.52 439.74v1.5M1090.55 451.25v1.5M1363.33 477.81v1.5M1382.77 458.89v1.5M1805.95 463.2v1.5M1030.02 514.54v1.5M1132.56 470.51v1.5M1034.76 482.29v1.5M1613.46 453.88v1.5M1130.42 550.09v1.5M1124.63 481.8v1.5M1062.21 457.59v1.5M1037.76 506.04v1.5M1859.69 447.99v1.5M1831.79 466.39v1.5M1421.13 444.94v1.5M1375.26 533.87v1.5M1444.64 465.55v1.5M1605.19 456.22v1.5M1323.99 511.54v1.5M1086.9 442.53v1.5M1368.91 455.42v1.5M1573.95 462.81v1.5M1414.87 462.74v1.5M1652.77 451.19v1.5M1121.93 462.22v1.5M1063.55 465.79v1.5M1645.33 449.96v1.5M1332.86 486.96v1.5M1656.71 460.2v1.5M1096.53 573.71v1.5M1073.62 458.29v1.5M1867.66 445.45v1.5M1860.97 466.83v1.5M1386.14 445.63v1.5M1394.13 513.76v1.5M1347.49 451.17v1.5M1589.24 450.22v1.5M1339.55 449.19v1.5M1313.31 476.94v1.5M1629.18 508.96v1.5M1072.49 482.28v1.5M1129.88 454.72v1.5M1380.39 462.38v1.5M1669.75 446.91v1.5M1314.41 476.11v1.5M1365.94 475.61v1.5M1620.77 515.6v1.5M1655.31 453.95v1.5M1656.94 463.54v1.5M1026.21 473.41v1.5M1353.5 481.46v1.5M1086.57 451.49v1.5M1402 461.64v1.5M1859.56 444.15v1.5M1122.03 459.92v1.5M1435.1 449.9v1.5M1128.59 519.37v1.5M1354.05 443.88v1.5M1840.32 476.44v1.5M1395.01 463.2v1.5M1043.73 459.24v1.5M1859.82 443.37v1.5M1103.43 459.4v1.5M1382.19 505.02v1.5M1385.79 457.96v1.5M1149.83 463.21v1.5M1846.84 529.45v1.5M1585.2 496.59v1.5M1858.84 439.09v1.5M1032.25 465.8v1.5M1644.38 453.87v1.5M1591.21 466.93v1.5M1323.39 471.36v1.5" stroke="#f4a083" stroke-width="1.35" fill="none"/>
<path d="M1165.87 358.8v-6.09m0 -2.1v-1.5m0 -2.3v-1.5m0 -4.08v-1.5M1166.94 358.8v-15.1m0 -1.63v-1.5m0 -1.54v-1.5m0 -1.82v-1.5M1168.18 358.8v-5.95m0 -1.29v-1.5m0 -1.04v-1.5m0 -1.64v-1.5m0 -3.31v-1.5M1169.29 358.8v-17.42m0 -1.56v-1.5m0 -2.42v-1.5m0 -5.6v-1.5M1170.53 358.8v-23.7m0 -2.39v-1.5m0 -1.85v-1.5m0 -2.18v-1.5M1171.66 358.8v-11.2m0 -1.63v-1.5m0 -0.69v-1.5m0 -1.28v-1.5m0 -7.95v-1.5M1172.79 358.8v-6.92m0 -1.57v-1.5m0 -1.18v-1.5m0 -1.91v-1.5M1174.02 358.8v-5.36m0 -2.85v-1.5m0 -3.75v-1.5M1175.2 358.8v-5.48m0 -2.08v-1.5m0 -1.38v-1.5m0 -0.91v-1.5M1176.35 358.8v-4.98m0 -2.7v-1.5M1177.45 358.8v-4.83m0 -2.3v-1.5m0 -1.19v-1.5m0 -9.44v-1.5M1178.67 358.8v-4.64m0 -2.09v-1.5m0 -2.71v-1.5m0 -1.36v-1.5m0 -2.68v-1.5M1179.78 358.8v-13.63m0 -0.89v-1.5m0 -2.67v-1.5m0 -1.53v-1.5m0 -2.22v-1.5M1181.01 358.8v-19.63m0 -1.89v-1.5m0 -1.36v-1.5m0 -2.52v-1.5M1182.02 358.8v-5.62m0 -1.48v-1.5m0 -0.9v-1.5M1183.13 358.8v-4.82m0 -2.04v-1.5m0 -1.3v-1.5m0 -2.89v-1.5M1184.26 358.8v-4.35m0 -1.17v-1.5m0 -2.73v-1.5m0 -7.16v-1.5m0 -4.06v-1.5M1185.5 358.8v-4.37m0 -0.75v-1.5m0 -1.58v-1.5m0 -0.7v-1.5m0 -0.86v-1.5M1186.56 358.8v-5.62m0 -1.5v-1.5m0 -2.65v-1.5M1187.76 358.8v-6.53m0 -1.21v-1.5m0 -1.25v-1.5m0 -2.64v-1.5m0 -4.37v-1.5M1188.93 358.8v-5.55m0 -2.71v-1.5m0 -1.13v-1.5m0 -1.21v-1.5M1190.11 358.8v-5.82m0 -1.39v-1.5m0 -2.91v-1.5M1191.27 358.8v-4.66m0 -2.36v-1.5m0 -2.53v-1.5m0 -1.17v-1.5M1192.51 358.8v-6.65m0 -1.8v-1.5m0 -2.08v-1.5M1193.59 358.8v-4.84m0 -1.08v-1.5m0 -2.77v-1.5M1194.69 358.8v-5.96m0 -2.45v-1.5m0 -8.44v-1.5M1195.74 358.8v-7.63m0 -2.47v-1.5m0 -1.77v-1.5M1196.76 358.8v-20.42m0 -1.21v-1.5m0 -1.18v-1.5m0 -2.72v-1.5m0 -2.47v-1.5m0 -10.74v-1.5M1197.81 358.8v-6.43m0 -1.04v-1.5m0 -2.14v-1.5m0 -0.76v-1.5m0 -2.84v-1.5m0 -2.65v-1.5m0 -4.01v-1.5M1199.04 358.8v-11.04m0 -1.61v-1.5m0 -2.06v-1.5m0 -2.66v-1.5m0 -2.29v-1.5m0 -1.14v-1.5m0 -1.91v-1.5M1200.25 358.8v-7.36m0 -1.07v-1.5m0 -1.2v-1.5m0 -2.19v-1.5M1201.28 358.8v-31.44m0 -2.18v-1.5m0 -2.14v-1.5m0 -0.67v-1.5m0 -2.62v-1.5m0 -1.03v-1.5m0 -4.15v-1.5m0 -7.17v-1.5m0 -7.88v-1.5M1202.43 358.8v-8.11m0 -2.57v-1.5m0 -1.74v-1.5m0 -0.83v-1.5m0 -0.69v-1.5m0 -8.37v-1.5m0 -6.41v-1.5m0 -6.54v-1.5m0 -5.49v-1.5M1203.55 358.8v-9.57m0 -1.07v-1.5m0 -2.84v-1.5m0 -2.6v-1.5m0 -6.02v-1.5M1204.7 358.8v-25.42m0 -2.54v-1.5m0 -1.12v-1.5m0 -2.71v-1.5m0 -2.79v-1.5m0 -2.55v-1.5M1205.86 358.8v-10.31m0 -1.72v-1.5m0 -2.71v-1.5M1206.94 358.8v-5.28m0 -1.11v-1.5m0 -1.57v-1.5m0 -2.28v-1.5m0 -2.55v-1.5M1208.18 358.8v-4.69m0 -1.88v-1.5m0 -1.33v-1.5m0 -2.51v-1.5m0 -2v-1.5m0 -1.36v-1.5M1209.3 358.8v-19.05m0 -1.77v-1.5m0 -2.79v-1.5m0 -1.39v-1.5m0 -1.68v-1.5M1210.45 358.8v-4.45m0 -1.55v-1.5m0 -1.08v-1.5m0 -2.66v-1.5m0 -1.91v-1.5m0 -4.5v-1.5m0 -3.34v-1.5m0 -6.36v-1.5m0 -3.38v-1.5M1211.61 358.8v-4.8m0 -1.48v-1.5m0 -1.04v-1.5m0 -2.57v-1.5m0 -0.88v-1.5m0 -2.33v-1.5m0 -1.42v-1.5m0 -9.18v-1.5M1212.66 358.8v-24.32m0 -1.94v-1.5m0 -2.12v-1.5m0 -1.39v-1.5m0 -4.1v-1.5m0 -9.32v-1.5M1213.67 358.8v-4.83m0 -2.08v-1.5m0 -1.49v-1.5m0 -2.84v-1.5M1214.78 358.8v-5.43m0 -2.81v-1.5m0 -0.75v-1.5m0 -1.96v-1.5m0 -1.09v-1.5m0 -2.46v-1.5m0 -1.19v-1.5m0 -2.34v-1.5m0 -1.42v-1.5m0 -8.47v-1.5m0 -8.72v-1.5M1215.97 358.8v-5.33m0 -1.08v-1.5m0 -0.89v-1.5m0 -2.27v-1.5m0 -2.71v-1.5m0 -2.35v-1.5m0 -1.83v-1.5m0 -2.08v-1.5m0 -9.19v-1.5M1217.17 358.8v-4.85m0 -2.7v-1.5m0 -2.47v-1.5m0 -2.45v-1.5m0 -2.54v-1.5m0 -11.55v-1.5m0 -11.57v-1.5M1218.35 358.8v-6.85m0 -2.08v-1.5m0 -0.72v-1.5m0 -0.75v-1.5m0 -1.71v-1.5m0 -2.44v-1.5m0 -10.64v-1.5m0 -5.94v-1.5M1219.38 358.8v-8.49m0 -1.84v-1.5m0 -1.8v-1.5m0 -2.61v-1.5m0 -1.08v-1.5m0 -2.58v-1.5m0 -4.99v-1.5M1220.61 358.8v-5.83m0 -2.82v-1.5m0 -2.85v-1.5m0 -0.67v-1.5m0 -2.11v-1.5m0 -2.18v-1.5m0 -2.65v-1.5m0 -4.35v-1.5M1221.81 358.8v-4.41m0 -0.87v-1.5m0 -2.12v-1.5m0 -1.87v-1.5m0 -2.35v-1.5m0 -2.48v-1.5m0 -0.67v-1.5m0 -2.77v-1.5M1223.03 358.8v-24.14m0 -1.23v-1.5m0 -2.72v-1.5m0 -1.61v-1.5m0 -1.76v-1.5m0 -2.24v-1.5m0 -2.22v-1.5m0 -2.23v-1.5m0 -8.22v-1.5m0 -7.16v-1.5m0 -9.53v-1.5M1224.16 358.8v-38.73m0 -2.28v-1.5m0 -1.05v-1.5m0 -0.77v-1.5m0 -2.74v-1.5m0 -11.14v-1.5m0 -5v-1.5m0 -8.27v-1.5m0 -2.67v-1.5M1225.39 358.8v-9.98m0 -2.72v-1.5m0 -0.98v-1.5m0 -2.22v-1.5m0 -1.51v-1.5m0 -1.06v-1.5m0 -1.45v-1.5m0 -1.75v-1.5m0 -10.71v-1.5M1226.4 358.8v-5.81m0 -1.92v-1.5m0 -2.04v-1.5M1227.41 358.8v-7.99m0 -1.23v-1.5m0 -2.41v-1.5m0 -1.15v-1.5m0 -0.98v-1.5m0 -2.01v-1.5m0 -2.54v-1.5m0 -1.33v-1.5m0 -5.27v-1.5m0 -3.87v-1.5m0 -8.03v-1.5M1228.41 358.8v-11.8m0 -0.91v-1.5m0 -1.86v-1.5m0 -1.28v-1.5m0 -4.33v-1.5m0 -11.53v-1.5M1229.48 358.8v-9.05m0 -0.71v-1.5m0 -2.62v-1.5m0 -1.2v-1.5m0 -1.59v-1.5m0 -10.83v-1.5M1230.54 358.8v-23.94m0 -2.58v-1.5m0 -1.11v-1.5m0 -2.85v-1.5m0 -0.89v-1.5m0 -2.15v-1.5m0 -1.2v-1.5m0 -4.47v-1.5m0 -3.76v-1.5M1231.59 358.8v-6.65m0 -1.41v-1.5m0 -1.14v-1.5m0 -11.56v-1.5m0 -3.35v-1.5M1232.73 358.8v-6.09m0 -1.26v-1.5m0 -1.81v-1.5m0 -1.03v-1.5m0 -6.23v-1.5m0 -2.74v-1.5m0 -8.75v-1.5M1233.74 358.8v-5.71m0 -0.95v-1.5m0 -1.4v-1.5m0 -0.72v-1.5M1234.88 358.8v-6.84m0 -1.23v-1.5m0 -2.43v-1.5m0 -5.06v-1.5M1235.93 358.8v-18.8m0 -0.86v-1.5m0 -1.39v-1.5m0 -1.61v-1.5m0 -4.87v-1.5M1237.1 358.8v-13.01m0 -2.53v-1.5m0 -1.16v-1.5M1238.1 358.8v-5.64m0 -2.44v-1.5m0 -1.37v-1.5m0 -1.18v-1.5m0 -0.84v-1.5m0 -2.05v-1.5M1239.18 358.8v-31.24m0 -2.86v-1.5m0 -2.15v-1.5m0 -2.82v-1.5m0 -2.22v-1.5m0 -8.89v-1.5M1240.41 358.8v-19.33m0 -2.76v-1.5m0 -2.9v-1.5M1241.55 358.8v-6.45m0 -1.55v-1.5m0 -1.11v-1.5m0 -3.32v-1.5M1242.75 358.8v-6.41m0 -1.34v-1.5m0 -1.89v-1.5m0 -2.03v-1.5m0 -1.59v-1.5m0 -2.62v-1.5M1243.91 358.8v-12.84m0 -2.64v-1.5m0 -1.05v-1.5m0 -1.11v-1.5m0 -6.74v-1.5m0 -11.37v-1.5M1245.07 358.8v-5.93m0 -1.08v-1.5m0 -1.93v-1.5m0 -2.19v-1.5m0 -2.49v-1.5M1246.12 358.8v-10.99m0 -1.91v-1.5m0 -1.3v-1.5m0 -0.98v-1.5m0 -2.47v-1.5M1247.26 358.8v-18.92m0 -2.87v-1.5m0 -1.97v-1.5m0 -2.44v-1.5m0 -2.65v-1.5m0 -9.44v-1.5M1248.27 358.8v-13.69m0 -2.83v-1.5m0 -1.01v-1.5m0 -0.92v-1.5m0 -8.33v-1.5m0 -10.08v-1.5M1249.47 358.8v-31.82m0 -1.48v-1.5m0 -0.85v-1.5m0 -2.43v-1.5m0 -1.34v-1.5m0 -1.61v-1.5m0 -0.96v-1.5m0 -5.53v-1.5M1250.71 358.8v-9.25m0 -2.17v-1.5m0 -2.69v-1.5m0 -1.96v-1.5m0 -2.76v-1.5m0 -11.3v-1.5M1251.92 358.8v-6.54m0 -1.44v-1.5m0 -1.66v-1.5m0 -2.08v-1.5m0 -1.7v-1.5m0 -5.1v-1.5m0 -6.27v-1.5M1252.94 358.8v-5.94m0 -1.59v-1.5m0 -2.26v-1.5m0 -2.49v-1.5m0 -8.45v-1.5m0 -5.63v-1.5M1254.02 358.8v-25.31m0 -1.56v-1.5m0 -2.56v-1.5m0 -8.51v-1.5m0 -11.43v-1.5M1255.1 358.8v-7.53m0 -0.85v-1.5m0 -1.89v-1.5m0 -2.9v-1.5m0 -4.69v-1.5m0 -3.57v-1.5M1256.13 358.8v-10.68m0 -2.54v-1.5m0 -1.83v-1.5m0 -1.99v-1.5m0 -3.5v-1.5m0 -3.09v-1.5M1257.28 358.8v-8.51m0 -2.11v-1.5m0 -2.16v-1.5m0 -0.87v-1.5m0 -3.15v-1.5m0 -6.55v-1.5m0 -3.67v-1.5m0 -5.21v-1.5M1258.48 358.8v-36.18m0 -1.42v-1.5m0 -1.76v-1.5m0 -2.2v-1.5m0 -2.89v-1.5M1259.56 358.8v-27.12m0 -0.8v-1.5m0 -0.89v-1.5m0 -2.72v-1.5m0 -6.28v-1.5m0 -10.26v-1.5M1260.78 358.8v-4.89m0 -1.69v-1.5m0 -2.36v-1.5m0 -3.27v-1.5M1261.98 358.8v-27.02m0 -1.29v-1.5m0 -2.27v-1.5m0 -1.6v-1.5m0 -6.88v-1.5M1263.01 358.8v-9.69m0 -1.62v-1.5m0 -2.41v-1.5m0 -10.86v-1.5m0 -3.96v-1.5M1264.2 358.8v-4.7m0 -1.23v-1.5m0 -1.78v-1.5m0 -8.04v-1.5M1265.42 358.8v-4.69m0 -1.2v-1.5m0 -2.04v-1.5m0 -1.59v-1.5m0 -1.38v-1.5m0 -1.8v-1.5m0 -8.89v-1.5m0 -10.83v-1.5M1266.47 358.8v-5.63m0 -2.26v-1.5m0 -1.06v-1.5m0 -2.81v-1.5m0 -1.22v-1.5m0 -2.2v-1.5m0 -8.87v-1.5M1267.61 358.8v-4.9m0 -0.75v-1.5m0 -1.11v-1.5m0 -1.96v-1.5m0 -1.62v-1.5m0 -0.85v-1.5m0 -1.12v-1.5m0 -7.81v-1.5m0 -6.19v-1.5m0 -9.5v-1.5M1268.77 358.8v-5.06m0 -1.47v-1.5m0 -1.15v-1.5m0 -1.32v-1.5m0 -1.47v-1.5m0 -1.48v-1.5m0 -1.07v-1.5m0 -1.73v-1.5m0 -3.53v-1.5m0 -10.46v-1.5M1269.93 358.8v-4.77m0 -1.02v-1.5m0 -1.75v-1.5m0 -4.18v-1.5m0 -3.89v-1.5M1270.95 358.8v-5.23m0 -1.8v-1.5m0 -1.37v-1.5m0 -1.63v-1.5m0 -1.75v-1.5m0 -5.64v-1.5m0 -10.07v-1.5M1272.12 358.8v-12.42m0 -2.57v-1.5m0 -1.94v-1.5m0 -1.48v-1.5m0 -8.45v-1.5M1273.27 358.8v-41.93m0 -1.54v-1.5m0 -0.99v-1.5m0 -2.03v-1.5m0 -4.43v-1.5m0 -5.87v-1.5m0 -7.49v-1.5M1274.48 358.8v-45.52m0 -2.79v-1.5m0 -0.77v-1.5m0 -2.11v-1.5m0 -2.75v-1.5M1275.68 358.8v-7.01m0 -2.14v-1.5m0 -1.25v-1.5m0 -0.84v-1.5m0 -4.17v-1.5m0 -5.01v-1.5m0 -4.01v-1.5m0 -4.32v-1.5M1276.76 358.8v-6.35m0 -1.88v-1.5m0 -2.26v-1.5m0 -2.59v-1.5m0 -1.98v-1.5m0 -2.84v-1.5m0 -6.71v-1.5m0 -2.8v-1.5m0 -8.04v-1.5m0 -3.1v-1.5M1277.94 358.8v-4.44m0 -2.15v-1.5m0 -2.25v-1.5m0 -1.29v-1.5m0 -7.93v-1.5m0 -5.52v-1.5m0 -4.87v-1.5m0 -4.88v-1.5M1279.16 358.8v-5.24m0 -0.86v-1.5m0 -2.48v-1.5m0 -1.86v-1.5m0 -1.72v-1.5m0 -1.98v-1.5m0 -2.49v-1.5M1280.38 358.8v-26.91m0 -2.89v-1.5m0 -1.95v-1.5m0 -1.74v-1.5m0 -2.67v-1.5m0 -3v-1.5m0 -3.08v-1.5M1281.42 358.8v-4.67m0 -0.69v-1.5m0 -1.96v-1.5m0 -0.98v-1.5m0 -1.93v-1.5m0 -2.16v-1.5m0 -0.7v-1.5m0 -2.62v-1.5M1282.43 358.8v-22.82m0 -1.57v-1.5m0 -0.68v-1.5m0 -1.63v-1.5m0 -1.26v-1.5m0 -1.47v-1.5m0 -3.99v-1.5M1283.59 358.8v-13.55m0 -2.62v-1.5m0 -2.05v-1.5m0 -0.89v-1.5m0 -0.7v-1.5m0 -2.66v-1.5m0 -4.65v-1.5m0 -3.47v-1.5m0 -8.51v-1.5M1284.65 358.8v-5.73m0 -1.38v-1.5m0 -1.13v-1.5m0 -2.1v-1.5m0 -2.79v-1.5m0 -0.86v-1.5m0 -1.54v-1.5m0 -5.73v-1.5m0 -3.24v-1.5M1285.79 358.8v-12.83m0 -2.69v-1.5m0 -1.28v-1.5m0 -2.73v-1.5m0 -2.35v-1.5m0 -2.12v-1.5m0 -4.28v-1.5M1287.02 358.8v-7.2m0 -0.86v-1.5m0 -1.86v-1.5m0 -4.45v-1.5m0 -9.52v-1.5m0 -7.75v-1.5M1288.12 358.8v-15.88m0 -1.96v-1.5m0 -2.72v-1.5m0 -1.5v-1.5m0 -1.09v-1.5m0 -1.3v-1.5M1289.18 358.8v-4.68m0 -1.82v-1.5m0 -2.68v-1.5M1290.3 358.8v-5.31m0 -1.01v-1.5m0 -1.86v-1.5m0 -1.12v-1.5m0 -5.84v-1.5m0 -5.47v-1.5M1291.46 358.8v-10.96m0 -1.41v-1.5m0 -2.76v-1.5m0 -5.54v-1.5m0 -5.49v-1.5M1292.49 358.8v-5.64m0 -1v-1.5m0 -2.32v-1.5m0 -1.54v-1.5m0 -2.6v-1.5m0 -4.64v-1.5m0 -4.7v-1.5M1293.58 358.8v-4.64m0 -2.4v-1.5m0 -1.26v-1.5m0 -1.92v-1.5M1294.61 358.8v-6.28m0 -1.34v-1.5m0 -2.64v-1.5m0 -1.91v-1.5m0 -1.12v-1.5m0 -3.71v-1.5m0 -5.51v-1.5m0 -3.76v-1.5M1295.78 358.8v-5.83m0 -2.01v-1.5m0 -1.66v-1.5m0 -0.98v-1.5m0 -1.72v-1.5M1296.99 358.8v-8.08m0 -1.91v-1.5m0 -2.07v-1.5m0 -1.11v-1.5m0 -1v-1.5m0 -2.61v-1.5M1298.08 358.8v-19.67m0 -1.79v-1.5M1299.17 358.8v-15.59m0 -1.79v-1.5m0 -1.32v-1.5M1300.31 358.8v-5.31m0 -0.71v-1.5m0 -1.9v-1.5m0 -2.71v-1.5M1301.36 358.8v-7.59m0 -1.34v-1.5m0 -1.67v-1.5m0 -1.81v-1.5m0 -10.01v-1.5M1302.43 358.8v-24.72m0 -2.65v-1.5m0 -4.44v-1.5M1303.51 358.8v-8.8m0 -1.27v-1.5m0 -0.78v-1.5M1304.62 358.8v-8.53m0 -0.82v-1.5m0 -0.7v-1.5m0 -1.51v-1.5m0 -1.31v-1.5M1305.64 358.8v-5.45m0 -1.6v-1.5m0 -7.09v-1.5M1306.83 358.8v-12.68m0 -0.73v-1.5m0 -0.98v-1.5M1307.98 358.8v-10.56m0 -1.03v-1.5m0 -2.46v-1.5m0 -3.63v-1.5M1448.36 358.8v-4.53m0 -0.97v-1.5m0 -2.81v-1.5m0 -2.65v-1.5m0 -3.4v-1.5M1449.42 358.8v-5.85m0 -2.78v-1.5m0 -1.72v-1.5m0 -8.93v-1.5M1450.54 358.8v-19.3m0 -0.99v-1.5m0 -2.09v-1.5m0 -1.92v-1.5m0 -2.7v-1.5m0 -1v-1.5m0 -2.48v-1.5m0 -2.79v-1.5m0 -9.35v-1.5M1451.76 358.8v-4.89m0 -2.37v-1.5m0 -0.99v-1.5m0 -1.68v-1.5m0 -2.91v-1.5M1452.95 358.8v-5.71m0 -1.1v-1.5m0 -2.24v-1.5m0 -1.45v-1.5m0 -7.3v-1.5m0 -7.6v-1.5m0 -4.99v-1.5m0 -6.32v-1.5M1454.16 358.8v-5.19m0 -2.63v-1.5m0 -0.98v-1.5m0 -2.88v-1.5m0 -0.77v-1.5m0 -2.69v-1.5m0 -2.45v-1.5m0 -1.54v-1.5m0 -2.45v-1.5m0 -11.28v-1.5m0 -4v-1.5m0 -8.45v-1.5m0 -2.54v-1.5M1455.35 358.8v-23.82m0 -1.57v-1.5m0 -2.62v-1.5m0 -1.36v-1.5m0 -11.38v-1.5m0 -6.82v-1.5m0 -4.17v-1.5M1456.52 358.8v-5.89m0 -2.78v-1.5m0 -1.92v-1.5m0 -1.14v-1.5m0 -7.09v-1.5m0 -5.18v-1.5m0 -5.38v-1.5m0 -5.41v-1.5M1457.74 358.8v-4.97m0 -1.96v-1.5m0 -1.49v-1.5m0 -2.13v-1.5m0 -7.82v-1.5m0 -6.89v-1.5m0 -9.63v-1.5M1458.91 358.8v-12.77m0 -2.61v-1.5m0 -2.26v-1.5m0 -1.41v-1.5m0 -1.76v-1.5m0 -0.84v-1.5m0 -2.3v-1.5m0 -2.12v-1.5m0 -2.51v-1.5m0 -0.86v-1.5m0 -3.68v-1.5m0 -8.42v-1.5m0 -9.21v-1.5M1460.09 358.8v-37.46m0 -0.78v-1.5m0 -0.89v-1.5m0 -1.13v-1.5m0 -2.63v-1.5m0 -3.85v-1.5m0 -2.73v-1.5M1461.17 358.8v-68.65m0 -1.72v-1.5m0 -1.09v-1.5m0 -0.78v-1.5m0 -1.08v-1.5m0 -2.8v-1.5m0 -2.5v-1.5m0 -1.95v-1.5m0 -2.05v-1.5m0 -2.34v-1.5m0 -10.03v-1.5m0 -4.71v-1.5m0 -9.85v-1.5M1462.21 358.8v-31.93m0 -1.9v-1.5m0 -2.85v-1.5m0 -2.44v-1.5m0 -1.04v-1.5m0 -3.6v-1.5m0 -5.08v-1.5M1463.4 358.8v-5.11m0 -1.94v-1.5m0 -1.38v-1.5m0 -2.88v-1.5m0 -7.93v-1.5m0 -3.78v-1.5m0 -9.63v-1.5m0 -5.16v-1.5M1464.44 358.8v-4.77m0 -1.39v-1.5m0 -1.02v-1.5m0 -2.83v-1.5m0 -1.13v-1.5m0 -5.09v-1.5m0 -6.26v-1.5m0 -3.58v-1.5M1465.67 358.8v-17.84m0 -1.5v-1.5m0 -2.19v-1.5m0 -2.34v-1.5m0 -1.26v-1.5m0 -4.7v-1.5m0 -8.23v-1.5M1466.82 358.8v-34.59m0 -1.45v-1.5m0 -1.14v-1.5m0 -2.62v-1.5m0 -1.15v-1.5m0 -2.44v-1.5m0 -2.59v-1.5M1467.9 358.8v-4.47m0 -1.39v-1.5m0 -2.71v-1.5M1469.13 358.8v-9.48m0 -2.07v-1.5m0 -0.67v-1.5m0 -1.99v-1.5M1470.17 358.8v-5.85m0 -1.69v-1.5m0 -2.05v-1.5m0 -1.13v-1.5M1471.3 358.8v-6.46m0 -1.22v-1.5m0 -1.21v-1.5m0 -1.57v-1.5m0 -1.36v-1.5m0 -2.51v-1.5m0 -5.9v-1.5m0 -5.92v-1.5m0 -7.11v-1.5M1472.32 358.8v-8.96m0 -0.92v-1.5m0 -2.59v-1.5m0 -1.22v-1.5m0 -1.24v-1.5M1473.57 358.8v-18.19m0 -1.6v-1.5m0 -0.92v-1.5m0 -1.32v-1.5m0 -2.73v-1.5m0 -2.78v-1.5m0 -1.24v-1.5m0 -2.74v-1.5m0 -2.64v-1.5M1474.71 358.8v-49.67m0 -1.65v-1.5m0 -2.78v-1.5m0 -5.73v-1.5m0 -2.67v-1.5M1475.91 358.8v-21.32m0 -1.11v-1.5m0 -2.87v-1.5m0 -1.67v-1.5m0 -1v-1.5m0 -2.15v-1.5m0 -1.52v-1.5M1476.98 358.8v-7.94m0 -2.91v-1.5m0 -1.8v-1.5m0 -1.69v-1.5m0 -2.58v-1.5m0 -2.82v-1.5m0 -2.29v-1.5m0 -1.49v-1.5m0 -6.19v-1.5m0 -2.58v-1.5m0 -4.7v-1.5M1478.18 358.8v-15.44m0 -1.94v-1.5m0 -2.48v-1.5m0 -1.79v-1.5m0 -2.17v-1.5m0 -6.99v-1.5m0 -5.73v-1.5m0 -9.51v-1.5m0 -3.15v-1.5M1479.36 358.8v-8.17m0 -1.68v-1.5m0 -1.57v-1.5m0 -1.7v-1.5m0 -1.17v-1.5m0 -2.46v-1.5m0 -2.65v-1.5m0 -1.79v-1.5m0 -2.59v-1.5m0 -5.17v-1.5m0 -10.38v-1.5M1480.52 358.8v-6.15m0 -2.23v-1.5m0 -1.73v-1.5m0 -0.8v-1.5m0 -0.95v-1.5m0 -2.53v-1.5m0 -1.08v-1.5m0 -8.79v-1.5m0 -3.97v-1.5m0 -9.42v-1.5M1481.76 358.8v-5.93m0 -1.74v-1.5m0 -2.61v-1.5m0 -1v-1.5m0 -1.3v-1.5m0 -2.73v-1.5M1482.86 358.8v-6.61m0 -2.77v-1.5m0 -2.15v-1.5m0 -0.86v-1.5m0 -1.02v-1.5m0 -0.67v-1.5m0 -0.92v-1.5m0 -0.73v-1.5m0 -1.53v-1.5m0 -8.15v-1.5M1483.97 358.8v-5.72m0 -2.73v-1.5m0 -2.87v-1.5m0 -0.72v-1.5m0 -2v-1.5M1485.14 358.8v-5.69m0 -1.87v-1.5m0 -0.75v-1.5m0 -1.45v-1.5m0 -2.3v-1.5m0 -1.12v-1.5M1486.35 358.8v-4.74m0 -0.95v-1.5m0 -2.66v-1.5m0 -1.43v-1.5m0 -9.39v-1.5M1487.43 358.8v-5.34m0 -1.2v-1.5m0 -2.63v-1.5m0 -1.04v-1.5M1488.6 358.8v-5.16m0 -2.58v-1.5m0 -2.01v-1.5M1489.65 358.8v-29.33m0 -2.05v-1.5m0 -2.37v-1.5m0 -7.1v-1.5M1490.79 358.8v-29.38m0 -2.13v-1.5m0 -0.86v-1.5m0 -2.39v-1.5m0 -2.27v-1.5m0 -1.53v-1.5m0 -1.83v-1.5m0 -6.96v-1.5M1491.98 358.8v-6.04m0 -1.08v-1.5m0 -1.49v-1.5m0 -8.25v-1.5M1493 358.8v-13.29m0 -2.16v-1.5m0 -2.21v-1.5m0 -4.82v-1.5m0 -10.18v-1.5M1494.18 358.8v-28.34m0 -1.95v-1.5m0 -1.73v-1.5m0 -9.53v-1.5M1495.19 358.8v-6.43m0 -2.87v-1.5m0 -1.57v-1.5m0 -2.09v-1.5m0 -0.96v-1.5M1496.43 358.8v-7.93m0 -1.69v-1.5m0 -1.37v-1.5m0 -1.03v-1.5m0 -1.42v-1.5m0 -6.56v-1.5M1497.54 358.8v-7.38m0 -0.7v-1.5m0 -1.19v-1.5m0 -1.88v-1.5m0 -0.8v-1.5m0 -3.88v-1.5m0 -9.4v-1.5M1498.64 358.8v-15.33m0 -1.73v-1.5m0 -1.38v-1.5M1499.82 358.8v-24.85m0 -2.4v-1.5m0 -1.7v-1.5m0 -1.22v-1.5m0 -1.79v-1.5m0 -2.69v-1.5m0 -3.64v-1.5m0 -3.5v-1.5M1500.96 358.8v-5.2m0 -2.41v-1.5m0 -1.54v-1.5m0 -1.45v-1.5m0 -2.79v-1.5M1502.14 358.8v-24.79m0 -1.56v-1.5m0 -2.44v-1.5m0 -2.13v-1.5m0 -10.66v-1.5M1503.16 358.8v-20m0 -0.87v-1.5m0 -1.11v-1.5m0 -1.04v-1.5m0 -1.65v-1.5M1504.3 358.8v-21.5m0 -2.14v-1.5m0 -1.72v-1.5m0 -1.36v-1.5m0 -1.8v-1.5m0 -8.28v-1.5M1505.44 358.8v-16.48m0 -0.87v-1.5m0 -2.07v-1.5m0 -2.58v-1.5m0 -2.24v-1.5M1506.67 358.8v-20.73m0 -2.27v-1.5m0 -2.32v-1.5M1507.68 358.8v-7.06m0 -2.78v-1.5m0 -0.73v-1.5m0 -1.94v-1.5M1508.8 358.8v-7.66m0 -2.26v-1.5m0 -0.69v-1.5M1509.95 358.8v-5.55m0 -1.64v-1.5m0 -1.54v-1.5m0 -1.76v-1.5m0 -1.46v-1.5M1511.09 358.8v-6.13m0 -1.8v-1.5m0 -2.91v-1.5m0 -2.67v-1.5m0 -3.12v-1.5M1512.11 358.8v-7.82m0 -1.09v-1.5m0 -1.87v-1.5m0 -2.29v-1.5M1513.26 358.8v-4.32m0 -1.16v-1.5m0 -1.42v-1.5m0 -1.24v-1.5m0 -1.54v-1.5m0 -6.16v-1.5M1514.31 358.8v-5.74m0 -2.05v-1.5m0 -5v-1.5m0 -6.63v-1.5M1515.36 358.8v-13.61m0 -2.87v-1.5m0 -2.14v-1.5m0 -0.91v-1.5m0 -7.13v-1.5M1516.58 358.8v-22.56m0 -0.82v-1.5m0 -1.03v-1.5M1517.63 358.8v-11.02m0 -1.46v-1.5m0 -2.44v-1.5m0 -1.05v-1.5m0 -5.8v-1.5M1518.75 358.8v-5.8m0 -2.03v-1.5m0 -1.3v-1.5m0 -2v-1.5m0 -10.23v-1.5M1519.93 358.8v-6.77m0 -2.03v-1.5m0 -0.98v-1.5m0 -1.15v-1.5m0 -1.06v-1.5m0 -7.41v-1.5M1521.11 358.8v-4.81m0 -0.99v-1.5m0 -2.14v-1.5m0 -1.61v-1.5m0 -1.28v-1.5M1522.25 358.8v-8.55m0 -1.39v-1.5m0 -1.15v-1.5m0 -2.28v-1.5m0 -2.72v-1.5m0 -4v-1.5M1523.45 358.8v-9.87m0 -1.63v-1.5m0 -2.78v-1.5m0 -1.07v-1.5m0 -6.57v-1.5m0 -6.56v-1.5M1524.57 358.8v-7.94m0 -1.75v-1.5m0 -1.85v-1.5m0 -1.11v-1.5m0 -8.39v-1.5M1525.72 358.8v-6.13m0 -2.77v-1.5m0 -2.75v-1.5m0 -7.1v-1.5M1526.93 358.8v-5.53m0 -2.45v-1.5m0 -2.54v-1.5m0 -7.68v-1.5M1528.1 358.8v-9.8m0 -2.13v-1.5m0 -2.39v-1.5m0 -2.76v-1.5m0 -6.12v-1.5M1529.26 358.8v-8.47m0 -2.86v-1.5m0 -2.8v-1.5M1530.36 358.8v-11.21m0 -1.21v-1.5m0 -0.71v-1.5m0 -2.38v-1.5m0 -2.38v-1.5m0 -9.2v-1.5M1531.5 358.8v-5.29m0 -2.15v-1.5m0 -1.17v-1.5m0 -1.87v-1.5m0 -8.26v-1.5M1532.6 358.8v-5.28m0 -0.92v-1.5m0 -2.45v-1.5M1533.78 358.8v-6.85m0 -1.17v-1.5m0 -1.02v-1.5m0 -2.19v-1.5m0 -2.41v-1.5M1534.88 358.8v-11.79m0 -1.54v-1.5m0 -1.94v-1.5m0 -1.35v-1.5m0 -3.84v-1.5M1535.99 358.8v-28.3m0 -1.67v-1.5m0 -2.6v-1.5m0 -3.09v-1.5m0 -7.66v-1.5M1537.18 358.8v-18.33m0 -2.61v-1.5m0 -0.84v-1.5m0 -8.71v-1.5M1538.31 358.8v-5.53m0 -0.89v-1.5m0 -1.35v-1.5m0 -1.76v-1.5m0 -9.07v-1.5m0 -2.55v-1.5M1539.39 358.8v-7.37m0 -1.15v-1.5m0 -2.54v-1.5m0 -1.82v-1.5m0 -4.75v-1.5m0 -2.66v-1.5m0 -4.49v-1.5M1540.6 358.8v-6.06m0 -1.81v-1.5m0 -1.83v-1.5m0 -1.55v-1.5M1541.7 358.8v-7.72m0 -1.19v-1.5m0 -1.65v-1.5m0 -10.98v-1.5M1542.91 358.8v-5.41m0 -0.7v-1.5m0 -2.83v-1.5M1544.1 358.8v-4.87m0 -1.14v-1.5m0 -1.28v-1.5m0 -2.99v-1.5M1545.21 358.8v-6.4m0 -1.96v-1.5m0 -1.44v-1.5m0 -3.78v-1.5M1546.39 358.8v-6.83m0 -0.77v-1.5m0 -2.64v-1.5m0 -2.03v-1.5m0 -3.36v-1.5M1547.4 358.8v-11.37m0 -2.28v-1.5m0 -3.36v-1.5M1548.5 358.8v-11.64m0 -1.37v-1.5m0 -2.87v-1.5m0 -2.05v-1.5m0 -9.09v-1.5M1549.71 358.8v-10.18m0 -1.16v-1.5m0 -1.52v-1.5m0 -3.82v-1.5m0 -6.47v-1.5M1550.86 358.8v-6.69m0 -0.85v-1.5m0 -0.94v-1.5m0 -2.34v-1.5m0 -3.69v-1.5M1552 358.8v-7.53m0 -1.13v-1.5m0 -1.88v-1.5m0 -2.81v-1.5m0 -8.49v-1.5M1553.16 358.8v-5.93m0 -0.69v-1.5m0 -1.6v-1.5m0 -2.49v-1.5m0 -4.37v-1.5M1554.33 358.8v-8.03m0 -1.22v-1.5m0 -2.83v-1.5m0 -1.44v-1.5M1555.48 358.8v-6.96m0 -1.1v-1.5m0 -2.05v-1.5m0 -1.99v-1.5m0 -0.81v-1.5m0 -1.53v-1.5m0 -10.94v-1.5M1556.58 358.8v-6.39m0 -2.72v-1.5m0 -1.77v-1.5m0 -2.74v-1.5m0 -3.98v-1.5m0 -4.11v-1.5M1557.63 358.8v-5.76m0 -1.13v-1.5m0 -2.07v-1.5m0 -2.8v-1.5m0 -2.71v-1.5m0 -3.97v-1.5M1558.7 358.8v-5.06m0 -1.06v-1.5m0 -1.28v-1.5m0 -0.96v-1.5m0 -2.28v-1.5m0 -1.3v-1.5m0 -6.17v-1.5m0 -5.02v-1.5m0 -5.99v-1.5m0 -5.3v-1.5M1559.78 358.8v-5.38m0 -1.45v-1.5m0 -0.88v-1.5m0 -0.94v-1.5m0 -2.69v-1.5m0 -0.76v-1.5m0 -1.29v-1.5m0 -2.61v-1.5m0 -0.85v-1.5m0 -4.43v-1.5M1560.88 358.8v-5.78m0 -0.94v-1.5m0 -1.94v-1.5m0 -2.41v-1.5m0 -1.92v-1.5m0 -1.81v-1.5m0 -1.65v-1.5m0 -1.24v-1.5m0 -2.9v-1.5M1562.13 358.8v-5.75m0 -1.22v-1.5m0 -1.02v-1.5m0 -2.69v-1.5m0 -1.81v-1.5m0 -2.11v-1.5m0 -8.23v-1.5m0 -9.67v-1.5M1563.22 358.8v-12.29m0 -0.76v-1.5m0 -2.6v-1.5m0 -0.67v-1.5m0 -2.41v-1.5m0 -2.1v-1.5m0 -2.74v-1.5M1564.33 358.8v-26.91m0 -2v-1.5m0 -1.71v-1.5m0 -2.79v-1.5m0 -4.36v-1.5M1565.43 358.8v-5.87m0 -1.14v-1.5m0 -2.5v-1.5m0 -1.58v-1.5m0 -2.06v-1.5M1566.57 358.8v-5.28m0 -0.97v-1.5m0 -2.73v-1.5M1567.81 358.8v-5.63m0 -2.4v-1.5M1683.41 358.8v-48.55m0 -1.01v-1.5m0 -1.56v-1.5m0 -2.62v-1.5m0 -4.32v-1.5m0 -8.73v-1.5m0 -4.96v-1.5M1684.64 358.8v-25.39m0 -1.52v-1.5m0 -1.14v-1.5m0 -1.13v-1.5m0 -2.88v-1.5m0 -2.79v-1.5m0 -1.72v-1.5m0 -4.98v-1.5M1685.8 358.8v-59.38m0 -0.78v-1.5m0 -1.42v-1.5m0 -1.69v-1.5m0 -2.55v-1.5m0 -5.12v-1.5m0 -11.52v-1.5m0 -9.59v-1.5M1686.88 358.8v-22.89m0 -1.39v-1.5m0 -1.36v-1.5m0 -2.19v-1.5m0 -1.76v-1.5m0 -1.29v-1.5m0 -1.85v-1.5m0 -2.1v-1.5m0 -1.37v-1.5m0 -10.06v-1.5M1688.01 358.8v-4.71m0 -2.26v-1.5m0 -1.06v-1.5m0 -0.99v-1.5m0 -1.8v-1.5m0 -1.05v-1.5m0 -0.95v-1.5m0 -2v-1.5m0 -11.44v-1.5m0 -3.01v-1.5m0 -6.57v-1.5M1689.01 358.8v-5.97m0 -0.75v-1.5m0 -2.24v-1.5m0 -1.81v-1.5m0 -1.96v-1.5m0 -2.17v-1.5m0 -2.71v-1.5m0 -6.48v-1.5M1690.19 358.8v-4.57m0 -1.5v-1.5m0 -2.7v-1.5m0 -2.86v-1.5m0 -6.83v-1.5m0 -5.04v-1.5M1691.37 358.8v-4.6m0 -2.55v-1.5m0 -1.81v-1.5m0 -1.63v-1.5m0 -2.7v-1.5m0 -2.35v-1.5m0 -0.7v-1.5m0 -2.84v-1.5m0 -1.69v-1.5m0 -4.15v-1.5m0 -10.84v-1.5M1692.47 358.8v-26.54m0 -2.88v-1.5m0 -1.93v-1.5m0 -0.79v-1.5m0 -1.87v-1.5m0 -0.71v-1.5m0 -2.87v-1.5m0 -2.17v-1.5m0 -5.98v-1.5m0 -9.83v-1.5m0 -9.78v-1.5M1693.68 358.8v-6.42m0 -2.67v-1.5m0 -1.44v-1.5m0 -1.54v-1.5m0 -1.57v-1.5m0 -5.04v-1.5M1694.87 358.8v-5.21m0 -0.87v-1.5m0 -0.83v-1.5m0 -1v-1.5m0 -1.78v-1.5m0 -2.08v-1.5m0 -2.91v-1.5m0 -10.76v-1.5m0 -9.27v-1.5M1695.96 358.8v-4.82m0 -2.39v-1.5m0 -2.31v-1.5m0 -0.94v-1.5m0 -2.48v-1.5m0 -3.36v-1.5m0 -5.41v-1.5m0 -11.44v-1.5M1696.98 358.8v-8.87m0 -2.46v-1.5m0 -1.5v-1.5m0 -0.81v-1.5m0 -0.91v-1.5m0 -0.95v-1.5m0 -2.09v-1.5m0 -2.11v-1.5m0 -2.57v-1.5m0 -5.2v-1.5m0 -9.49v-1.5m0 -4.95v-1.5m0 -5.38v-1.5M1698.01 358.8v-5.54m0 -1.2v-1.5m0 -2.64v-1.5m0 -2.63v-1.5m0 -1.03v-1.5m0 -5.59v-1.5m0 -7.18v-1.5m0 -3.11v-1.5m0 -5.9v-1.5M1699.06 358.8v-4.76m0 -1.27v-1.5m0 -2.21v-1.5m0 -0.96v-1.5m0 -2.89v-1.5m0 -0.93v-1.5m0 -1.86v-1.5M1700.13 358.8v-8.91m0 -1.86v-1.5m0 -1.16v-1.5m0 -1.61v-1.5m0 -2.03v-1.5m0 -1.86v-1.5m0 -2.43v-1.5m0 -1.88v-1.5m0 -6.01v-1.5m0 -7.22v-1.5M1701.24 358.8v-5.96m0 -2.27v-1.5m0 -1.63v-1.5m0 -9.34v-1.5M1702.48 358.8v-17.35m0 -2.74v-1.5m0 -2.31v-1.5m0 -1.16v-1.5m0 -2.26v-1.5m0 -7.13v-1.5M1703.55 358.8v-10.1m0 -2.59v-1.5m0 -2.03v-1.5m0 -2.57v-1.5m0 -8.84v-1.5m0 -7.39v-1.5M1704.77 358.8v-8.86m0 -1.74v-1.5m0 -0.71v-1.5m0 -1v-1.5m0 -8.74v-1.5M1705.94 358.8v-7.97m0 -2.46v-1.5m0 -1.16v-1.5m0 -0.8v-1.5m0 -1.5v-1.5m0 -1.68v-1.5m0 -1.14v-1.5m0 -2.82v-1.5m0 -4.62v-1.5m0 -3.62v-1.5M1707.15 358.8v-22.45m0 -1.28v-1.5m0 -2.14v-1.5m0 -0.98v-1.5m0 -8.4v-1.5M1708.25 358.8v-52.38m0 -2.8v-1.5m0 -1.9v-1.5m0 -1.02v-1.5m0 -1.5v-1.5m0 -2.41v-1.5m0 -3.71v-1.5m0 -8.59v-1.5m0 -5.46v-1.5M1709.26 358.8v-23.89m0 -1.88v-1.5m0 -2.81v-1.5m0 -1.88v-1.5m0 -9.3v-1.5M1710.45 358.8v-5.2m0 -2.01v-1.5m0 -1.34v-1.5m0 -4.95v-1.5m0 -5.52v-1.5m0 -2.78v-1.5M1711.51 358.8v-5.97m0 -2.24v-1.5m0 -1.83v-1.5m0 -2.28v-1.5m0 -6.57v-1.5m0 -2.93v-1.5M1712.55 358.8v-5.59m0 -2.43v-1.5m0 -2.53v-1.5m0 -0.77v-1.5m0 -2.92v-1.5m0 -1.99v-1.5m0 -7.93v-1.5M1713.75 358.8v-5.62m0 -2.02v-1.5m0 -2.83v-1.5m0 -1.14v-1.5M1714.92 358.8v-5.24m0 -1.53v-1.5m0 -1.63v-1.5m0 -1.08v-1.5m0 -2v-1.5m0 -2.18v-1.5M1715.97 358.8v-5.93m0 -2.24v-1.5m0 -1.3v-1.5m0 -1.88v-1.5m0 -0.85v-1.5m0 -1.94v-1.5m0 -1.35v-1.5m0 -7.42v-1.5m0 -9.38v-1.5m0 -3.06v-1.5M1717.04 358.8v-34.48m0 -0.75v-1.5m0 -1.75v-1.5m0 -4.9v-1.5m0 -3.23v-1.5M1718.28 358.8v-34.4m0 -1.47v-1.5m0 -0.8v-1.5m0 -2.59v-1.5m0 -3.5v-1.5m0 -9.62v-1.5m0 -7.35v-1.5M1719.34 358.8v-34.68m0 -2.38v-1.5m0 -2.26v-1.5m0 -3.75v-1.5M1720.52 358.8v-15.84m0 -1.06v-1.5m0 -1.31v-1.5m0 -2.85v-1.5m0 -10v-1.5M1721.55 358.8v-4.96m0 -2.69v-1.5m0 -0.75v-1.5m0 -2.45v-1.5m0 -2.83v-1.5m0 -0.86v-1.5M1722.75 358.8v-5.28m0 -1.25v-1.5m0 -1.53v-1.5m0 -1.53v-1.5m0 -1.55v-1.5m0 -0.69v-1.5m0 -1.28v-1.5M1723.78 358.8v-5.94m0 -2.1v-1.5m0 -2.68v-1.5m0 -1.92v-1.5m0 -1.37v-1.5m0 -2.87v-1.5m0 -9.16v-1.5M1724.91 358.8v-5.82m0 -2.03v-1.5m0 -1.36v-1.5m0 -9.89v-1.5M1725.92 358.8v-7.12m0 -0.88v-1.5m0 -2.43v-1.5m0 -2.78v-1.5M1727.06 358.8v-10.47m0 -1.57v-1.5m0 -2.38v-1.5m0 -1.85v-1.5m0 -3.71v-1.5M1728.27 358.8v-4.84m0 -0.71v-1.5m0 -0.83v-1.5m0 -1.51v-1.5m0 -0.92v-1.5m0 -2.85v-1.5m0 -2.12v-1.5m0 -5.37v-1.5M1729.29 358.8v-5.07m0 -2.24v-1.5m0 -1.08v-1.5m0 -6.84v-1.5m0 -9.04v-1.5M1730.36 358.8v-7.25m0 -1.71v-1.5m0 -2.87v-1.5m0 -7.63v-1.5M1731.55 358.8v-13.68m0 -1.47v-1.5m0 -2.7v-1.5m0 -3.34v-1.5m0 -6.96v-1.5M1732.7 358.8v-15.47m0 -0.95v-1.5m0 -0.72v-1.5m0 -1.07v-1.5m0 -2.76v-1.5m0 -2.63v-1.5m0 -2.47v-1.5m0 -6.17v-1.5m0 -6.92v-1.5M1733.78 358.8v-10.79m0 -1.97v-1.5m0 -0.98v-1.5m0 -2.78v-1.5m0 -0.77v-1.5m0 -2.86v-1.5M1734.94 358.8v-5.26m0 -2.87v-1.5m0 -1.74v-1.5M1736.05 358.8v-4.84m0 -1.73v-1.5m0 -0.72v-1.5m0 -1.53v-1.5m0 -1.46v-1.5m0 -0.95v-1.5m0 -2.54v-1.5m0 -5.06v-1.5m0 -3.7v-1.5m0 -3.56v-1.5m0 -2.72v-1.5M1737.27 358.8v-4.94m0 -2.84v-1.5m0 -1.52v-1.5m0 -1.74v-1.5m0 -2.22v-1.5m0 -11.02v-1.5M1738.34 358.8v-5.93m0 -2.52v-1.5m0 -1.41v-1.5m0 -2.48v-1.5m0 -2.81v-1.5m0 -2.34v-1.5M1739.53 358.8v-24.79m0 -0.84v-1.5m0 -1.14v-1.5m0 -0.94v-1.5m0 -1.72v-1.5m0 -0.81v-1.5m0 -1.91v-1.5m0 -2.75v-1.5m0 -11.5v-1.5m0 -2.84v-1.5M1740.69 358.8v-48.2m0 -0.9v-1.5m0 -1.39v-1.5m0 -0.68v-1.5m0 -8.57v-1.5m0 -4.39v-1.5m0 -9.1v-1.5M1741.88 358.8v-15.79m0 -1.37v-1.5m0 -2.66v-1.5m0 -2.27v-1.5m0 -0.69v-1.5m0 -5.23v-1.5m0 -9.11v-1.5M1742.97 358.8v-5.44m0 -2.49v-1.5m0 -2.01v-1.5m0 -2.49v-1.5m0 -1.72v-1.5m0 -1.59v-1.5m0 -2.25v-1.5m0 -6.77v-1.5m0 -5.35v-1.5m0 -4.93v-1.5m0 -6.51v-1.5M1744.15 358.8v-5.62m0 -2.57v-1.5m0 -1.48v-1.5m0 -1.5v-1.5m0 -2.55v-1.5m0 -1.07v-1.5m0 -2.25v-1.5m0 -7.31v-1.5m0 -8.61v-1.5m0 -8.89v-1.5M1745.33 358.8v-33.76m0 -2.69v-1.5m0 -1.8v-1.5m0 -2.15v-1.5m0 -3.33v-1.5M1746.42 358.8v-53.35m0 -0.88v-1.5m0 -2.83v-1.5m0 -2.58v-1.5m0 -1.07v-1.5m0 -2.52v-1.5m0 -9.95v-1.5m0 -4.16v-1.5m0 -9.88v-1.5M1747.43 358.8v-15.12m0 -2.05v-1.5m0 -1.82v-1.5m0 -0.89v-1.5m0 -2.46v-1.5m0 -5.4v-1.5M1748.67 358.8v-6.2m0 -2.12v-1.5m0 -2.44v-1.5m0 -1.43v-1.5m0 -1.63v-1.5m0 -1.23v-1.5m0 -1.23v-1.5m0 -1.6v-1.5M1749.85 358.8v-5.13m0 -1.32v-1.5m0 -0.75v-1.5m0 -2.72v-1.5m0 -0.81v-1.5m0 -1.89v-1.5m0 -2.18v-1.5m0 -4.37v-1.5m0 -11.48v-1.5m0 -11.49v-1.5M1750.9 358.8v-17.77m0 -2.03v-1.5m0 -2.06v-1.5m0 -2.82v-1.5m0 -9.54v-1.5m0 -5.37v-1.5M1752.08 358.8v-37.58m0 -0.69v-1.5m0 -2.73v-1.5m0 -1.29v-1.5m0 -2.52v-1.5m0 -2.04v-1.5m0 -9.32v-1.5m0 -9.27v-1.5m0 -10.8v-1.5M1753.15 358.8v-5.77m0 -1.29v-1.5m0 -1.42v-1.5m0 -1.7v-1.5m0 -1.62v-1.5m0 -1.32v-1.5m0 -1.35v-1.5m0 -1.37v-1.5m0 -1.1v-1.5m0 -7.84v-1.5m0 -3.35v-1.5M1754.27 358.8v-4.72m0 -0.89v-1.5m0 -2.51v-1.5m0 -1.65v-1.5m0 -9.87v-1.5m0 -5.44v-1.5m0 -5.68v-1.5M1755.48 358.8v-4.5m0 -2.72v-1.5m0 -2.15v-1.5m0 -9.51v-1.5m0 -4.42v-1.5m0 -10.68v-1.5m0 -7.41v-1.5M1756.6 358.8v-5.6m0 -2.85v-1.5m0 -1.61v-1.5m0 -2.29v-1.5m0 -8.9v-1.5M1757.67 358.8v-26.6m0 -2.34v-1.5m0 -1.61v-1.5m0 -1.8v-1.5m0 -1.08v-1.5m0 -2.86v-1.5m0 -3.21v-1.5m0 -9.07v-1.5M1758.74 358.8v-32.26m0 -1.28v-1.5m0 -1.43v-1.5m0 -2.11v-1.5m0 -1.99v-1.5m0 -2.27v-1.5m0 -10.39v-1.5m0 -2.68v-1.5m0 -7.64v-1.5m0 -6.18v-1.5M1759.76 358.8v-43.69m0 -1.37v-1.5m0 -1.67v-1.5m0 -1.43v-1.5m0 -1.52v-1.5m0 -2.13v-1.5m0 -1.42v-1.5m0 -10.3v-1.5M1760.82 358.8v-5.68m0 -2.03v-1.5m0 -2.84v-1.5m0 -0.68v-1.5m0 -2.82v-1.5m0 -1.11v-1.5m0 -10.73v-1.5m0 -2.9v-1.5M1761.89 358.8v-5.36m0 -1.54v-1.5m0 -1.02v-1.5m0 -0.98v-1.5m0 -2.07v-1.5m0 -1.44v-1.5m0 -0.73v-1.5m0 -1.05v-1.5m0 -1.05v-1.5m0 -4.27v-1.5m0 -6.66v-1.5m0 -10.85v-1.5M1762.93 358.8v-27.91m0 -2.61v-1.5m0 -2.9v-1.5m0 -2.27v-1.5m0 -2.03v-1.5m0 -2.83v-1.5m0 -0.96v-1.5M1763.95 358.8v-12.61m0 -0.85v-1.5m0 -0.98v-1.5m0 -2.19v-1.5m0 -1.37v-1.5m0 -2.8v-1.5m0 -0.94v-1.5m0 -2.5v-1.5m0 -6.88v-1.5m0 -5.2v-1.5m0 -4.84v-1.5m0 -5.74v-1.5M1765.06 358.8v-5.76m0 -1.61v-1.5m0 -2.07v-1.5m0 -2.25v-1.5m0 -5.54v-1.5M1766.12 358.8v-4.77m0 -1.26v-1.5m0 -0.8v-1.5m0 -2.08v-1.5m0 -1.96v-1.5m0 -2.71v-1.5M1767.3 358.8v-14.37m0 -1.86v-1.5m0 -1.06v-1.5m0 -2.42v-1.5m0 -2.82v-1.5m0 -0.8v-1.5m0 -1.8v-1.5m0 -4.58v-1.5m0 -10.79v-1.5M1768.53 358.8v-16.95m0 -2.22v-1.5m0 -2.38v-1.5m0 -0.79v-1.5m0 -1.75v-1.5m0 -0.95v-1.5m0 -0.95v-1.5m0 -1.03v-1.5m0 -3.86v-1.5M1769.6 358.8v-6.42m0 -0.79v-1.5m0 -1.15v-1.5m0 -2.08v-1.5m0 -2.23v-1.5m0 -2.05v-1.5M1770.74 358.8v-5.21m0 -2.37v-1.5m0 -1.23v-1.5m0 -2.61v-1.5m0 -1.22v-1.5m0 -2.9v-1.5m0 -0.7v-1.5m0 -2.46v-1.5m0 -7.09v-1.5m0 -9.98v-1.5M1771.87 358.8v-30.53m0 -2.81v-1.5m0 -0.93v-1.5m0 -2.75v-1.5m0 -1.84v-1.5m0 -2.26v-1.5m0 -2.17v-1.5m0 -6.09v-1.5m0 -7.33v-1.5M1772.89 358.8v-10.76m0 -1.96v-1.5m0 -2.22v-1.5m0 -1.56v-1.5m0 -0.85v-1.5m0 -9.76v-1.5m0 -9.4v-1.5M1773.92 358.8v-15.63m0 -2.54v-1.5m0 -2.51v-1.5m0 -4.91v-1.5m0 -8.23v-1.5M1775.14 358.8v-7.47m0 -2.91v-1.5m0 -1.73v-1.5m0 -1.49v-1.5m0 -8.26v-1.5M1776.26 358.8v-5.29m0 -2.35v-1.5m0 -1.04v-1.5m0 -2.13v-1.5m0 -6.33v-1.5M1777.46 358.8v-5.52m0 -1.15v-1.5m0 -0.84v-1.5m0 -2.38v-1.5m0 -0.79v-1.5m0 -2.8v-1.5m0 -8.83v-1.5m0 -6.38v-1.5M1778.48 358.8v-5.68m0 -0.67v-1.5m0 -2.78v-1.5m0 -5.35v-1.5m0 -6.14v-1.5M1779.62 358.8v-5.77m0 -0.74v-1.5m0 -2.15v-1.5m0 -1.81v-1.5m0 -2.66v-1.5m0 -0.71v-1.5m0 -5.45v-1.5M1780.84 358.8v-5.58m0 -2.71v-1.5m0 -0.99v-1.5m0 -7.14v-1.5M1782.06 358.8v-4.91m0 -2.71v-1.5m0 -2.04v-1.5m0 -10.72v-1.5m0 -2.96v-1.5M1783.06 358.8v-5.03m0 -2.34v-1.5m0 -1.98v-1.5m0 -2v-1.5M1784.19 358.8v-6.48m0 -2.64v-1.5m0 -1.65v-1.5m0 -1.8v-1.5m0 -5.18v-1.5M1785.28 358.8v-10.98m0 -0.69v-1.5m0 -1.33v-1.5m0 -11.2v-1.5m0 -5.34v-1.5M1786.47 358.8v-4.84m0 -1.04v-1.5m0 -1.55v-1.5m0 -1.51v-1.5m0 -2.68v-1.5m0 -1.88v-1.5m0 -10.98v-1.5M1787.49 358.8v-4.89m0 -1.9v-1.5m0 -2.2v-1.5m0 -2.58v-1.5m0 -2.51v-1.5m0 -5.37v-1.5M1788.56 358.8v-10.98m0 -2.58v-1.5m0 -2.24v-1.5m0 -3.84v-1.5m0 -4.79v-1.5M1888.92 358.8v-3.13m0 -0.87v-1.5M1890.03 358.8v-3.41m0 -1.58v-1.5M1891.18 358.8v-2.6M1892.42 358.8v-2.84m0 -2.31v-1.5M1893.45 358.8v-3.66m0 -1.61v-1.5M1894.63 358.8v-3M1895.75 358.8v-3.5m0 -2.03v-1.5M1896.78 358.8v-3.8m0 -1.36v-1.5M1898.03 358.8v-3.96m0 -1.72v-1.5M1899.2 358.8v-3.94m0 -2.42v-1.5M1900.23 358.8v-3.19m0 -0.68v-1.5M1901.46 358.8v-2.84m0 -1.83v-1.5M1902.48 358.8v-3.79m0 -1.73v-1.5m0 -3.85v-1.5M1903.51 358.8v-8.73m0 -2.78v-1.5M1904.59 358.8v-6.49m0 -2.46v-1.5M1905.82 358.8v-4.79m0 -2.57v-1.5M1906.83 358.8v-5.12m0 -1.3v-1.5m0 -1.13v-1.5m0 -2.89v-1.5M1908.06 358.8v-5.77m0 -2.54v-1.5M1909.21 358.8v-5.47m0 -1.37v-1.5m0 -1.79v-1.5m0 -5.68v-1.5M1910.23 358.8v-5.22m0 -1.98v-1.5m0 -2.27v-1.5M1911.37 358.8v-4.86m0 -2.01v-1.5m0 -4.98v-1.5M1912.49 358.8v-5.7m0 -1.2v-1.5m0 -1.38v-1.5m0 -6.74v-1.5M1913.63 358.8v-14.02m0 -1.69v-1.5m0 -2.91v-1.5m0 -1.97v-1.5M1914.81 358.8v-5.72m0 -0.75v-1.5m0 -2.02v-1.5m0 -1.06v-1.5m0 -2.79v-1.5m0 -1.1v-1.5M1915.98 358.8v-5m0 -1.54v-1.5m0 -2.35v-1.5m0 -1.09v-1.5m0 -1.46v-1.5m0 -0.8v-1.5m0 -1.63v-1.5m0 -1.1v-1.5m0 -2.74v-1.5m0 -6.63v-1.5m0 -4.54v-1.5M1917.23 358.8v-4.53m0 -2.28v-1.5m0 -0.9v-1.5m0 -2.56v-1.5M1918.27 358.8v-5.49m0 -2.01v-1.5m0 -2.79v-1.5m0 -1.33v-1.5m0 -2.03v-1.5m0 -2.05v-1.5m0 -1.09v-1.5m0 -2.02v-1.5m0 -2.3v-1.5m0 -2.48v-1.5M1919.47 358.8v-4.79m0 -2.39v-1.5m0 -1.01v-1.5m0 -1.51v-1.5m0 -6.22v-1.5m0 -8.88v-1.5m0 -8.14v-1.5m0 -9.96v-1.5M1920.58 358.8v-34.58m0 -2.57v-1.5m0 -1.37v-1.5m0 -2.17v-1.5m0 -0.79v-1.5m0 -2.73v-1.5m0 -3.53v-1.5m0 -6.27v-1.5m0 -6.07v-1.5m0 -5.28v-1.5m0 -7.41v-1.5M1921.77 358.8v-7.5m0 -2.29v-1.5m0 -1.11v-1.5m0 -1.14v-1.5m0 -0.69v-1.5m0 -0.88v-1.5m0 -2.43v-1.5m0 -0.79v-1.5m0 -1.27v-1.5m0 -1.53v-1.5m0 -1.02v-1.5m0 -5.61v-1.5m0 -4.81v-1.5m0 -6.25v-1.5m0 -4.14v-1.5m0 -2.73v-1.5m0 -10.83v-1.5M1923 358.8v-7.99m0 -2.54v-1.5m0 -1.59v-1.5m0 -1.32v-1.5m0 -2.45v-1.5m0 -0.71v-1.5m0 -1.95v-1.5m0 -2.62v-1.5m0 -10.86v-1.5M1924.24 358.8v-4.95m0 -1.27v-1.5m0 -1.97v-1.5m0 -2.3v-1.5m0 -2.87v-1.5M1925.31 358.8v-5.56m0 -1.79v-1.5m0 -1.19v-1.5m0 -1.8v-1.5m0 -1.76v-1.5M1926.42 358.8v-40.03m0 -0.89v-1.5m0 -0.98v-1.5m0 -1.21v-1.5m0 -1.64v-1.5m0 -7.59v-1.5m0 -9.33v-1.5M1927.66 358.8v-47.18m0 -2.42v-1.5m0 -1.41v-1.5m0 -2.31v-1.5m0 -8.78v-1.5m0 -2.68v-1.5m0 -10.49v-1.5m0 -2.9v-1.5M1928.9 358.8v-4.77m0 -2.04v-1.5m0 -2.4v-1.5m0 -2v-1.5m0 -10.18v-1.5m0 -6v-1.5M1929.99 358.8v-4.8m0 -2.62v-1.5m0 -0.7v-1.5m0 -2.59v-1.5m0 -0.86v-1.5m0 -2.24v-1.5m0 -3.43v-1.5m0 -9.65v-1.5m0 -4.54v-1.5m0 -3.14v-1.5m0 -10.48v-1.5M1931.22 358.8v-4.64m0 -0.88v-1.5m0 -2.28v-1.5m0 -2.57v-1.5m0 -1.07v-1.5m0 -2.66v-1.5m0 -0.73v-1.5m0 -2.4v-1.5m0 -2.08v-1.5m0 -6.03v-1.5m0 -6v-1.5m0 -5.32v-1.5m0 -6.86v-1.5M1932.33 358.8v-5.13m0 -1.1v-1.5m0 -0.89v-1.5m0 -1.23v-1.5m0 -0.99v-1.5M1933.42 358.8v-14.24m0 -2.15v-1.5m0 -2.81v-1.5m0 -2.37v-1.5m0 -2.39v-1.5m0 -6.33v-1.5m0 -6.88v-1.5M1934.61 358.8v-38.5m0 -1.43v-1.5m0 -1.73v-1.5m0 -0.75v-1.5m0 -2.2v-1.5m0 -4.03v-1.5m0 -4.87v-1.5m0 -4.56v-1.5M1935.73 358.8v-35.46m0 -2.74v-1.5m0 -2.21v-1.5m0 -1.18v-1.5m0 -1.4v-1.5m0 -5.83v-1.5m0 -4.36v-1.5m0 -6.78v-1.5m0 -9.75v-1.5M1936.84 358.8v-12.05m0 -1.73v-1.5m0 -0.99v-1.5m0 -2.31v-1.5m0 -7.44v-1.5m0 -9.91v-1.5M1937.94 358.8v-5.28m0 -2.02v-1.5m0 -2.42v-1.5m0 -1.16v-1.5m0 -1.98v-1.5m0 -1.27v-1.5m0 -2.36v-1.5m0 -3.23v-1.5M1939.04 358.8v-4.68m0 -1.37v-1.5m0 -1.64v-1.5m0 -1.19v-1.5m0 -0.98v-1.5m0 -2.85v-1.5m0 -1.14v-1.5m0 -2.35v-1.5m0 -9.08v-1.5m0 -9.24v-1.5M1940.08 358.8v-8.18m0 -1.54v-1.5m0 -1.16v-1.5m0 -1.81v-1.5m0 -4.24v-1.5m0 -5.68v-1.5M1941.09 358.8v-13.05m0 -1.02v-1.5m0 -0.99v-1.5m0 -2.84v-1.5m0 -10.45v-1.5M1942.28 358.8v-5.71m0 -1.21v-1.5m0 -0.92v-1.5m0 -1.86v-1.5m0 -1.65v-1.5m0 -1.06v-1.5m0 -3.41v-1.5m0 -7.76v-1.5M1943.42 358.8v-8.04m0 -2.15v-1.5m0 -1.83v-1.5m0 -4.57v-1.5M1944.59 358.8v-14.38m0 -0.87v-1.5m0 -1.97v-1.5m0 -6.56v-1.5M1945.79 358.8v-5.65m0 -0.79v-1.5m0 -1.93v-1.5m0 -1.31v-1.5m0 -6.06v-1.5M1946.85 358.8v-4.98m0 -2.87v-1.5m0 -2.62v-1.5m0 -1.62v-1.5m0 -1.86v-1.5m0 -6.7v-1.5M1947.91 358.8v-5.11m0 -0.92v-1.5m0 -2.79v-1.5m0 -2.72v-1.5m0 -2.1v-1.5m0 -1.86v-1.5m0 -1.97v-1.5M1948.98 358.8v-27.69m0 -2.23v-1.5m0 -2.19v-1.5m0 -2.18v-1.5m0 -2.41v-1.5m0 -2.5v-1.5m0 -8.76v-1.5M1950.05 358.8v-5.65m0 -1.76v-1.5m0 -0.67v-1.5m0 -2.01v-1.5M1951.24 358.8v-5.6m0 -1.06v-1.5m0 -1.83v-1.5m0 -2.26v-1.5m0 -2.11v-1.5m0 -1.47v-1.5m0 -0.75v-1.5m0 -10.69v-1.5m0 -9.63v-1.5M1952.34 358.8v-5.95m0 -2.14v-1.5m0 -2.17v-1.5m0 -0.74v-1.5m0 -3.48v-1.5M1953.42 358.8v-8.66m0 -1.07v-1.5m0 -1.97v-1.5m0 -1.45v-1.5m0 -1.87v-1.5m0 -1.11v-1.5m0 -1.53v-1.5m0 -6.73v-1.5M1954.58 358.8v-4.75m0 -2.86v-1.5m0 -1.21v-1.5m0 -3.5v-1.5m0 -4.99v-1.5M1955.62 358.8v-11.48m0 -1.59v-1.5m0 -1.92v-1.5m0 -2.86v-1.5m0 -10.63v-1.5M1956.65 358.8v-5.55m0 -1.93v-1.5m0 -1.73v-1.5m0 -2.29v-1.5M1957.82 358.8v-7.73m0 -2.72v-1.5m0 -1.97v-1.5m0 -2.82v-1.5m0 -0.8v-1.5M1959.01 358.8v-5.42m0 -0.94v-1.5m0 -1.35v-1.5m0 -6.9v-1.5m0 -7.62v-1.5M1960.09 358.8v-15.92m0 -2.29v-1.5m0 -2.76v-1.5m0 -11.43v-1.5m0 -4.18v-1.5M1961.25 358.8v-5.24m0 -0.99v-1.5m0 -1.97v-1.5m0 -2.7v-1.5m0 -1.61v-1.5m0 -2.81v-1.5m0 -8.97v-1.5m0 -2.67v-1.5M1962.26 358.8v-19.81m0 -2.78v-1.5m0 -0.97v-1.5m0 -1.34v-1.5m0 -2.92v-1.5M1963.36 358.8v-31.48m0 -0.77v-1.5m0 -1.63v-1.5m0 -1.67v-1.5m0 -2.77v-1.5m0 -1.4v-1.5m0 -8.31v-1.5m0 -6.97v-1.5M1964.5 358.8v-5.37m0 -1.44v-1.5m0 -1.61v-1.5m0 -2.59v-1.5m0 -1.49v-1.5m0 -2.75v-1.5m0 -1.66v-1.5m0 -11.15v-1.5m0 -3.88v-1.5m0 -9.69v-1.5m0 -6.58v-1.5m0 -4.58v-1.5M1965.56 358.8v-5.57m0 -1.85v-1.5m0 -1.43v-1.5m0 -0.99v-1.5m0 -3.97v-1.5M1966.65 358.8v-7.6m0 -1.63v-1.5m0 -2.65v-1.5m0 -2.61v-1.5m0 -2.77v-1.5m0 -4.56v-1.5M1967.8 358.8v-8.19m0 -1.64v-1.5m0 -2.75v-1.5m0 -2.5v-1.5m0 -2.77v-1.5m0 -1.78v-1.5m0 -1.1v-1.5m0 -7.44v-1.5m0 -3.54v-1.5m0 -3.57v-1.5m0 -3.33v-1.5M1968.95 358.8v-9.41m0 -2.18v-1.5m0 -0.72v-1.5m0 -2.6v-1.5M1969.99 358.8v-19.33m0 -1.92v-1.5m0 -2.26v-1.5m0 -2.7v-1.5m0 -0.85v-1.5m0 -2.56v-1.5m0 -2.6v-1.5M1971.17 358.8v-7.42m0 -2.34v-1.5m0 -1.91v-1.5m0 -1.96v-1.5m0 -9v-1.5M1972.19 358.8v-6.38m0 -2.47v-1.5m0 -3.71v-1.5M1973.43 358.8v-7.56m0 -2.72v-1.5m0 -1.55v-1.5m0 -1.99v-1.5m0 -2.43v-1.5M1974.48 358.8v-5.65m0 -2.11v-1.5m0 -2.15v-1.5m0 -2.23v-1.5m0 -1.45v-1.5m0 -2.61v-1.5m0 -7.93v-1.5M1975.54 358.8v-5.64m0 -1.38v-1.5m0 -2.59v-1.5m0 -1.39v-1.5M1976.59 358.8v-5.78m0 -1.94v-1.5m0 -2.78v-1.5m0 -0.94v-1.5m0 -0.77v-1.5m0 -0.7v-1.5m0 -2.64v-1.5m0 -6.87v-1.5M1977.84 358.8v-5.53m0 -1.75v-1.5m0 -1.07v-1.5m0 -1.53v-1.5m0 -1.55v-1.5m0 -1.48v-1.5m0 -9.05v-1.5m0 -10.17v-1.5M1978.91 358.8v-5.32m0 -2.32v-1.5m0 -2.43v-1.5m0 -2.7v-1.5M1980.06 358.8v-4.92m0 -0.91v-1.5m0 -2.2v-1.5m0 -7.19v-1.5M1981.31 358.8v-12.45m0 -2.5v-1.5m0 -1.85v-1.5m0 -2.06v-1.5m0 -1.72v-1.5m0 -1.54v-1.5m0 -2.31v-1.5m0 -2.02v-1.5m0 -5.89v-1.5m0 -8.48v-1.5M1982.55 358.8v-5.05m0 -2.76v-1.5m0 -2.69v-1.5m0 -3.54v-1.5m0 -4.94v-1.5m0 -8.89v-1.5M1983.56 358.8v-5.73m0 -1.46v-1.5m0 -2.21v-1.5m0 -2.02v-1.5m0 -2.2v-1.5m0 -2.8v-1.5m0 -5.73v-1.5m0 -4.62v-1.5M1984.69 358.8v-6.65m0 -2.57v-1.5m0 -2.22v-1.5m0 -2.63v-1.5M1200.95 354.5v-6.94m0 -0.89v-2.75m0 -0.62v-3.92m0 -2.17v-3.08m0 -1.03v-6.45m0 -0.96v-3.17m0 -2.49v-5.87m0 -3.37v-2.18m0 -1.59v-4.25m0 -1.68v-4.45m0 -1.37v-2.06m0 -1.15M1202.05 354.5v-3.01m0 -1.55v-6.06m0 -1.43v-4.26m0 -1.77v-7.39m0 -1.35v-2.24m0 -1.13v-5.85m0 -1.31v-5.4m0 -1.11v-4.45m0 -1.69v-3.99m0 -1.81v-4.01m0 -3.27v-2.6m0 -2.22M1213.5 354.5v-2.25m0 -1.54v-2.7m0 -1.04v-7m0 -2.22v-6.23m0 -0.74v-7.24m0 -0.61v-2.18m0 -2.36v-6.35m0 -2.34v-5.72m0 -2.57v-2.32m0 -2.6v-4.69m0 -2.32v-4.22m0 -2.34M1219 354.5v-2.69m0 -1.69v-3.31m0 -0.84v-2.78m0 -1.14v-4.3m0 -0.93v-2.87m0 -1.56v-2.06m0 -1.76v-2.5m0 -0.87v-2.53m0 -3.01v-5.27m0 -3.87v-4.67m0 -2.47M1228 354.5v-4.63m0 -1.37v-5.91m0 -2.36v-3.87m0 -2.51v-6.84m0 -3.11v-4.71m0 -2.44v-5.77m0 -1.99v-4.48m0 -0.82M1249.45 354.5v-5.25m0 -1.88v-2.99m0 -2.4v-4.79m0 -0.9v-2.16m0 -1.79v-4.97m0 -4.28M1250.55 354.5v-7.04m0 -0.88v-7.36m0 -0.84v-4.1m0 -2.15v-3.61m0 -1.43v-3.88m0 -3.33v-3.75m0 -0.81v-3.19m0 -2.73v-0.6m0 -4.32M1276 354.5v-5.41m0 -1.67v-6.65m0 -1.39v-4.36m0 -1.51v-2.62m0 -0.71v-2.57m0 -0.83v-2.39m0 -1.58v-2.67m0 -3.37v-3.65m0 -0.52v-4.49m0 -3.03v-5.07m0 -1.46M1450.35 354.5v-7.11m0 -1.56v-6.65m0 -0.93v-7.38m0 -1.78v-2.35m0 -2.41v-2.33m0 -2.49v-4.81m0 -1.21v-2.4m0 -1v-4.09m0 -3.46M1451.45 354.5v-4.19m0 -0.63v-6.08m0 -1.86v-6.37m0 -1.46v-3.5m0 -2.08v-6.5m0 -1.05v-5.42m0 -2.64v-6.34m0 -1.68v-3.53m0 -0.65v-2.59m0 -3.1v-2.91m0 -3.91v-2.46m0 -3.69M1452.55 354.5v-4.44m0 -1.52v-4.82m0 -0.84v-3.26m0 -1v-2.7m0 -2.15v-7.18m0 -2.31v-2.02m0 -2.66v-5.84m0 -2.84v-4.75m0 -1.14v-3.2m0 -1.76v-2.69m0 -0.6v-5.41m0 -1.93v-3.93m0 -0.92v-1.81m0 -3.51M1453.65 354.5v-3.32m0 -1.64v-2.35m0 -0.54v-2.69m0 -0.79v-6.24m0 -2.47v-4.65m0 -1.42v-5.17m0 -2.7v-2.2m0 -1.22v-1.48m0 -2.76M1459.35 354.5v-5.54m0 -0.87v-5.64m0 -0.76v-7.66m0 -2.4v-4.48m0 -3.11v-5m0 -2.29v-4.51m0 -2.93v-5.3m0 -3.56M1460.45 354.5v-2.39m0 -1.78v-6.65m0 -1.6v-4.75m0 -2.64v-2.21m0 -0.89v-3.51m0 -3.29v-4.93m0 -2.47v-3.24m0 -1.07v-2.05m0 -1.04v-2.4m0 -2.54M1461.55 354.5v-4.48m0 -1.81v-7.92m0 -1.45v-2.98m0 -1.1v-2.15m0 -1.83v-4.11m0 -2.57v-3.62m0 -2.61v-3.89m0 -2.28v-3.59m0 -2.89v-2.92m0 -1.01v-2.2m0 -1.76v-4.71m0 -2.14v-4.8m0 -2.74v-2.15m0 -2.49M1462.65 354.5v-5.89m0 -0.82v-2.49m0 -0.7v-2.93m0 -1.84v-3.49m0 -1.24v-3.96m0 -3.25v-3.05m0 -1.49v-2.91m0 -1.63v-2.96m0 -3.75M1480 354.5v-8.56m0 -1.15v-7.22m0 -0.72v-4.63m0 -2.42v-2.45m0 -3.07v-3.83m0 -1.96v-5.95m0 -3.55v-2.73m0 -2.15v-4.33m0 -2.32M1488 354.5v-8.24m0 -0.85v-7.73m0 -1.91v-5.11m0 -2.34v-3.18m0 -1.84v-2.88m0 -3.16v-3.16m0 -1.03v-4.28m0 -1.88M1558.45 354.5v-5.01m0 -1.38v-7.05m0 -1.37v-7.64m0 -2.14v-6.86m0 -1.76v-2.65m0 -0.94v-2.7m0 -1.93v-6.32m0 -2.16v-3.76m0 -0.86v-3.44m0 -1.12v-3.64m0 -2.14v-5.07m0 -2.02v-1.94m0 -0.67M1559.55 354.5v-4.34m0 -1.46v-4.89m0 -0.62v-4.21m0 -1.46v-7.62m0 -0.99v-2.49m0 -2.18v-5.19m0 -1.37v-3.89m0 -1.38v-5.03m0 -3.04v-3.24m0 -3.38v-3.59m0 -2.18v-2.89m0 -0.81v-2.66m0 -1.44v-3.35m0 -2.44M1683.45 354.5v-4.17m0 -0.76v-2.48m0 -0.75v-5.76m0 -2.36v-5.72m0 -1.34v-4.74m0 -0.87v-2.37m0 -0.69v-4.38m0 -2.4v-2.57m0 -3.81v-2.45m0 -2.47v-0.11m0 -0.63M1684.55 354.5v-3.83m0 -1.2v-6.4m0 -1.59v-6.01m0 -0.64v-2.33m0 -2.23v-2.81m0 -1.3v-6.41m0 -0.61v-6.17m0 -2.31v-3.71m0 -1.22v-4.16m0 -3.14v-2.76m0 -1.35v-3.76m0 -3.44v-3.31m0 -2.1v-0.92m0 -2.64M1692 354.5v-7.29m0 -1.53v-5.37m0 -1.3v-5.74m0 -2.31v-2.75m0 -1.15v-3.04m0 -2.61v-3.48m0 -1.79v-4.18m0 -3.53v-2.01m0 -1.13v-5.07m0 -2.19v-3.13m0 -4.23M1704 354.5v-2.71m0 -0.52v-7.82m0 -2.01v-5.05m0 -1.09v-6.05m0 -0.91v-3.99m0 -0.99v-3.75m0 -0.52v-3.82m0 -2.03v-5.46m0 -1.93v-2.04m0 -1.1M1748 354.5v-3.89m0 -0.82v-8.2m0 -0.74v-5.69m0 -2.32v-6.88m0 -2.36v-2.82m0 -3.17v-4.12m0 -2.22v-5.28m0 -0.56v-4.35m0 -3.46M1752 354.5v-6.52m0 -0.78v-7.76m0 -0.94v-3.87m0 -2.2v-6.99m0 -1.14v-4.36m0 -2.77v-4.42m0 -1.18v-3.55m0 -2.51v-4.75m0 -1.57v-2.65m0 -3.36v-2.93m0 -1.47M1763 354.5v-3.93m0 -0.83v-2.85m0 -1.11v-3.15m0 -1.67v-2.59m0 -1.22v-7.2m0 -1.62v-6.34m0 -1.15v-5.41m0 -0.77v-5.72m0 -3.86v-4.24m0 -1.29v-0.74m0 -3.72M1918.5 354.5v-7.56m0 -2.04v-4.74m0 -1.12v-4.18m0 -0.91v-4.22m0 -1.72v-4.47m0 -0.81v-6.12m0 -2.57v-4.04m0 -3.54v-2.15m0 -2.84M1919.6 354.5v-4.52m0 -1.32v-8.15m0 -0.61v-3.07m0 -1.09v-5.19m0 -2.07v-6.15m0 -1.68v-3.02m0 -1.66v-4.25m0 -0.78v-6.47m0 -2.78v-4.74m0 -1.23v-4.43m0 -1.51v-4.56m0 -0.62v-4.24m0 -2.45v-5.17m0 -2.62v-4.41m0 -1.37v-0.52m0 -1.79M1920.7 354.5v-8.52m0 -0.85v-5.99m0 -0.62v-5.34m0 -2.29v-2.8m0 -1.94v-4.86m0 -2.68v-4.13m0 -2.49v-4.93m0 -2.62v-5.9m0 -2.39v-3.47m0 -2.35v-5.12m0 -3.24v-4.26m0 -2.13v-2.28m0 -0.93v-4.04m0 -2.03v-1.88m0 -2.58M1933.5 354.5v-4.68m0 -0.79v-7.4m0 -0.99v-5.68m0 -0.71v-7.22m0 -0.88v-4.46m0 -2.7v-3.03m0 -2.42v-3.66m0 -3.64v-2.48m0 -1.18v-3.84m0 -3.07v-1.88m0 -1.23M1965 354.5v-5.28m0 -0.6v-6.23m0 -1.1v-7.55m0 -1.4v-2.27m0 -0.53v-3.63m0 -1.19v-6.39m0 -2.86v-3.46m0 -1.37v-2.25m0 -0.94v-4.53m0 -0.72v-3.42m0 -2.08M1981 354.5v-6.58m0 -1.45v-2.67m0 -1.82v-7.11m0 -0.74v-7.12m0 -2.59v-4.78m0 -2.56v-2.19m0 -1.23v-5.48m0 -3.55v-2.7m0 -2.6v-0.54m0 -1.25M1212.85 334.8m0 -1.9v-1.5m0 -1.59v-1.5m0 -1.63v-1.5m0 -4.2v-1.5m0 -3.04v-1.5m0 -3.62v-1.5m0 -4.2v-1.5m0 -2.75v-1.5m0 -4.72v-1.5m0 -3.73v-1.5m0 -1.59v-1.5m0 -4.43v-1.5m0 -4.46v-1.5m0 -6.02v-1.5m0 -8.45v-1.5m0 -1.4v-1.5m0 -6.28v-1.5m0 -7.36v-1.5m0 -5.6v-1.5M1214.15 334.8m0 -3.71v-1.5m0 -5.88v-1.5m0 -5.16v-1.5m0 -4.51v-1.5m0 -6.96v-1.5m0 -7.09v-1.5m0 -1.97v-1.5m0 -5.09v-1.5m0 -11.84v-1.5m0 -3.17v-1.5m0 -8.37v-1.5m0 -10.71v-1.5m0 -2.99v-1.5m0 -4.42v-1.5M1218.35 334.8m0 -3.32v-1.5m0 -1.54v-1.5m0 -4.43v-1.5m0 -4.37v-1.5m0 -5.33v-1.5m0 -2.43v-1.5m0 -4.37v-1.5m0 -6.74v-1.5m0 -4.2v-1.5m0 -5.43v-1.5m0 -4.41v-1.5m0 -7.48v-1.5m0 -6.94v-1.5M1219.65 334.8m0 -6.23v-1.5m0 -8.79v-1.5m0 -8.38v-1.5m0 -7.21v-1.5m0 -4.07v-1.5m0 -7.6v-1.5m0 -14.37v-1.5M1275.35 334.8m0 -1.4v-1.5m0 -3.28v-1.5m0 -1.08v-1.5m0 -1.41v-1.5m0 -2.46v-1.5m0 -1.4v-1.5m0 -3.78v-1.5m0 -3.27v-1.5m0 -2.85v-1.5m0 -5.27v-1.5m0 -2.91v-1.5m0 -2.38v-1.5m0 -2.65v-1.5m0 -1.13v-1.5m0 -5.44v-1.5m0 -5.19v-1.5m0 -3.85v-1.5m0 -6.82v-1.5m0 -3.5v-1.5m0 -2.67v-1.5m0 -1.27v-1.5m0 -2.45v-1.5m0 -4.76v-1.5m0 -3.87v-1.5m0 -4.99v-1.5m0 -1.5v-1.5m0 -1.25v-1.5m0 -7.49v-1.5M1276.65 334.8m0 -3.42v-1.5m0 -5.94v-1.5m0 -6.9v-1.5m0 -3.8v-1.5m0 -4.78v-1.5m0 -7.76v-1.5m0 -2.3v-1.5m0 -9.1v-1.5m0 -5.05v-1.5m0 -3.9v-1.5m0 -6.69v-1.5m0 -9.35v-1.5m0 -12.66v-1.5m0 -13.52v-1.5m0 -1.59v-1.5m0 -3.77v-1.5M1558.35 328.8m0 -3.65v-1.5m0 -4.25v-1.5m0 -2.38v-1.5m0 -3.4v-1.5m0 -5.31v-1.5m0 -1.11v-1.5m0 -5.32v-1.5m0 -5.45v-1.5m0 -3.69v-1.5m0 -6.03v-1.5m0 -6.25v-1.5m0 -2.32v-1.5m0 -8.35v-1.5m0 -8.67v-1.5m0 -3.24v-1.5m0 -9.61v-1.5M1559.65 328.8m0 -4.42v-1.5m0 -6.67v-1.5m0 -8.48v-1.5m0 -3.36v-1.5m0 -2.18v-1.5m0 -9.46v-1.5m0 -5.96v-1.5m0 -7.61v-1.5m0 -7.2v-1.5m0 -13.15v-1.5m0 -9.72v-1.5m0 -12.64v-1.5M1918.95 324.4m0 -1.52v-1.5m0 -2.29v-1.5m0 -4.94v-1.5m0 -4.33v-1.5m0 -4.56v-1.5m0 -4.36v-1.5m0 -3.03v-1.5m0 -4.61v-1.5m0 -3.62v-1.5m0 -6.03v-1.5m0 -5.56v-1.5m0 -7.35v-1.5m0 -7.37v-1.5m0 -7.79v-1.5m0 -1.81v-1.5m0 -1.18v-1.5m0 -4.41v-1.5m0 -9.72v-1.5M1920.25 324.4m0 -5v-1.5m0 -7.23v-1.5m0 -6.32v-1.5m0 -2.03v-1.5m0 -5.5v-1.5m0 -9.82v-1.5m0 -10.08v-1.5m0 -1.76v-1.5m0 -13.68v-1.5m0 -8.38v-1.5m0 -5.38v-1.5m0 -7.8v-1.5M1980.35 334.8m0 -3.92v-1.5m0 -2.26v-1.5m0 -3.38v-1.5m0 -1.29v-1.5m0 -4.28v-1.5m0 -1.33v-1.5m0 -4.29v-1.5m0 -2.55v-1.5m0 -1.78v-1.5m0 -1.76v-1.5m0 -6.29v-1.5m0 -2.3v-1.5m0 -3.84v-1.5m0 -1.99v-1.5m0 -4.19v-1.5m0 -6.58v-1.5m0 -2.8v-1.5m0 -6.32v-1.5m0 -3.8v-1.5m0 -2.01v-1.5m0 -7.76v-1.5m0 -4.03v-1.5m0 -6.81v-1.5M1981.65 334.8m0 -5.23v-1.5m0 -3.15v-1.5m0 -5.26v-1.5m0 -6.67v-1.5m0 -2.8v-1.5m0 -9.35v-1.5m0 -3.22v-1.5m0 -1.38v-1.5m0 -6.58v-1.5m0 -6.33v-1.5m0 -2.86v-1.5m0 -6.98v-1.5m0 -4.58v-1.5m0 -12.19v-1.5m0 -8.39v-1.5m0 -9.38v-1.5m0 -3.45v-1.5M1201.35 334.8m0 -1.97v-1.5m0 -3.39v-1.5m0 -4.47v-1.5m0 -3.56v-1.5m0 -2.7v-1.5m0 -4.62v-1.5m0 -5.37v-1.5m0 -1.92v-1.5m0 -2.76v-1.5m0 -2.32v-1.5m0 -1.17v-1.5m0 -5.78v-1.5m0 -9.24v-1.5m0 -3.47v-1.5M1202.65 334.8m0 -3.66v-1.5m0 -7.94v-1.5m0 -1.84v-1.5m0 -3.97v-1.5m0 -9.55v-1.5m0 -11.55v-1.5m0 -11.76v-1.5m0 -11.39v-1.5m0 -6.27v-1.5M1683.35 329.9m0 -3.16v-1.5m0 -4.62v-1.5m0 -4.94v-1.5m0 -5.29v-1.5m0 -3.3v-1.5m0 -2.88v-1.5m0 -2.52v-1.5m0 -4.29v-1.5m0 -5.51v-1.5m0 -7.9v-1.5m0 -9.71v-1.5M1684.65 329.9m0 -5.29v-1.5m0 -3.45v-1.5m0 -6.35v-1.5m0 -3.91v-1.5m0 -10.57v-1.5m0 -3.88v-1.5m0 -6.48v-1.5m0 -4.25v-1.5m0 -4.33v-1.5m0 -13.28v-1.5M1461.35 327.6m0 -1.92v-1.5m0 -2.54v-1.5m0 -1.22v-1.5m0 -5.87v-1.5m0 -6.34v-1.5m0 -3.47v-1.5m0 -7.42v-1.5m0 -2.76v-1.5m0 -3.03v-1.5m0 -5.67v-1.5m0 -2.95v-1.5M1462.65 327.6m0 -8.9v-1.5m0 -2.18v-1.5m0 -5.56v-1.5m0 -5.76v-1.5m0 -13.13v-1.5m0 -15.2v-1.5m0 -2.04v-1.5M1762.35 332.8m0 -3.09v-1.5m0 -3.53v-1.5m0 -2.89v-1.5m0 -3.2v-1.5m0 -6.18v-1.5m0 -6.02v-1.5m0 -3.82v-1.5m0 -7.31v-1.5m0 -4.22v-1.5m0 -1.73v-1.5m0 -3.13v-1.5M1763.65 332.8m0 -4.41v-1.5m0 -2.52v-1.5m0 -7.54v-1.5m0 -3.56v-1.5m0 -8.49v-1.5m0 -7.9v-1.5m0 -10.45v-1.5M1705.23 246.26v-1.5M1978.26 260.4v-1.5M1168.41 326.85v-1.5M1984.59 296.78v-1.5M1543.29 326.55v-1.5M1200.08 237.1v-1.5M1516.94 322.06v-1.5M1246.26 310.72v-1.5M1730.94 274.05v-1.5M1489.33 308.49v-1.5M1948.97 317.43v-1.5M1167.75 270.39v-1.5M1739.43 273.04v-1.5M1196.39 265.68v-1.5M1300.51 313.48v-1.5M1242.78 316.81v-1.5M1944.94 302.98v-1.5M1940.97 249.42v-1.5M1555.9 305.81v-1.5M1495.38 299.74v-1.5M1192.67 317.58v-1.5M1978.91 276.54v-1.5M1551.01 264.84v-1.5M1926.23 267.19v-1.5M1169.39 314.88v-1.5M1760.3 269.8v-1.5M1906.79 334.85v-1.5M1701.21 292.57v-1.5M1211.43 297.93v-1.5M1978.31 238.14v-1.5M1969.18 280.67v-1.5M1777.77 318.82v-1.5M1773.45 271.94v-1.5M1933.68 295.42v-1.5M1235.11 261.12v-1.5M1513.84 311.78v-1.5M1239.91 324.18v-1.5M1963.01 300.92v-1.5M1495.24 321.92v-1.5M1565.89 293.67v-1.5M1505.88 297.97v-1.5M1925.21 301.89v-1.5M1721.45 317.57v-1.5M1943.04 278.2v-1.5M1937.69 307.84v-1.5M1503.2 305.59v-1.5M1782.79 302.21v-1.5M1261.81 306.21v-1.5M1951.29 317.98v-1.5M1739.04 313.91v-1.5M1556.78 300.28v-1.5M1203.27 304.58v-1.5M1726.19 237v-1.5M1301.16 321.93v-1.5M1547.27 306.55v-1.5M1512.42 269.33v-1.5M1234.19 323.19v-1.5M1482.56 287.22v-1.5M1903.83 335.39v-1.5M1209.78 287.48v-1.5M1775.55 180.62v-1.5M1941.8 241.5v-1.5M1713.21 261.69v-1.5M1742.31 269.46v-1.5M1905.95 324.33v-1.5M1549.01 332.55v-1.5M1938.84 281.26v-1.5M1693.98 276.09v-1.5M1178.57 334.33v-1.5M1453.28 265.58v-1.5M1558.2 264.78v-1.5M1693.18 264.44v-1.5M1900.61 341.6v-1.5M1284.44 256.89v-1.5M1936.63 301.04v-1.5M1927.06 279.03v-1.5M1755.31 289.73v-1.5M1727.82 298.36v-1.5M1781.08 211.16v-1.5M1711.33 204.45v-1.5M1707.78 309.41v-1.5M1770.28 298.22v-1.5M1194.62 318.17v-1.5M1707.77 276.8v-1.5M1966.85 275.09v-1.5M1904.5 338.33v-1.5M1737.18 306.82v-1.5M1300.01 297.84v-1.5M1705.74 248.38v-1.5M1499.33 306.86v-1.5M1783.35 314.24v-1.5M1563.47 316.11v-1.5M1700.74 295.14v-1.5M1245.43 296.05v-1.5M1469.11 288.4v-1.5M1531.16 263.28v-1.5M1983.79 283.69v-1.5M1712.16 292.5v-1.5M1205.03 314.85v-1.5M1249.6 305.73v-1.5M1219.36 231.55v-1.5M1192.3 288.71v-1.5M1302.04 328.22v-1.5" stroke="#85c9b0" stroke-width="1.35" fill="none"/>
<path d="M1165.86 408.6v3.43m0 3.56v1.5m0 4.09v1.5M1167.07 408.6v9.18m0 4.33v1.5m0 3.25v1.5m0 5.49v1.5M1168.13 408.6v3.94m0 1.17v1.5m0 6.65v1.5M1169.32 408.6v3.55m0 3.63v1.5m0 3.31v1.5M1170.32 408.6v3.67m0 4.36v1.5M1171.36 408.6v4.33m0 2.87v1.5m0 4.35v1.5M1172.51 408.6v3.41m0 1.24v1.5m0 2.64v1.5m0 6.39v1.5M1173.54 408.6v4.49m0 3.54v1.5M1174.65 408.6v4.42m0 4.22v1.5m0 2.95v1.5M1175.78 408.6v5.32m0 3.96v1.5M1176.78 408.6v4.34m0 2.63v1.5m0 2.47v1.5M1177.99 408.6v17.23m0 2.17v1.5m0 1.16v1.5M1179.17 408.6v18.68m0 2.79v1.5m0 2.03v1.5M1180.37 408.6v4.99m0 3.33v1.5M1181.53 408.6v7.6m0 3.97v1.5m0 3.85v1.5M1182.6 408.6v3.56m0 2.08v1.5m0 4.84v1.5M1183.78 408.6v3.23m0 4.02v1.5m0 2.54v1.5m0 3.66v1.5M1184.92 408.6v16.15m0 2.36v1.5m0 4.47v1.5M1186.08 408.6v5.19m0 3.1v1.5m0 2.26v1.5M1187.26 408.6v10.55m0 1.53v1.5m0 3.15v1.5m0 4.26v1.5M1188.34 408.6v13.41m0 4.1v1.5m0 1.86v1.5m0 4.56v1.5M1189.57 408.6v8.08m0 1.57v1.5M1190.68 408.6v5.01m0 1.8v1.5m0 4.23v1.5M1191.76 408.6v4.01m0 1.5v1.5m0 1.8v1.5m0 2.5v1.5M1192.89 408.6v3.46m0 4.87v1.5m0 1.25v1.5M1194.14 408.6v13.47m0 1.75v1.5m0 2.12v1.5m0 4.98v1.5M1195.31 408.6v8.22m0 4.06v1.5m0 7.94v1.5M1196.34 408.6v4.45m0 2.75v1.5m0 3.09v1.5m0 4.1v1.5M1197.4 408.6v10m0 1.8v1.5m0 1.25v1.5m0 2.57v1.5M1198.57 408.6v3.53m0 4.31v1.5m0 5.39v1.5M1199.81 408.6v12.01m0 2.64v1.5m0 4.19v1.5M1200.95 408.6v4.06m0 1.27v1.5m0 4.27v1.5M1202.08 408.6v4.08m0 3.13v1.5m0 3.91v1.5M1203.08 408.6v13.84m0 4.95v1.5m0 3.15v1.5m0 9.72v1.5M1204.12 408.6v18.24m0 4.93v1.5m0 5.05v1.5M1205.32 408.6v5.61m0 3.85v1.5m0 3.05v1.5m0 3.35v1.5M1206.38 408.6v15.25m0 4.88v1.5M1207.52 408.6v3.84m0 4.15v1.5M1208.69 408.6v3.37m0 4.76v1.5M1209.84 408.6v21.16m0 3.2v1.5m0 4.12v1.5M1211.03 408.6v22.19m0 1.77v1.5m0 1.32v1.5m0 3.07v1.5M1212.19 408.6v8.59m0 3.71v1.5M1213.27 408.6v3.75m0 1.83v1.5m0 3.35v1.5m0 3.42v1.5M1214.41 408.6v7.81m0 3.76v1.5m0 3.81v1.5M1215.59 408.6v3.11m0 1.98v1.5m0 1.75v1.5m0 3.53v1.5M1216.6 408.6v4.65m0 3.26v1.5m0 4.31v1.5m0 3.39v1.5m0 6.79v1.5M1217.85 408.6v18.66m0 4.12v1.5m0 3.32v1.5M1219 408.6v3.21m0 4.24v1.5m0 4.26v1.5m0 3.28v1.5m0 14.44v1.5M1220.24 408.6v3.98m0 2.23v1.5m0 4.01v1.5M1221.46 408.6v4.76m0 2.17v1.5m0 3.81v1.5m0 2.79v1.5m0 17.92v1.5m0 6.23v1.5M1222.47 408.6v10.11m0 1.9v1.5m0 2.82v1.5m0 4.64v1.5m0 3.02v1.5M1223.49 408.6v3.88m0 1.99v1.5m0 2.33v1.5m0 10.36v1.5M1224.7 408.6v22.61m0 2.53v1.5m0 1.22v1.5M1225.76 408.6v29.46m0 4.77v1.5M1226.99 408.6v4.59m0 2.04v1.5m0 2.38v1.5m0 3.66v1.5m0 3.56v1.5m0 4.31v1.5m0 6.22v1.5M1228.24 408.6v4.45m0 4.53v1.5m0 1.24v1.5m0 4.36v1.5M1229.43 408.6v20.95m0 2.52v1.5m0 3.57v1.5m0 1.64v1.5M1230.58 408.6v8.33m0 1.38v1.5m0 4.27v1.5m0 2.08v1.5m0 1.56v1.5m0 4.21v1.5m0 18.35v1.5m0 5.35v1.5M1231.69 408.6v13.35m0 1.33v1.5m0 3.96v1.5m0 4.82v1.5m0 6.79v1.5M1232.92 408.6v4.85m0 3.59v1.5m0 4.92v1.5m0 3.74v1.5m0 2.26v1.5M1234.08 408.6v20.46m0 1.45v1.5m0 1.86v1.5m0 3.72v1.5M1235.1 408.6v27.23m0 2.41v1.5m0 3.5v1.5m0 4.03v1.5M1236.28 408.6v23.04m0 4.73v1.5m0 2.28v1.5m0 4.01v1.5m0 5.98v1.5m0 19.87v1.5M1237.37 408.6v28.09m0 3.77v1.5M1238.4 408.6v5.32m0 4.06v1.5m0 2.6v1.5m0 2.49v1.5m0 14.63v1.5m0 5.79v1.5M1239.49 408.6v6.34m0 2.46v1.5m0 2.08v1.5m0 2.84v1.5m0 3.6v1.5m0 11.44v1.5M1240.71 408.6v21.7m0 4.21v1.5m0 1.98v1.5m0 2.46v1.5m0 1.33v1.5m0 10.63v1.5M1241.89 408.6v14.92m0 4.31v1.5m0 2.66v1.5m0 4.59v1.5M1242.99 408.6v6.42m0 2.74v1.5m0 4.15v1.5m0 3.51v1.5M1244.19 408.6v3.28m0 4.06v1.5m0 1.89v1.5m0 3.43v1.5M1245.33 408.6v3.46m0 4.57v1.5m0 3.86v1.5m0 3.47v1.5M1246.42 408.6v5.24m0 1.91v1.5m0 3.95v1.5m0 2.3v1.5M1247.44 408.6v13.44m0 2.17v1.5m0 3.6v1.5M1248.61 408.6v24.93m0 2.75v1.5M1249.68 408.6v26.84m0 1.7v1.5m0 2.59v1.5m0 4.36v1.5M1250.8 408.6v5.42m0 3.25v1.5m0 1.3v1.5m0 1.77v1.5M1251.86 408.6v23.3m0 3.14v1.5M1253.02 408.6v4.75m0 1.19v1.5m0 4.4v1.5m0 1.78v1.5m0 7.72v1.5M1254.03 408.6v4.24m0 3v1.5m0 4.04v1.5m0 2.52v1.5M1255.1 408.6v17.12m0 2.44v1.5m0 3.53v1.5m0 8.32v1.5M1256.26 408.6v4.11m0 1.44v1.5m0 3.61v1.5m0 10.26v1.5M1257.47 408.6v5.27m0 2.86v1.5m0 3.06v1.5m0 9.52v1.5M1258.65 408.6v12.68m0 1.88v1.5m0 2.24v1.5m0 2.66v1.5m0 2.74v1.5m0 6.91v1.5M1259.73 408.6v9.29m0 4.64v1.5M1260.83 408.6v18.11m0 2.1v1.5m0 1.33v1.5m0 4.81v1.5M1261.95 408.6v6.78m0 2.66v1.5m0 2.91v1.5M1263.19 408.6v4.83m0 3.42v1.5m0 9.9v1.5M1264.23 408.6v4.19m0 3.75v1.5M1265.43 408.6v7.17m0 3.9v1.5m0 2.72v1.5m0 1.77v1.5M1266.46 408.6v6.83m0 1.45v1.5m0 2.83v1.5M1267.67 408.6v4.97m0 3.15v1.5M1268.69 408.6v9.25m0 1.31v1.5M1269.79 408.6v6.38m0 2.34v1.5m0 4.41v1.5M1270.88 408.6v9.86m0 1.15v1.5m0 4.55v1.5m0 14.27v1.5M1272.05 408.6v6.53m0 4.57v1.5m0 3.13v1.5m0 5.91v1.5M1273.13 408.6v10.44m0 3.29v1.5m0 2.33v1.5M1274.33 408.6v3.12m0 2.89v1.5m0 2.4v1.5m0 3.57v1.5M1275.58 408.6v3.42m0 4.48v1.5m0 2.35v1.5m0 3.83v1.5M1276.76 408.6v4.26m0 1.46v1.5m0 4.55v1.5m0 3.79v1.5M1277.76 408.6v17.42m0 3.61v1.5m0 2.66v1.5m0 4.49v1.5M1278.79 408.6v7.66m0 1.27v1.5m0 1.82v1.5m0 3.56v1.5m0 2.32v1.5m0 8.15v1.5M1279.99 408.6v23.04m0 4.26v1.5m0 8.84v1.5M1281.09 408.6v8.18m0 3.76v1.5M1282.22 408.6v23.91m0 2.22v1.5m0 3.77v1.5m0 3.4v1.5m0 14.64v1.5M1283.43 408.6v14.28m0 1.65v1.5m0 4.99v1.5m0 4.94v1.5M1284.61 408.6v19.49m0 1.65v1.5m0 2.53v1.5m0 1.52v1.5M1285.74 408.6v3.68m0 1.37v1.5m0 4.05v1.5M1286.81 408.6v24.03m0 3.66v1.5m0 3.19v1.5m0 2.74v1.5m0 9.53v1.5m0 4.54v1.5M1287.83 408.6v4.83m0 4.19v1.5m0 3.1v1.5M1288.86 408.6v15.99m0 3.44v1.5m0 3.47v1.5m0 2.26v1.5m0 2.91v1.5m0 3.09v1.5M1289.87 408.6v14.72m0 3.02v1.5m0 3.63v1.5m0 3.23v1.5m0 4.25v1.5m0 2.71v1.5m0 2.67v1.5m0 3.27v1.5m0 4.88v1.5M1290.97 408.6v5.19m0 1.76v1.5m0 3.46v1.5m0 3.49v1.5m0 4.57v1.5m0 2.49v1.5m0 13.96v1.5m0 8.26v1.5M1292.21 408.6v3.58m0 2.29v1.5m0 2.74v1.5m0 2.26v1.5m0 8.29v1.5M1293.24 408.6v4.47m0 1.67v1.5m0 4.25v1.5m0 1.45v1.5m0 2.02v1.5m0 1.21v1.5m0 3.07v1.5m0 1.19v1.5m0 1.4v1.5m0 14.44v1.5m0 14.49v1.5M1294.37 408.6v4.3m0 3.37v1.5m0 3.17v1.5m0 4.97v1.5m0 2.21v1.5m0 2.89v1.5m0 4.13v1.5m0 15.66v1.5m0 4.94v1.5M1295.52 408.6v5.76m0 1.22v1.5m0 4.7v1.5m0 1.69v1.5m0 9.26v1.5m0 17.84v1.5M1296.76 408.6v5.5m0 1.76v1.5M1298.01 408.6v4.03m0 1.5v1.5m0 1.98v1.5M1299.17 408.6v4.45m0 3.1v1.5m0 1.79v1.5m0 1.83v1.5M1300.31 408.6v4.43m0 4.52v1.5M1301.49 408.6v5.38m0 1.2v1.5m0 3.38v1.5m0 1.16v1.5M1302.6 408.6v12.35m0 3.22v1.5m0 3.02v1.5m0 1.64v1.5M1303.8 408.6v18.61m0 2.39v1.5m0 1.24v1.5M1305.01 408.6v5.65m0 3.62v1.5m0 3.22v1.5M1306.06 408.6v8.58m0 1.87v1.5m0 2.04v1.5m0 3.55v1.5M1307.19 408.6v4m0 3.46v1.5m0 2.26v1.5m0 4.67v1.5M1447.73 408.6v3.67m0 1.52v1.5m0 2.37v1.5M1448.89 408.6v4.98m0 3.34v1.5m0 4.24v1.5M1449.97 408.6v5.33m0 4.53v1.5m0 2.84v1.5m0 2.27v1.5M1451.05 408.6v10.66m0 2.41v1.5m0 1.63v1.5m0 1.25v1.5M1452.09 408.6v9.6m0 2.71v1.5m0 2.5v1.5m0 2.25v1.5m0 2.42v1.5M1453.2 408.6v3.64m0 1.89v1.5m0 2.73v1.5m0 11.78v1.5M1454.25 408.6v18.36m0 4.28v1.5m0 6.66v1.5M1455.42 408.6v4.45m0 2.16v1.5m0 2.39v1.5m0 1.43v1.5M1456.66 408.6v4.11m0 1.84v1.5m0 2.59v1.5M1457.73 408.6v6.6m0 4.64v1.5m0 1.79v1.5m0 3.07v1.5M1458.8 408.6v16.53m0 2.48v1.5m0 1.87v1.5m0 4.1v1.5m0 4.25v1.5M1459.93 408.6v4.32m0 4.73v1.5M1460.95 408.6v13.68m0 4.36v1.5m0 4.28v1.5m0 2.17v1.5M1461.99 408.6v10.41m0 4.51v1.5M1463.03 408.6v5.91m0 3.08v1.5m0 3.77v1.5m0 4.7v1.5M1464.24 408.6v3.99m0 2.2v1.5m0 3.52v1.5m0 1.89v1.5M1465.37 408.6v5.66m0 1.15v1.5m0 3.83v1.5M1466.56 408.6v9.55m0 1.58v1.5m0 4.43v1.5M1467.77 408.6v5.38m0 3.33v1.5m0 3.54v1.5m0 4.19v1.5M1468.85 408.6v21.45m0 2.57v1.5m0 4.72v1.5M1469.89 408.6v6.86m0 2.75v1.5m0 2.26v1.5m0 10.69v1.5M1470.91 408.6v5.17m0 4.08v1.5m0 4.6v1.5M1472.09 408.6v16.25m0 2.19v1.5m0 3.71v1.5M1473.22 408.6v4.14m0 3.84v1.5m0 5.99v1.5M1474.44 408.6v15.91m0 4.39v1.5m0 4.94v1.5m0 4.75v1.5M1475.6 408.6v5.28m0 4.49v1.5M1476.64 408.6v4.07m0 2.21v1.5m0 2.76v1.5M1477.77 408.6v7.12m0 1.48v1.5m0 2.55v1.5m0 14.97v1.5M1478.87 408.6v3.24m0 2.05v1.5m0 4.46v1.5m0 1.58v1.5m0 1.24v1.5m0 8.17v1.5M1479.9 408.6v5.17m0 2.91v1.5m0 3.28v1.5M1480.93 408.6v6.75m0 4.77v1.5m0 2.76v1.5M1482.11 408.6v26.29m0 4.87v1.5m0 6.99v1.5M1483.27 408.6v10.62m0 4.64v1.5m0 2.28v1.5m0 3.02v1.5M1484.38 408.6v5.26m0 1.16v1.5m0 1.36v1.5m0 4.14v1.5m0 1.96v1.5M1485.41 408.6v8.05m0 4.14v1.5m0 3.52v1.5m0 3.56v1.5M1486.47 408.6v7.85m0 3.61v1.5m0 3.84v1.5m0 10.03v1.5M1487.58 408.6v3.13m0 4.56v1.5m0 2.47v1.5M1488.77 408.6v4.33m0 3.83v1.5m0 11.76v1.5M1489.87 408.6v3.19m0 3.08v1.5m0 4.38v1.5m0 5.26v1.5M1491.06 408.6v3.13m0 1.55v1.5m0 4.39v1.5m0 2.99v1.5M1492.15 408.6v3.29m0 3.92v1.5m0 2.28v1.5m0 3.6v1.5m0 6.68v1.5M1493.3 408.6v3.23m0 2.24v1.5m0 1.95v1.5m0 4.35v1.5M1494.49 408.6v3.95m0 3.35v1.5m0 3.62v1.5m0 3.51v1.5M1495.59 408.6v4.14m0 3.29v1.5m0 4.18v1.5M1496.71 408.6v4.79m0 3.42v1.5M1497.73 408.6v4.66m0 1.61v1.5m0 2.98v1.5m0 2.75v1.5M1498.75 408.6v3.41m0 3.08v1.5m0 4.52v1.5m0 4.45v1.5m0 13.6v1.5M1499.92 408.6v25.7m0 3.92v1.5M1500.95 408.6v13.95m0 2.77v1.5m0 4.57v1.5M1502 408.6v10.29m0 3.81v1.5m0 1.19v1.5m0 2.82v1.5m0 3.35v1.5M1503.12 408.6v8.64m0 3.03v1.5m0 2.53v1.5m0 2.55v1.5M1504.35 408.6v9.02m0 1.2v1.5m0 4.43v1.5M1505.6 408.6v3.21m0 1.45v1.5m0 1.26v1.5m0 4.52v1.5m0 11.79v1.5M1506.79 408.6v9.46m0 1.52v1.5m0 3.39v1.5m0 4.06v1.5m0 11.27v1.5M1507.88 408.6v3.75m0 2.85v1.5M1508.93 408.6v4.5m0 2.13v1.5M1510.03 408.6v3.97m0 3.11v1.5m0 1.3v1.5m0 1.2v1.5m0 11.26v1.5M1511.04 408.6v13.91m0 2.27v1.5m0 3.65v1.5M1512.12 408.6v4.42m0 4.5v1.5m0 3.04v1.5M1513.29 408.6v20.41m0 1.71v1.5m0 1.27v1.5m0 3.9v1.5M1514.45 408.6v27.49m0 2.49v1.5m0 3.46v1.5m0 14.43v1.5M1515.68 408.6v25.05m0 2.28v1.5m0 3.58v1.5m0 2.76v1.5m0 12.47v1.5M1516.76 408.6v5.36m0 4.48v1.5m0 4.74v1.5M1517.86 408.6v6.24m0 2.01v1.5m0 10.76v1.5M1519.05 408.6v6.26m0 3.74v1.5m0 1.66v1.5m0 2.53v1.5m0 6.73v1.5m0 5.93v1.5M1520.11 408.6v3.97m0 3.63v1.5m0 2.25v1.5M1521.17 408.6v11.7m0 4.74v1.5M1522.41 408.6v14.22m0 3.51v1.5m0 4.46v1.5m0 3.3v1.5M1523.5 408.6v3.24m0 3.9v1.5m0 3.9v1.5M1524.72 408.6v3.79m0 3.43v1.5m0 1.17v1.5M1525.82 408.6v7.83m0 4.79v1.5M1527.04 408.6v24.05m0 3.67v1.5m0 1.46v1.5m0 1.42v1.5m0 4.04v1.5m0 8.82v1.5M1528.25 408.6v4.37m0 1.49v1.5m0 4.37v1.5m0 9.02v1.5M1529.33 408.6v15.39m0 1.25v1.5m0 4.08v1.5m0 4.43v1.5M1530.34 408.6v4.16m0 3.96v1.5M1531.5 408.6v5.66m0 4.94v1.5m0 3.41v1.5m0 4.13v1.5m0 6.86v1.5M1532.59 408.6v4.32m0 4.44v1.5m0 2.21v1.5M1533.67 408.6v14.03m0 4.55v1.5m0 2.43v1.5m0 4.25v1.5M1534.85 408.6v3.31m0 1.92v1.5m0 4.47v1.5M1535.95 408.6v3.43m0 2.23v1.5m0 4.73v1.5M1537.02 408.6v3.95m0 2.49v1.5m0 4.3v1.5m0 3.17v1.5m0 7.58v1.5M1538.24 408.6v12.8m0 2v1.5m0 1.15v1.5m0 1.7v1.5m0 1.56v1.5M1539.44 408.6v10.74m0 1.69v1.5m0 4.27v1.5m0 3.61v1.5m0 8.41v1.5M1540.64 408.6v4.89m0 3.4v1.5m0 3.19v1.5m0 2.76v1.5m0 4.41v1.5m0 8.92v1.5M1541.72 408.6v9.39m0 4.2v1.5m0 2.37v1.5m0 8.01v1.5M1542.96 408.6v3.98m0 3.32v1.5m0 2.34v1.5M1544.09 408.6v4.13m0 2.72v1.5m0 1.32v1.5m0 1.86v1.5m0 2.06v1.5M1545.17 408.6v14.88m0 1.41v1.5m0 4.55v1.5M1546.21 408.6v3.79m0 4.56v1.5m0 1.23v1.5m0 4.05v1.5m0 12.62v1.5M1547.41 408.6v3.5m0 3.79v1.5m0 1.84v1.5m0 4.69v1.5M1548.58 408.6v4.49m0 4.18v1.5m0 4.3v1.5m0 10.69v1.5M1549.82 408.6v3.84m0 3.28v1.5m0 2.38v1.5M1550.84 408.6v5.16m0 4.94v1.5M1551.86 408.6v4.49m0 3.38v1.5M1553.08 408.6v5.45m0 2.14v1.5m0 4.87v1.5m0 2.99v1.5M1554.14 408.6v4.21m0 4.38v1.5M1555.22 408.6v10.81m0 1.41v1.5m0 4.48v1.5M1556.26 408.6v3.59m0 2.19v1.5m0 3.5v1.5m0 4.89v1.5M1557.38 408.6v4.39m0 4.45v1.5m0 4.96v1.5M1558.43 408.6v6.49m0 3.76v1.5m0 1.45v1.5m0 2.83v1.5M1559.45 408.6v4.35m0 2.53v1.5m0 2.66v1.5m0 3.21v1.5M1560.69 408.6v3.89m0 2.5v1.5m0 3.73v1.5M1561.72 408.6v9.5m0 3.55v1.5m0 5.44v1.5M1562.81 408.6v3.26m0 4.68v1.5M1563.86 408.6v17.44m0 3.88v1.5m0 2.07v1.5M1565.07 408.6v4.67m0 4.88v1.5m0 1.45v1.5m0 3.11v1.5M1566.26 408.6v5.49m0 1.41v1.5m0 2.56v1.5m0 1.91v1.5m0 15.43v1.5M1567.49 408.6v3.43m0 4.1v1.5m0 4.35v1.5M1683.97 408.6v4.71m0 3.27v1.5m0 3.01v1.5m0 4.74v1.5m0 8.86v1.5M1685.06 408.6v3.39m0 4.14v1.5m0 2.62v1.5M1686.28 408.6v3.7m0 1.92v1.5m0 2.98v1.5m0 6.01v1.5M1687.28 408.6v4.4m0 3.01v1.5m0 3.99v1.5M1688.48 408.6v7.21m0 3.11v1.5m0 3.74v1.5M1689.49 408.6v4.94m0 4.08v1.5m0 4.78v1.5M1690.56 408.6v5.45m0 4.51v1.5M1691.79 408.6v4.29m0 3.74v1.5m0 14.79v1.5M1692.87 408.6v10.42m0 4.33v1.5m0 3.24v1.5M1693.88 408.6v27.21m0 2.39v1.5m0 3.99v1.5M1694.92 408.6v7.95m0 3.46v1.5m0 3.81v1.5M1696.16 408.6v3.75m0 2.27v1.5m0 4.05v1.5M1697.26 408.6v9.39m0 4.98v1.5m0 3.68v1.5M1698.35 408.6v3.19m0 3.98v1.5m0 2.8v1.5m0 4.47v1.5m0 4.55v1.5M1699.58 408.6v14.13m0 2.86v1.5m0 2.69v1.5m0 4.92v1.5m0 1.15v1.5m0 4.49v1.5m0 6.35v1.5m0 6.05v1.5M1700.79 408.6v8.04m0 4.45v1.5m0 3.32v1.5m0 7.89v1.5m0 13.46v1.5M1701.85 408.6v4.39m0 4.33v1.5m0 2.04v1.5m0 3.46v1.5m0 3.16v1.5m0 3.48v1.5m0 2.09v1.5M1702.88 408.6v4.43m0 2.57v1.5m0 3.22v1.5m0 3.58v1.5m0 3.52v1.5m0 2.44v1.5m0 13.64v1.5M1704.1 408.6v3.72m0 3.42v1.5m0 1.86v1.5m0 3.25v1.5m0 4.53v1.5M1705.2 408.6v4.4m0 2.73v1.5m0 2.59v1.5m0 3.91v1.5M1706.31 408.6v22.57m0 2.88v1.5m0 4.43v1.5M1707.35 408.6v12.36m0 3.87v1.5m0 1.38v1.5m0 8.65v1.5M1708.46 408.6v5.95m0 4.39v1.5m0 6.68v1.5m0 6.28v1.5M1709.68 408.6v4.4m0 3.77v1.5M1710.91 408.6v3.27m0 4.31v1.5m0 1.71v1.5M1711.95 408.6v4.43m0 4.27v1.5m0 4.53v1.5m0 4.62v1.5m0 4.48v1.5M1713.11 408.6v18.6m0 2.29v1.5m0 1.7v1.5M1714.15 408.6v4.86m0 4.88v1.5m0 3.2v1.5m0 2.03v1.5M1715.28 408.6v3.82m0 2.27v1.5m0 2.7v1.5m0 8.4v1.5M1716.47 408.6v37.26m0 2.27v1.5m0 3.78v1.5m0 4.92v1.5m0 4.06v1.5m0 1.4v1.5m0 2.49v1.5m0 1.4v1.5m0 13.11v1.5M1717.54 408.6v3.69m0 4.16v1.5m0 2.47v1.5m0 1.41v1.5m0 1.92v1.5m0 1.33v1.5m0 4.52v1.5m0 1.81v1.5m0 19.04v1.5M1718.68 408.6v30.12m0 3.89v1.5m0 4.87v1.5m0 2.93v1.5m0 7.66v1.5m0 14.65v1.5m0 13.85v1.5m0 8.11v1.5M1719.73 408.6v5.28m0 4.7v1.5m0 3.69v1.5m0 2.73v1.5m0 3.32v1.5m0 3.56v1.5m0 4.5v1.5m0 11.36v1.5M1720.8 408.6v4.96m0 1.19v1.5m0 3.63v1.5m0 1.43v1.5m0 4.65v1.5m0 13.01v1.5m0 6.65v1.5m0 15.79v1.5m0 8.57v1.5M1721.96 408.6v4.66m0 4.24v1.5m0 3.88v1.5m0 2.63v1.5m0 1.98v1.5m0 2.45v1.5m0 4.35v1.5m0 1.23v1.5m0 5.5v1.5m0 18.72v1.5m0 4.45v1.5m0 13.01v1.5M1723.05 408.6v3.28m0 3.99v1.5m0 3.52v1.5m0 3.59v1.5m0 2.21v1.5m0 3.49v1.5m0 4.09v1.5m0 17.55v1.5m0 5.5v1.5m0 18.21v1.5M1724.1 408.6v4.18m0 3.27v1.5m0 4.46v1.5M1725.18 408.6v3.68m0 4.69v1.5m0 3.33v1.5m0 1.8v1.5M1726.37 408.6v4.79m0 4.8v1.5m0 9.2v1.5M1727.48 408.6v4.6m0 4.74v1.5M1728.63 408.6v4m0 2.35v1.5m0 3.96v1.5M1729.69 408.6v4.07m0 3.08v1.5m0 2.74v1.5m0 3.01v1.5M1730.85 408.6v15.63m0 2.88v1.5m0 4.47v1.5M1731.86 408.6v11.4m0 2.39v1.5m0 1.62v1.5m0 3.64v1.5M1732.87 408.6v4.28m0 3.74v1.5m0 2.89v1.5m0 3.47v1.5m0 5.16v1.5M1733.93 408.6v4.38m0 1.18v1.5m0 2.15v1.5m0 5.71v1.5M1735.12 408.6v6.94m0 4.33v1.5m0 2.42v1.5m0 3.53v1.5M1736.17 408.6v6.4m0 4.69v1.5m0 1.28v1.5M1737.27 408.6v3.2m0 3.8v1.5m0 1.9v1.5m0 2.83v1.5M1738.52 408.6v4.04m0 3.1v1.5m0 4v1.5m0 1.84v1.5m0 7.47v1.5M1739.58 408.6v6.01m0 4.72v1.5m0 1.42v1.5M1740.62 408.6v16.44m0 4.22v1.5m0 2.41v1.5m0 4.28v1.5m0 2.81v1.5m0 4.24v1.5m0 3.14v1.5m0 19.63v1.5M1741.69 408.6v12.23m0 1.39v1.5m0 1.24v1.5m0 2.51v1.5m0 4.93v1.5m0 2.15v1.5m0 1.41v1.5m0 2.38v1.5M1742.82 408.6v16.19m0 2.8v1.5m0 1.81v1.5m0 1.72v1.5m0 2.38v1.5m0 2.62v1.5m0 3.48v1.5m0 3.67v1.5M1744.04 408.6v48.19m0 1.67v1.5m0 3.98v1.5m0 1.88v1.5m0 2.97v1.5m0 2.09v1.5m0 8.45v1.5M1745.05 408.6v38.11m0 3.59v1.5m0 4.22v1.5m0 1.15v1.5m0 2.18v1.5m0 4.21v1.5m0 5v1.5m0 15.29v1.5M1746.18 408.6v4.54m0 2.08v1.5m0 2.21v1.5M1747.19 408.6v13.49m0 1.82v1.5m0 1.45v1.5m0 4.2v1.5M1748.44 408.6v3.33m0 3.95v1.5m0 4.23v1.5M1749.55 408.6v4.21m0 1.81v1.5m0 2.15v1.5M1750.72 408.6v12.89m0 3.81v1.5m0 2.83v1.5m0 3.06v1.5M1751.78 408.6v19.48m0 1.42v1.5m0 1.18v1.5m0 4.86v1.5M1752.9 408.6v3.15m0 3.37v1.5m0 3.07v1.5m0 13.51v1.5M1754.11 408.6v8.68m0 1.74v1.5m0 3.38v1.5m0 5.1v1.5m0 8.4v1.5M1755.14 408.6v3.12m0 4.59v1.5M1756.19 408.6v18.23m0 1.33v1.5m0 1.2v1.5m0 4.32v1.5m0 7.17v1.5M1757.27 408.6v4.78m0 4.33v1.5m0 4.24v1.5m0 4.98v1.5M1758.47 408.6v5.84m0 3.28v1.5m0 2.77v1.5m0 3.4v1.5M1759.7 408.6v19.54m0 4.15v1.5m0 3.64v1.5m0 2.23v1.5M1760.88 408.6v3.86m0 4.46v1.5m0 1.32v1.5m0 16.97v1.5M1761.95 408.6v5.62m0 3.54v1.5m0 4.8v1.5M1763.03 408.6v4.14m0 3.84v1.5m0 4.68v1.5m0 7.27v1.5M1764.21 408.6v3.24m0 2.19v1.5m0 1.3v1.5m0 4.35v1.5M1765.32 408.6v5.4m0 1.72v1.5M1766.41 408.6v16.89m0 1.78v1.5m0 3.03v1.5M1767.66 408.6v3.92m0 2.07v1.5m0 2.65v1.5m0 5.41v1.5M1768.72 408.6v4.28m0 4.09v1.5m0 3.06v1.5m0 5.41v1.5M1769.92 408.6v3.75m0 1.32v1.5m0 3.15v1.5m0 1.62v1.5M1770.96 408.6v3.93m0 3.3v1.5m0 5.08v1.5M1772.19 408.6v3.57m0 2.47v1.5m0 2.72v1.5m0 1.24v1.5m0 15.2v1.5M1773.26 408.6v3.08m0 3.71v1.5m0 4.36v1.5M1774.49 408.6v3.41m0 4.01v1.5m0 3.22v1.5M1775.67 408.6v13.46m0 3.75v1.5m0 2.52v1.5m0 3.86v1.5M1776.89 408.6v4.44m0 3.09v1.5m0 2.16v1.5m0 1.91v1.5M1778.04 408.6v4.19m0 1.5v1.5m0 3.45v1.5m0 4.39v1.5M1779.07 408.6v5.96m0 2.27v1.5m0 3.85v1.5m0 4.86v1.5M1780.17 408.6v6.56m0 3.91v1.5m0 3.42v1.5m0 12.39v1.5M1781.41 408.6v8.48m0 4.32v1.5m0 1.26v1.5m0 2.58v1.5m0 3.31v1.5m0 11.75v1.5M1782.45 408.6v12.07m0 2.51v1.5m0 4.2v1.5m0 1.66v1.5M1783.58 408.6v5.59m0 2.22v1.5m0 2.23v1.5m0 2.27v1.5m0 5.67v1.5M1784.71 408.6v3.4m0 3v1.5m0 2.92v1.5m0 4.54v1.5M1785.82 408.6v6.14m0 4.95v1.5M1786.89 408.6v8.17m0 4.29v1.5m0 4.78v1.5m0 1.71v1.5M1787.97 408.6v4.29m0 1.7v1.5m0 3.76v1.5M1789.02 408.6v3.96m0 3.56v1.5m0 1.98v1.5m0 4.65v1.5M1888.61 408.6v5.07m0 2.81v1.5m0 2.18v1.5M1889.77 408.6v19.33m0 2.15v1.5m0 4.23v1.5m0 2.21v1.5m0 6.8v1.5M1890.78 408.6v4.31m0 4.57v1.5m0 4.6v1.5M1891.9 408.6v3.47m0 4.99v1.5m0 1.99v1.5m0 2.37v1.5M1892.94 408.6v5.19m0 4.53v1.5m0 3.16v1.5M1894.11 408.6v12.88m0 2.52v1.5m0 4v1.5M1895.28 408.6v27m0 4.53v1.5m0 3.37v1.5M1896.36 408.6v28.05m0 1.42v1.5m0 3.06v1.5m0 3.76v1.5m0 4.07v1.5M1897.51 408.6v25.72m0 3.8v1.5m0 2.65v1.5m0 4.5v1.5M1898.68 408.6v13.71m0 4.31v1.5m0 2.86v1.5m0 2.23v1.5m0 13.02v1.5M1899.81 408.6v5.03m0 4.36v1.5m0 3.63v1.5m0 4.95v1.5M1900.88 408.6v4.01m0 4.07v1.5M1901.9 408.6v16.78m0 4.65v1.5M1903.12 408.6v14.26m0 3.1v1.5m0 4.24v1.5m0 4.82v1.5M1904.14 408.6v12.05m0 2.51v1.5m0 7.56v1.5M1905.19 408.6v15.64m0 3.27v1.5m0 3.77v1.5m0 4.35v1.5M1906.39 408.6v22.45m0 2.57v1.5m0 2.28v1.5m0 4.78v1.5M1907.4 408.6v6.53m0 3.11v1.5m0 2.87v1.5m0 17.92v1.5M1908.44 408.6v3.49m0 4.14v1.5m0 1.94v1.5M1909.53 408.6v3.17m0 4.4v1.5m0 3.39v1.5m0 4.41v1.5M1910.57 408.6v3.42m0 3.06v1.5m0 1.61v1.5M1911.58 408.6v6.9m0 2.75v1.5m0 2.32v1.5M1912.77 408.6v4.72m0 2.48v1.5m0 1.63v1.5M1913.81 408.6v3.33m0 3.38v1.5m0 2.55v1.5m0 1.32v1.5m0 2.75v1.5M1915.04 408.6v3.74m0 1.62v1.5m0 3.74v1.5m0 7.57v1.5M1916.05 408.6v4.49m0 2.09v1.5m0 1.17v1.5m0 4.41v1.5M1917.12 408.6v6.54m0 1.68v1.5m0 4.21v1.5M1918.27 408.6v8.79m0 3.1v1.5m0 3.53v1.5m0 2.05v1.5M1919.29 408.6v25.88m0 1.34v1.5m0 2.18v1.5M1920.41 408.6v12.84m0 2.82v1.5m0 1.86v1.5M1921.53 408.6v3.34m0 4.92v1.5m0 2.46v1.5m0 3.25v1.5M1922.68 408.6v4.34m0 2.7v1.5m0 2.31v1.5m0 4.07v1.5m0 13.85v1.5M1923.91 408.6v20.16m0 3.95v1.5m0 7.86v1.5M1925.02 408.6v4.73m0 1.92v1.5m0 3.98v1.5M1926.24 408.6v5.5m0 2.3v1.5m0 2.9v1.5M1927.3 408.6v15.02m0 2.66v1.5m0 2.04v1.5m0 8.97v1.5M1928.46 408.6v6.95m0 1.62v1.5m0 4.31v1.5m0 3.02v1.5m0 9.26v1.5M1929.57 408.6v4.3m0 3.99v1.5m0 3.22v1.5m0 4.65v1.5M1930.76 408.6v3.99m0 3.53v1.5m0 4.13v1.5m0 3.14v1.5M1931.89 408.6v5.35m0 2.7v1.5m0 2.48v1.5m0 3.71v1.5M1933.11 408.6v5.69m0 4.44v1.5m0 3.97v1.5M1934.14 408.6v3.62m0 2.81v1.5m0 4.89v1.5M1935.21 408.6v22.29m0 2.22v1.5m0 2.84v1.5m0 2.1v1.5M1936.35 408.6v6.28m0 3.38v1.5m0 4.53v1.5M1937.51 408.6v8.82m0 4.37v1.5m0 3.14v1.5M1938.6 408.6v11.3m0 1.46v1.5m0 4.83v1.5M1939.8 408.6v3.59m0 3.02v1.5m0 1.57v1.5m0 3.53v1.5M1940.9 408.6v3.45m0 4.61v1.5m0 3.74v1.5m0 7.99v1.5M1942.13 408.6v7.2m0 2.05v1.5m0 1.68v1.5m0 2.43v1.5m0 10.96v1.5M1943.36 408.6v23.92m0 1.91v1.5M1944.37 408.6v23.98m0 4.74v1.5m0 6.55v1.5M1945.53 408.6v18.67m0 1.35v1.5m0 1.16v1.5M1946.75 408.6v3.33m0 2.97v1.5m0 3.82v1.5m0 5.23v1.5M1947.76 408.6v13.69m0 2.12v1.5m0 3.17v1.5m0 2.43v1.5m0 3.42v1.5M1948.94 408.6v4.17m0 3.57v1.5m0 10.08v1.5M1950.09 408.6v3.99m0 1.96v1.5m0 2.2v1.5M1951.22 408.6v12.43m0 4.63v1.5m0 3.15v1.5m0 6.68v1.5M1952.29 408.6v4.22m0 3.36v1.5m0 4.12v1.5m0 4.23v1.5M1953.47 408.6v12.79m0 4.53v1.5m0 1.72v1.5m0 3v1.5M1954.53 408.6v17.67m0 4.12v1.5m0 4.23v1.5M1955.57 408.6v24.39m0 2.72v1.5m0 2.69v1.5m0 4.41v1.5M1956.66 408.6v21.02m0 4.8v1.5m0 3.16v1.5M1957.91 408.6v9.2m0 4.3v1.5M1959.01 408.6v3.71m0 4.17v1.5m0 4.24v1.5M1960.05 408.6v3.74m0 3.95v1.5m0 8.5v1.5m0 6.04v1.5M1961.15 408.6v3.13m0 1.69v1.5m0 4.64v1.5m0 4.42v1.5M1962.34 408.6v4.06m0 2.12v1.5m0 4.97v1.5m0 4.13v1.5m0 8.45v1.5M1963.49 408.6v4.62m0 2.53v1.5m0 1.9v1.5m0 4.01v1.5m0 5.27v1.5M1964.67 408.6v26.66m0 4.57v1.5m0 4.34v1.5m0 6.88v1.5M1965.88 408.6v17.73m0 2.3v1.5m0 1.91v1.5m0 2.47v1.5M1966.95 408.6v4.37m0 4.75v1.5m0 4.27v1.5M1968.04 408.6v4.93m0 4.6v1.5m0 4.67v1.5M1969.25 408.6v12.58m0 4.49v1.5m0 4.31v1.5m0 1.57v1.5m0 16.35v1.5M1970.35 408.6v4.33m0 4.55v1.5m0 2.23v1.5m0 8.1v1.5M1971.48 408.6v5.43m0 4.91v1.5m0 1.74v1.5m0 1.99v1.5M1972.68 408.6v22.06m0 2.46v1.5m0 2.5v1.5m0 1.38v1.5m0 4.12v1.5M1973.84 408.6v22.09m0 2.73v1.5M1975.07 408.6v3.22m0 3.97v1.5m0 4.77v1.5M1976.07 408.6v12.78m0 3.08v1.5m0 1.27v1.5m0 4.2v1.5m0 5.31v1.5M1977.23 408.6v5.15m0 2.47v1.5m0 2.57v1.5m0 7.11v1.5m0 8.66v1.5M1978.36 408.6v3.3m0 1.5v1.5m0 1.71v1.5m0 1.28v1.5m0 2.72v1.5M1979.46 408.6v3.32m0 2.6v1.5m0 1.22v1.5m0 4.28v1.5m0 2.33v1.5M1980.53 408.6v16.04m0 3.1v1.5m0 2.44v1.5m0 1.46v1.5m0 4.83v1.5m0 4.85v1.5M1981.63 408.6v4.31m0 2.79v1.5m0 4.48v1.5m0 2.53v1.5M1982.83 408.6v3.59m0 3.36v1.5m0 4.85v1.5m0 4.48v1.5M1983.95 408.6v21.1m0 2.78v1.5m0 3.52v1.5M1229.45 411.6v8.44m0 2.28v3.39m0 0.53v2.14m0 2.66v5.44m0 0.93v4.22m0 1.29M1230.55 411.6v4.13m0 1.32v7.92m0 0.62v5.79m0 2.82v4.06m0 3.34v3.41m0 0.62v3.37m0 2.41M1291.45 411.6v2.36m0 0.56v2.84m0 0.72v3.32m0 1.6v4.08m0 2.32v6.63m0 2.83v5.83m0 3.62v4.05m0 1.91v3.4m0 0.92v1.01m0 4.35M1292.55 411.6v6.81m0 1.8v7.5m0 2.1v4.05m0 0.61v4.29m0 2.91v2.58m0 1.96v2.74m0 2.91v5.44m0 0.88v4.3m0 4.08v2.98m0 2.47M1700 411.6v8.24m0 1.75v4.06m0 1.82v2.48m0 1.13v4.25m0 1.81v5.42m0 0.7v3.99m0 1.11v6.11m0 0.66v3.19m0 1.4v2.44m0 1.5v2.62m0 2.84M1720 411.6v5.81m0 1.39v8.44m0 1.15v7.04m0 1.88v6.28m0 2.08v2.25m0 2.82v4.91m0 3.18v6.07m0 0.65v3.08m0 2.03v5.17m0 1.03v4.05m0 1.31v3.25m0 1.69v1.44m0 4.04M1742 411.6v6.53m0 1.86v3.1m0 1.62v5.28m0 2.34v3.01m0 1.04v4.03m0 3.07v2.96m0 1.96v3.18m0 0.63v5.31m0 2.01v3.25m0 3.79v2.04m0 4.3M1901 411.6v4.47m0 0.79v4.97m0 0.86v2.83m0 1.51v4.37m0 0.53v6.62m0 3.47v5.2m0 1.59v4.07m0 4.15M1907 411.6v7.41m0 2.08v6.39m0 1.19v3.48m0 1.07v6.8m0 1.64v4.51m0 2.98v2.15m0 1.48v4.96m0 2.26M1914 411.6v3.99m0 1.45v3.33m0 1.85v5.77m0 2.54v2.99m0 0.88v5.19m0 2.21v5.59m0 3.86v2.35m0 0.64M1975 411.6v6.93m0 1.83v5.95m0 1.03v4.15m0 1.67v2.62m0 2.26v2.92m0 1.22v4.52m0 1.78v4.72m0 0.53M1719.35 452.8m0 2.28v1.5m0 3.5v1.5m0 2.38v1.5m0 6.01v1.5m0 4.78v1.5m0 6.64v1.5m0 1.59v1.5m0 1.37v1.5m0 1.68v1.5m0 8.31v1.5m0 5.92v1.5m0 1.6v1.5M1720.65 452.8m0 1.53v1.5m0 8.27v1.5m0 3.01v1.5m0 8.91v1.5m0 3.57v1.5m0 13.5v1.5m0 6.34v1.5M1913.35 421.6m0 1.94v1.5m0 1.03v1.5m0 1.57v1.5m0 4.01v1.5m0 2.46v1.5m0 4.17v1.5m0 1.93v1.5m0 3.32v1.5m0 4.1v1.5m0 5.62v1.5m0 7.21v1.5m0 3.7v1.5m0 3.29v1.5m0 2.76v1.5m0 6.88v1.5m0 7.16v1.5M1914.65 421.6m0 2.1v1.5m0 1.59v1.5m0 1.78v1.5m0 6.29v1.5m0 7.4v1.5m0 5.4v1.5m0 8.93v1.5m0 7.27v1.5m0 8.88v1.5m0 13.7v1.5M1291.35 445m0 2.95v1.5m0 7.24v1.5m0 3.41v1.5m0 8.23v1.5m0 5.32v1.5M1292.65 445m0 1.26v1.5m0 7.95v1.5m0 11.22v1.5m0 1.4v1.5M1900.35 421.6m0 2.38v1.5m0 3.15v1.5m0 5.05v1.5m0 4.78v1.5m0 4.54v1.5m0 9.18v1.5M1901.65 421.6m0 1.97v1.5m0 6.99v1.5m0 1.16v1.5m0 9.88v1.5M1906.35 421.6m0 2.53v1.5m0 2.77v1.5m0 3.77v1.5m0 6v1.5m0 2.02v1.5m0 3.71v1.5m0 4.54v1.5m0 4.01v1.5m0 3.23v1.5M1907.65 421.6m0 3.26v1.5m0 5.64v1.5m0 5.15v1.5m0 10.29v1.5m0 12.71v1.5M1974.35 421.6m0 4.57v1.5m0 3.57v1.5m0 3.08v1.5m0 4.79v1.5m0 7.47v1.5m0 5.93v1.5M1975.65 421.6m0 6.89v1.5m0 4.45v1.5m0 8.64v1.5m0 9.13v1.5M1741.35 439.8m0 3.37v1.5m0 1.76v1.5m0 1.1v1.5m0 1.57v1.5m0 1.49v1.5m0 4.02v1.5m0 3.91v1.5m0 6.22v1.5M1742.65 439.8m0 4.98v1.5m0 4.52v1.5m0 8.41v1.5m0 8.28v1.5m0 1.83v1.5M1723.62 544.68v1.5M1735.5 478.25v1.5M1739.67 568.48v1.5M1300.32 532.93v1.5M1488.94 444.88v1.5M1224.12 473.34v1.5M1290.38 517.29v1.5M1717.72 524.31v1.5M1501.17 452.46v1.5M1181.57 493.43v1.5M1255.38 442.31v1.5M1544.18 442.52v1.5M1529.84 443.45v1.5M1767.22 450.35v1.5M1476.31 451.17v1.5M1189.37 536.31v1.5M1469.28 440.5v1.5M1755.54 445.3v1.5M1712.07 444.77v1.5M1928.65 459.43v1.5M1786.73 496.9v1.5M1786.44 492.44v1.5M1894.27 459.38v1.5M1455.91 445.61v1.5M1700.39 478.7v1.5M1972.86 474.95v1.5M1491.49 468.42v1.5M1506.39 490.64v1.5M1201.09 439.44v1.5M1461 441.24v1.5M1185.32 444.79v1.5M1702.06 510.88v1.5M1494.77 449.78v1.5M1557.47 494.54v1.5M1552.91 503.14v1.5M1691.12 443.13v1.5M1963.98 463.44v1.5M1465.88 449.48v1.5M1758.89 449.29v1.5M1169.14 449.23v1.5M1894.84 457.42v1.5M1172.81 460.5v1.5M1186.65 440.33v1.5M1198.29 446.06v1.5M1475.32 467.74v1.5M1288.91 463.17v1.5M1514.47 473v1.5M1922.5 461.61v1.5M1491.13 440.75v1.5M1175.5 455.67v1.5M1773.12 486.62v1.5M1754.19 441.56v1.5M1763.89 439.37v1.5M1973.87 460.05v1.5M1983.68 513.06v1.5M1960.2 450.63v1.5M1194.9 455.7v1.5M1255.25 467.03v1.5M1489.44 439.66v1.5M1972.55 447.49v1.5M1527.19 455.16v1.5M1252.2 476.02v1.5M1256.21 461.32v1.5M1165.5 436.71v1.5M1278.06 449.54v1.5M1953.83 438.69v1.5M1222.7 485.13v1.5M1912.64 454.49v1.5M1980.79 599.22v1.5M1775.76 547.62v1.5M1493.13 484.23v1.5M1235.44 562.44v1.5M1204.86 470.79v1.5M1244.19 485.95v1.5M1561.45 450.23v1.5M1516.5 447.95v1.5M1498.76 473.17v1.5M1470.16 446.95v1.5M1937.51 438.11v1.5M1207.65 463.38v1.5M1946.4 451.31v1.5M1524.06 520.47v1.5M1966.02 465.93v1.5M1739.88 482.66v1.5M1914.1 483.85v1.5" stroke="#85c9b0" stroke-width="1.35" fill="none"/>
<path d="M976.7 91.3V368.2H2024.4M2024.4 399.4H976.7V674" fill="none" stroke="#000" stroke-width="2.6"/>
<path d="M964.4 95.5H976.7M964.4 226.3H976.7M964.4 357.7H976.7M964.4 409.7H976.7M964.4 541.3H976.7M964.4 672.7H976.7M1015.8 369.5V396.5M1165.3 369.5V396.5M1308.0 369.5V396.5M1447.5 369.5V396.5M1568.3 369.5V396.5M1683.0 369.5V396.5M1789.5 369.5V396.5M1888.6 369.5V396.5M1982.0 369.5V396.5" fill="none" stroke="#000" stroke-width="2.4"/>
<text transform="translate(954.8 112) rotate(-90) scale(1 1.06)" font-size="37" font-weight="bold" text-anchor="middle">1000</text>
<text transform="translate(954.8 234) rotate(-90) scale(1 1.06)" font-size="37" font-weight="bold" text-anchor="middle">500</text>
<text transform="translate(954.8 368.6) rotate(-90) scale(1 1.06)" font-size="37" font-weight="bold" text-anchor="middle">0</text>
<text transform="translate(954.8 410.3) rotate(-90) scale(1 1.06)" font-size="37" font-weight="bold" text-anchor="middle">0</text>
<text transform="translate(954.8 542.3) rotate(-90) scale(1 1.06)" font-size="37" font-weight="bold" text-anchor="middle">500</text>
<text transform="translate(954.8 673.5) rotate(-90) scale(1 1.06)" font-size="37" font-weight="bold" text-anchor="middle">1000</text>
<text transform="translate(889.8 368) rotate(-90) scale(1 1.04)" font-size="50" font-weight="bold" text-anchor="middle">XPCLR score</text>
<text transform="translate(1088.85 394) scale(1 1.1)" font-size="26.5" font-weight="bold" text-anchor="middle" letter-spacing="0.5">Chr1</text>
<text transform="translate(1234.95 394) scale(1 1.1)" font-size="26.5" font-weight="bold" text-anchor="middle" letter-spacing="0.5">Chr2</text>
<text transform="translate(1376.05 394) scale(1 1.1)" font-size="26.5" font-weight="bold" text-anchor="middle" letter-spacing="0.5">Chr3</text>
<text transform="translate(1506.2 394) scale(1 1.1)" font-size="26.5" font-weight="bold" text-anchor="middle" letter-spacing="0.5">Chr4</text>
<text transform="translate(1623.95 394) scale(1 1.1)" font-size="26.5" font-weight="bold" text-anchor="middle" letter-spacing="0.5">Chr5</text>
<text transform="translate(1734.55 394) scale(1 1.1)" font-size="26.5" font-weight="bold" text-anchor="middle" letter-spacing="0.5">Chr6</text>
<text transform="translate(1837.35 394) scale(1 1.1)" font-size="26.5" font-weight="bold" text-anchor="middle" letter-spacing="0.5">Chr7</text>
<text transform="translate(1933.6 394) scale(1 1.1)" font-size="26.5" font-weight="bold" text-anchor="middle" letter-spacing="0.5">Chr8</text>
<text transform="translate(1306.2 210) scale(1 1.03)" font-size="37.4" font-weight="bold" font-style="italic" fill="#ee3b24">GGT3</text>
<text transform="translate(1414.4 233.8) scale(1 1.03)" font-size="37.4" font-weight="bold" font-style="italic" fill="#ee3b24">ALL48</text>
<text transform="translate(1495.8 183.2) scale(1 1.03)" font-size="37.4" font-weight="bold" font-style="italic" fill="#ee3b24">ALL49</text>
<text transform="translate(1567.2 251) scale(1 1.03)" font-size="37.4" font-weight="bold" font-style="italic" fill="#231f20">LFS11</text>
<text transform="translate(1632.8 144.5) scale(1 1.03)" font-size="37.4" font-weight="bold" font-style="italic" fill="#231f20">ALL55</text>
<text transform="translate(1704.2 196.1) scale(1 1.03)" font-size="37.4" font-weight="bold" font-style="italic" fill="#231f20">FMO3</text>
<text transform="translate(1833.3 197.1) scale(1 1.03)" font-size="37.4" font-weight="bold" font-style="italic" fill="#ee3b24">GSH2</text>
<text transform="translate(1175 581) scale(1 1.03)" font-size="37.4" font-weight="bold" font-style="italic" fill="#ee3b24">PCS1</text>
<text transform="translate(1330.7 567.5) scale(1 1.03)" font-size="37.4" font-weight="bold" font-style="italic" fill="#231f20">ALL42</text>
<path d="M1347.9 211L1440.25 270.88" stroke="#231f20" stroke-width="2.4" fill="none"/><path d="M1452 278.5L1429.48 274.63L1440.25 270.88L1439.28 259.52Z" fill="#231f20"/>
<path d="M1486.8 232.9L1539.54 310.62" stroke="#231f20" stroke-width="2.4" fill="none"/><path d="M1547.4 322.2L1528.16 309.88L1539.54 310.62L1543.06 299.77Z" fill="#231f20"/>
<path d="M1565.9 197.1L1560.01 313.02" stroke="#231f20" stroke-width="2.4" fill="none"/><path d="M1559.3 327L1551.38 305.57L1560.01 313.02L1569.35 306.48Z" fill="#231f20"/>
<path d="M1644 259.7L1621.1 317" stroke="#231f20" stroke-width="2.4" fill="none"/><path d="M1615.9 330L1615.34 307.16L1621.1 317L1632.05 313.84Z" fill="#231f20"/>
<path d="M1666.1 154.4L1734.82 285.99" stroke="#231f20" stroke-width="2.4" fill="none"/><path d="M1741.3 298.4L1723.6 283.95L1734.82 285.99L1739.56 275.62Z" fill="#231f20"/>
<path d="M1756.8 204.1L1786.48 243.52" stroke="#231f20" stroke-width="2.4" fill="none"/><path d="M1794.9 254.7L1775.08 243.34L1786.48 243.52L1789.46 232.51Z" fill="#231f20"/>
<path d="M1866 197.5L1861.01 311.21" stroke="#231f20" stroke-width="2.4" fill="none"/><path d="M1860.4 325.2L1852.33 303.83L1861.01 311.21L1870.31 304.61Z" fill="#231f20"/>
<path d="M1253.8 540.1L1273.14 496.31" stroke="#231f20" stroke-width="2.4" fill="none"/><path d="M1278.8 483.5L1278.55 506.35L1273.14 496.31L1262.08 499.07Z" fill="#231f20"/>
<path d="M1387.3 526L1361.13 449.55" stroke="#231f20" stroke-width="2.4" fill="none"/><path d="M1356.6 436.3L1371.92 453.25L1361.13 449.55L1354.88 459.08Z" fill="#231f20"/>
<g fill="#1010f0"><circle cx="1457.7" cy="282.1" r="3"/><circle cx="1553.7" cy="325.5" r="3"/><circle cx="1553.7" cy="336.3" r="3"/><circle cx="1613.1" cy="339.3" r="3"/><circle cx="1747.5" cy="304.3" r="3"/><circle cx="1799.7" cy="263" r="3"/><circle cx="1859.5" cy="334.1" r="3"/><circle cx="1280.2" cy="477.4" r="3"/><circle cx="1354.7" cy="425.5" r="3"/></g>
</g>
<g id="panel-c">
<text transform="translate(-2 865)" font-size="88" font-weight="bold" fill="#231f20">c</text>
<rect x="233.7" y="961.75" width="42.88" height="84.72" fill="#5b86b5"/>
<rect x="276.58" y="961.75" width="42.88" height="84.72" fill="#5580b3"/>
<rect x="319.47" y="961.75" width="42.88" height="84.72" fill="#4a72a9"/>
<rect x="362.35" y="961.75" width="42.88" height="84.72" fill="#bfdde9"/>
<rect x="405.24" y="961.75" width="42.88" height="84.72" fill="#8cb8d3"/>
<rect x="448.12" y="961.75" width="42.88" height="84.72" fill="#93bdd6"/>
<rect x="491.01" y="961.75" width="42.88" height="84.72" fill="#dceee3"/>
<rect x="533.89" y="961.75" width="42.88" height="84.72" fill="#dceee4"/>
<rect x="576.78" y="961.75" width="42.88" height="84.72" fill="#d0e7ef"/>
<rect x="619.66" y="961.75" width="42.88" height="84.72" fill="#d5eaf0"/>
<rect x="662.55" y="961.75" width="42.88" height="84.72" fill="#dceee3"/>
<rect x="705.43" y="961.75" width="42.88" height="84.72" fill="#dceee3"/>
<rect x="748.32" y="961.75" width="42.88" height="84.72" fill="#91bdd7"/>
<rect x="791.2" y="961.75" width="42.88" height="84.72" fill="#b2d5e5"/>
<rect x="834.08" y="961.75" width="42.88" height="84.72" fill="#aed1e2"/>
<rect x="876.97" y="961.75" width="42.88" height="84.72" fill="#88b5d0"/>
<rect x="919.85" y="961.75" width="42.88" height="84.72" fill="#dbeee5"/>
<rect x="962.74" y="961.75" width="42.88" height="84.72" fill="#dceee3"/>
<rect x="1005.62" y="961.75" width="42.88" height="84.72" fill="#d3e9ef"/>
<rect x="1048.51" y="961.75" width="42.88" height="84.72" fill="#4f79ad"/>
<rect x="1091.39" y="961.75" width="42.88" height="84.72" fill="#5680b3"/>
<rect x="1134.28" y="961.75" width="42.88" height="84.72" fill="#90bbd5"/>
<rect x="1177.16" y="961.75" width="42.88" height="84.72" fill="#f5875f"/>
<rect x="1220.05" y="961.75" width="42.88" height="84.72" fill="#f69067"/>
<rect x="1262.93" y="961.75" width="42.88" height="84.72" fill="#d54c41"/>
<rect x="1305.82" y="961.75" width="42.88" height="84.72" fill="#d0443a"/>
<rect x="1348.7" y="961.75" width="42.88" height="84.72" fill="#d0443a"/>
<rect x="1391.58" y="961.75" width="42.88" height="84.72" fill="#d2473d"/>
<rect x="1434.47" y="961.75" width="42.88" height="84.72" fill="#d1463b"/>
<rect x="1477.35" y="961.75" width="42.88" height="84.72" fill="#cd3d36"/>
<rect x="1520.24" y="961.75" width="42.88" height="84.72" fill="#d0433a"/>
<rect x="1563.12" y="961.75" width="42.88" height="84.72" fill="#cb3a33"/>
<rect x="1606.01" y="961.75" width="42.88" height="84.72" fill="#edf1c8"/>
<rect x="1648.89" y="961.75" width="42.88" height="84.72" fill="#9dc4da"/>
<rect x="1691.78" y="961.75" width="42.88" height="84.72" fill="#92bdd6"/>
<rect x="1734.66" y="961.75" width="42.88" height="84.72" fill="#e5efd7"/>
<rect x="1777.55" y="961.75" width="42.88" height="84.72" fill="#eff2c2"/>
<rect x="1820.43" y="961.75" width="42.88" height="84.72" fill="#e5efd7"/>
<rect x="1863.32" y="961.75" width="42.88" height="84.72" fill="#c2dfe9"/>
<rect x="233.7" y="1046.47" width="42.88" height="84.72" fill="#d6ecf1"/>
<rect x="276.58" y="1046.47" width="42.88" height="84.72" fill="#dfeede"/>
<rect x="319.47" y="1046.47" width="42.88" height="84.72" fill="#e7f0d5"/>
<rect x="362.35" y="1046.47" width="42.88" height="84.72" fill="#8ab6d1"/>
<rect x="405.24" y="1046.47" width="42.88" height="84.72" fill="#8cb8d3"/>
<rect x="448.12" y="1046.47" width="42.88" height="84.72" fill="#aacde0"/>
<rect x="491.01" y="1046.47" width="42.88" height="84.72" fill="#dfeedd"/>
<rect x="533.89" y="1046.47" width="42.88" height="84.72" fill="#dceee3"/>
<rect x="576.78" y="1046.47" width="42.88" height="84.72" fill="#deeee0"/>
<rect x="619.66" y="1046.47" width="42.88" height="84.72" fill="#edf1c9"/>
<rect x="662.55" y="1046.47" width="42.88" height="84.72" fill="#d3eaf1"/>
<rect x="705.43" y="1046.47" width="42.88" height="84.72" fill="#cfe7ef"/>
<rect x="748.32" y="1046.47" width="42.88" height="84.72" fill="#d8ece9"/>
<rect x="791.2" y="1046.47" width="42.88" height="84.72" fill="#dfeede"/>
<rect x="834.08" y="1046.47" width="42.88" height="84.72" fill="#d0463c"/>
<rect x="876.97" y="1046.47" width="42.88" height="84.72" fill="#db5b4a"/>
<rect x="919.85" y="1046.47" width="42.88" height="84.72" fill="#cb3a34"/>
<rect x="962.74" y="1046.47" width="42.88" height="84.72" fill="#e66f56"/>
<rect x="1005.62" y="1046.47" width="42.88" height="84.72" fill="#d0463d"/>
<rect x="1048.51" y="1046.47" width="42.88" height="84.72" fill="#f6bf85"/>
<rect x="1091.39" y="1046.47" width="42.88" height="84.72" fill="#f6d995"/>
<rect x="1134.28" y="1046.47" width="42.88" height="84.72" fill="#f5996c"/>
<rect x="1177.16" y="1046.47" width="42.88" height="84.72" fill="#f6d592"/>
<rect x="1220.05" y="1046.47" width="42.88" height="84.72" fill="#f7d390"/>
<rect x="1262.93" y="1046.47" width="42.88" height="84.72" fill="#f4f1b7"/>
<rect x="1305.82" y="1046.47" width="42.88" height="84.72" fill="#f0f2c0"/>
<rect x="1348.7" y="1046.47" width="42.88" height="84.72" fill="#f4efb1"/>
<rect x="1391.58" y="1046.47" width="42.88" height="84.72" fill="#d5ebf0"/>
<rect x="1434.47" y="1046.47" width="42.88" height="84.72" fill="#d0e7ef"/>
<rect x="1477.35" y="1046.47" width="42.88" height="84.72" fill="#e8f0d1"/>
<rect x="1520.24" y="1046.47" width="42.88" height="84.72" fill="#c0ddea"/>
<rect x="1563.12" y="1046.47" width="42.88" height="84.72" fill="#c8e3ee"/>
<rect x="1606.01" y="1046.47" width="42.88" height="84.72" fill="#f8c084"/>
<rect x="1648.89" y="1046.47" width="42.88" height="84.72" fill="#f1f2bf"/>
<rect x="1691.78" y="1046.47" width="42.88" height="84.72" fill="#f6e29f"/>
<rect x="1734.66" y="1046.47" width="42.88" height="84.72" fill="#b0d3e5"/>
<rect x="1777.55" y="1046.47" width="42.88" height="84.72" fill="#d5ebf0"/>
<rect x="1820.43" y="1046.47" width="42.88" height="84.72" fill="#c4e0eb"/>
<rect x="1863.32" y="1046.47" width="42.88" height="84.72" fill="#accfe1"/>
<rect x="233.7" y="1131.18" width="42.88" height="84.72" fill="#e7f0d3"/>
<rect x="276.58" y="1131.18" width="42.88" height="84.72" fill="#dceee3"/>
<rect x="319.47" y="1131.18" width="42.88" height="84.72" fill="#f4f2ba"/>
<rect x="362.35" y="1131.18" width="42.88" height="84.72" fill="#d0e7f0"/>
<rect x="405.24" y="1131.18" width="42.88" height="84.72" fill="#f6e19d"/>
<rect x="448.12" y="1131.18" width="42.88" height="84.72" fill="#f3efb3"/>
<rect x="491.01" y="1131.18" width="42.88" height="84.72" fill="#d3eaf1"/>
<rect x="533.89" y="1131.18" width="42.88" height="84.72" fill="#dbeee4"/>
<rect x="576.78" y="1131.18" width="42.88" height="84.72" fill="#cfe7f0"/>
<rect x="619.66" y="1131.18" width="42.88" height="84.72" fill="#d8ece9"/>
<rect x="662.55" y="1131.18" width="42.88" height="84.72" fill="#b3d5e7"/>
<rect x="705.43" y="1131.18" width="42.88" height="84.72" fill="#b9d9e9"/>
<rect x="748.32" y="1131.18" width="42.88" height="84.72" fill="#dceee2"/>
<rect x="791.2" y="1131.18" width="42.88" height="84.72" fill="#f4f2ba"/>
<rect x="834.08" y="1131.18" width="42.88" height="84.72" fill="#c8e3ee"/>
<rect x="876.97" y="1131.18" width="42.88" height="84.72" fill="#d8ece9"/>
<rect x="919.85" y="1131.18" width="42.88" height="84.72" fill="#dbeee4"/>
<rect x="962.74" y="1131.18" width="42.88" height="84.72" fill="#abcee1"/>
<rect x="1005.62" y="1131.18" width="42.88" height="84.72" fill="#a9cce0"/>
<rect x="1048.51" y="1131.18" width="42.88" height="84.72" fill="#badaea"/>
<rect x="1091.39" y="1131.18" width="42.88" height="84.72" fill="#c0dde9"/>
<rect x="1134.28" y="1131.18" width="42.88" height="84.72" fill="#81aecf"/>
<rect x="1177.16" y="1131.18" width="42.88" height="84.72" fill="#d3e9f0"/>
<rect x="1220.05" y="1131.18" width="42.88" height="84.72" fill="#e3efd9"/>
<rect x="1262.93" y="1131.18" width="42.88" height="84.72" fill="#f0f2c3"/>
<rect x="1305.82" y="1131.18" width="42.88" height="84.72" fill="#bedce9"/>
<rect x="1348.7" y="1131.18" width="42.88" height="84.72" fill="#c8e3ee"/>
<rect x="1391.58" y="1131.18" width="42.88" height="84.72" fill="#f4eeae"/>
<rect x="1434.47" y="1131.18" width="42.88" height="84.72" fill="#edf1c6"/>
<rect x="1477.35" y="1131.18" width="42.88" height="84.72" fill="#c4e0eb"/>
<rect x="1520.24" y="1131.18" width="42.88" height="84.72" fill="#b2d5e6"/>
<rect x="1563.12" y="1131.18" width="42.88" height="84.72" fill="#dceee2"/>
<rect x="1606.01" y="1131.18" width="42.88" height="84.72" fill="#f0f2c2"/>
<rect x="1648.89" y="1131.18" width="42.88" height="84.72" fill="#f7ce8b"/>
<rect x="1691.78" y="1131.18" width="42.88" height="84.72" fill="#f58b63"/>
<rect x="1734.66" y="1131.18" width="42.88" height="84.72" fill="#df5e4b"/>
<rect x="1777.55" y="1131.18" width="42.88" height="84.72" fill="#f5a474"/>
<rect x="1820.43" y="1131.18" width="42.88" height="84.72" fill="#cd3c36"/>
<rect x="1863.32" y="1131.18" width="42.88" height="84.72" fill="#e2644f"/>
<rect x="233.7" y="1215.9" width="42.88" height="84.72" fill="#f6d391"/>
<rect x="276.58" y="1215.9" width="42.88" height="84.72" fill="#f5e3a0"/>
<rect x="319.47" y="1215.9" width="42.88" height="84.72" fill="#f49d70"/>
<rect x="362.35" y="1215.9" width="42.88" height="84.72" fill="#eef1c6"/>
<rect x="405.24" y="1215.9" width="42.88" height="84.72" fill="#e8f0d1"/>
<rect x="448.12" y="1215.9" width="42.88" height="84.72" fill="#c4e0eb"/>
<rect x="491.01" y="1215.9" width="42.88" height="84.72" fill="#cc3a34"/>
<rect x="533.89" y="1215.9" width="42.88" height="84.72" fill="#cc3a34"/>
<rect x="576.78" y="1215.9" width="42.88" height="84.72" fill="#cc3a34"/>
<rect x="619.66" y="1215.9" width="42.88" height="84.72" fill="#cc3a34"/>
<rect x="662.55" y="1215.9" width="42.88" height="84.72" fill="#cc3a34"/>
<rect x="705.43" y="1215.9" width="42.88" height="84.72" fill="#cc3a34"/>
<rect x="748.32" y="1215.9" width="42.88" height="84.72" fill="#d0463c"/>
<rect x="791.2" y="1215.9" width="42.88" height="84.72" fill="#cf433a"/>
<rect x="834.08" y="1215.9" width="42.88" height="84.72" fill="#f4f1b5"/>
<rect x="876.97" y="1215.9" width="42.88" height="84.72" fill="#f6e19d"/>
<rect x="919.85" y="1215.9" width="42.88" height="84.72" fill="#dbeee4"/>
<rect x="962.74" y="1215.9" width="42.88" height="84.72" fill="#c4e0eb"/>
<rect x="1005.62" y="1215.9" width="42.88" height="84.72" fill="#d5ebef"/>
<rect x="1048.51" y="1215.9" width="42.88" height="84.72" fill="#f6e19e"/>
<rect x="1091.39" y="1215.9" width="42.88" height="84.72" fill="#f6946a"/>
<rect x="1134.28" y="1215.9" width="42.88" height="84.72" fill="#f6a777"/>
<rect x="1177.16" y="1215.9" width="42.88" height="84.72" fill="#80acce"/>
<rect x="1220.05" y="1215.9" width="42.88" height="84.72" fill="#88b5d1"/>
<rect x="1262.93" y="1215.9" width="42.88" height="84.72" fill="#a5cade"/>
<rect x="1305.82" y="1215.9" width="42.88" height="84.72" fill="#abcee1"/>
<rect x="1348.7" y="1215.9" width="42.88" height="84.72" fill="#c8e3ee"/>
<rect x="1391.58" y="1215.9" width="42.88" height="84.72" fill="#b3d6e7"/>
<rect x="1434.47" y="1215.9" width="42.88" height="84.72" fill="#abcfe1"/>
<rect x="1477.35" y="1215.9" width="42.88" height="84.72" fill="#d5ebf0"/>
<rect x="1520.24" y="1215.9" width="42.88" height="84.72" fill="#dfeede"/>
<rect x="1563.12" y="1215.9" width="42.88" height="84.72" fill="#d5ebee"/>
<rect x="1606.01" y="1215.9" width="42.88" height="84.72" fill="#80abcd"/>
<rect x="1648.89" y="1215.9" width="42.88" height="84.72" fill="#9cc4da"/>
<rect x="1691.78" y="1215.9" width="42.88" height="84.72" fill="#92bdd6"/>
<rect x="1734.66" y="1215.9" width="42.88" height="84.72" fill="#acd0e2"/>
<rect x="1777.55" y="1215.9" width="42.88" height="84.72" fill="#8bb8d3"/>
<rect x="1820.43" y="1215.9" width="42.88" height="84.72" fill="#b5d7e7"/>
<rect x="1863.32" y="1215.9" width="42.88" height="84.72" fill="#f4eeae"/>
<rect x="233.7" y="1300.62" width="42.88" height="84.72" fill="#f5efaf"/>
<rect x="276.58" y="1300.62" width="42.88" height="84.72" fill="#f6b27d"/>
<rect x="319.47" y="1300.62" width="42.88" height="84.72" fill="#f4e7a6"/>
<rect x="362.35" y="1300.62" width="42.88" height="84.72" fill="#eb7259"/>
<rect x="405.24" y="1300.62" width="42.88" height="84.72" fill="#f4f1b3"/>
<rect x="448.12" y="1300.62" width="42.88" height="84.72" fill="#f7d08c"/>
<rect x="491.01" y="1300.62" width="42.88" height="84.72" fill="#d0e8f0"/>
<rect x="533.89" y="1300.62" width="42.88" height="84.72" fill="#dceee3"/>
<rect x="576.78" y="1300.62" width="42.88" height="84.72" fill="#e3efd9"/>
<rect x="619.66" y="1300.62" width="42.88" height="84.72" fill="#d7ecec"/>
<rect x="662.55" y="1300.62" width="42.88" height="84.72" fill="#eaf1ce"/>
<rect x="705.43" y="1300.62" width="42.88" height="84.72" fill="#e5efd6"/>
<rect x="748.32" y="1300.62" width="42.88" height="84.72" fill="#f0f2c3"/>
<rect x="791.2" y="1300.62" width="42.88" height="84.72" fill="#c8e3ee"/>
<rect x="834.08" y="1300.62" width="42.88" height="84.72" fill="#dceee2"/>
<rect x="876.97" y="1300.62" width="42.88" height="84.72" fill="#dbeee4"/>
<rect x="919.85" y="1300.62" width="42.88" height="84.72" fill="#dbeee4"/>
<rect x="962.74" y="1300.62" width="42.88" height="84.72" fill="#f8c182"/>
<rect x="1005.62" y="1300.62" width="42.88" height="84.72" fill="#f4efaf"/>
<rect x="1048.51" y="1300.62" width="42.88" height="84.72" fill="#f6db98"/>
<rect x="1091.39" y="1300.62" width="42.88" height="84.72" fill="#f5e6a5"/>
<rect x="1134.28" y="1300.62" width="42.88" height="84.72" fill="#f0f2c2"/>
<rect x="1177.16" y="1300.62" width="42.88" height="84.72" fill="#f6df9b"/>
<rect x="1220.05" y="1300.62" width="42.88" height="84.72" fill="#f7d793"/>
<rect x="1262.93" y="1300.62" width="42.88" height="84.72" fill="#b9d9e9"/>
<rect x="1305.82" y="1300.62" width="42.88" height="84.72" fill="#e6f0d5"/>
<rect x="1348.7" y="1300.62" width="42.88" height="84.72" fill="#d0e7ef"/>
<rect x="1391.58" y="1300.62" width="42.88" height="84.72" fill="#d0e7ef"/>
<rect x="1434.47" y="1300.62" width="42.88" height="84.72" fill="#d5ebee"/>
<rect x="1477.35" y="1300.62" width="42.88" height="84.72" fill="#c8e3ee"/>
<rect x="1520.24" y="1300.62" width="42.88" height="84.72" fill="#dfeedd"/>
<rect x="1563.12" y="1300.62" width="42.88" height="84.72" fill="#ddeee0"/>
<rect x="1606.01" y="1300.62" width="42.88" height="84.72" fill="#f68c63"/>
<rect x="1648.89" y="1300.62" width="42.88" height="84.72" fill="#ed7459"/>
<rect x="1691.78" y="1300.62" width="42.88" height="84.72" fill="#d5ebee"/>
<rect x="1734.66" y="1300.62" width="42.88" height="84.72" fill="#f7d28f"/>
<rect x="1777.55" y="1300.62" width="42.88" height="84.72" fill="#f6926a"/>
<rect x="1820.43" y="1300.62" width="42.88" height="84.72" fill="#e2efd8"/>
<rect x="1863.32" y="1300.62" width="42.88" height="84.72" fill="#f6df9b"/>
<rect x="233.7" y="1385.33" width="42.88" height="84.72" fill="#f58f66"/>
<rect x="276.58" y="1385.33" width="42.88" height="84.72" fill="#f5b07c"/>
<rect x="319.47" y="1385.33" width="42.88" height="84.72" fill="#f5e3a0"/>
<rect x="362.35" y="1385.33" width="42.88" height="84.72" fill="#f5c88a"/>
<rect x="405.24" y="1385.33" width="42.88" height="84.72" fill="#e66d55"/>
<rect x="448.12" y="1385.33" width="42.88" height="84.72" fill="#ec775c"/>
<rect x="491.01" y="1385.33" width="42.88" height="84.72" fill="#e6f0d5"/>
<rect x="533.89" y="1385.33" width="42.88" height="84.72" fill="#dceee3"/>
<rect x="576.78" y="1385.33" width="42.88" height="84.72" fill="#e8f0d2"/>
<rect x="619.66" y="1385.33" width="42.88" height="84.72" fill="#d5ebee"/>
<rect x="662.55" y="1385.33" width="42.88" height="84.72" fill="#e6f0d4"/>
<rect x="705.43" y="1385.33" width="42.88" height="84.72" fill="#ebf1cb"/>
<rect x="748.32" y="1385.33" width="42.88" height="84.72" fill="#eaf1cd"/>
<rect x="791.2" y="1385.33" width="42.88" height="84.72" fill="#dbeee2"/>
<rect x="834.08" y="1385.33" width="42.88" height="84.72" fill="#dceee2"/>
<rect x="876.97" y="1385.33" width="42.88" height="84.72" fill="#e3efd7"/>
<rect x="919.85" y="1385.33" width="42.88" height="84.72" fill="#dbeee4"/>
<rect x="962.74" y="1385.33" width="42.88" height="84.72" fill="#c8e3ee"/>
<rect x="1005.62" y="1385.33" width="42.88" height="84.72" fill="#e2efd9"/>
<rect x="1048.51" y="1385.33" width="42.88" height="84.72" fill="#f6de9c"/>
<rect x="1091.39" y="1385.33" width="42.88" height="84.72" fill="#f4f2b8"/>
<rect x="1134.28" y="1385.33" width="42.88" height="84.72" fill="#e9f1ce"/>
<rect x="1177.16" y="1385.33" width="42.88" height="84.72" fill="#afd2e3"/>
<rect x="1220.05" y="1385.33" width="42.88" height="84.72" fill="#8cb8d3"/>
<rect x="1262.93" y="1385.33" width="42.88" height="84.72" fill="#d3eaf0"/>
<rect x="1305.82" y="1385.33" width="42.88" height="84.72" fill="#dceee2"/>
<rect x="1348.7" y="1385.33" width="42.88" height="84.72" fill="#dbeee4"/>
<rect x="1391.58" y="1385.33" width="42.88" height="84.72" fill="#e0eedb"/>
<rect x="1434.47" y="1385.33" width="42.88" height="84.72" fill="#ebf1cb"/>
<rect x="1477.35" y="1385.33" width="42.88" height="84.72" fill="#eef2c6"/>
<rect x="1520.24" y="1385.33" width="42.88" height="84.72" fill="#f3f2bc"/>
<rect x="1563.12" y="1385.33" width="42.88" height="84.72" fill="#e8f0d0"/>
<rect x="1606.01" y="1385.33" width="42.88" height="84.72" fill="#97c1d8"/>
<rect x="1648.89" y="1385.33" width="42.88" height="84.72" fill="#d5ebee"/>
<rect x="1691.78" y="1385.33" width="42.88" height="84.72" fill="#f7d08d"/>
<rect x="1734.66" y="1385.33" width="42.88" height="84.72" fill="#c8e3ee"/>
<rect x="1777.55" y="1385.33" width="42.88" height="84.72" fill="#a9cce0"/>
<rect x="1820.43" y="1385.33" width="42.88" height="84.72" fill="#eff2c2"/>
<rect x="1863.32" y="1385.33" width="42.88" height="84.72" fill="#9cc4da"/>
<path d="M233.7 960.3V1471.5M276.58 960.3V1471.5M319.47 960.3V1471.5M362.35 960.3V1471.5M405.24 960.3V1471.5M448.12 960.3V1471.5M491.01 960.3V1471.5M533.89 960.3V1471.5M576.78 960.3V1471.5M619.66 960.3V1471.5M662.55 960.3V1471.5M705.43 960.3V1471.5M748.32 960.3V1471.5M791.2 960.3V1471.5M834.08 960.3V1471.5M876.97 960.3V1471.5M919.85 960.3V1471.5M962.74 960.3V1471.5M1005.62 960.3V1471.5M1048.51 960.3V1471.5M1091.39 960.3V1471.5M1134.28 960.3V1471.5M1177.16 960.3V1471.5M1220.05 960.3V1471.5M1262.93 960.3V1471.5M1305.82 960.3V1471.5M1348.7 960.3V1471.5M1391.58 960.3V1471.5M1434.47 960.3V1471.5M1477.35 960.3V1471.5M1520.24 960.3V1471.5M1563.12 960.3V1471.5M1606.01 960.3V1471.5M1648.89 960.3V1471.5M1691.78 960.3V1471.5M1734.66 960.3V1471.5M1777.55 960.3V1471.5M1820.43 960.3V1471.5M1863.32 960.3V1471.5M1906.2 960.3V1471.5M232.25 961.75H1907.65M232.25 1046.47H1907.65M232.25 1131.18H1907.65M232.25 1215.9H1907.65M232.25 1300.62H1907.65M232.25 1385.33H1907.65M232.25 1470.05H1907.65" stroke="#919498" stroke-width="2.9" fill="none"/>
<rect x="158.35" y="965.05" width="38.4" height="84.67" fill="#96c0d7"/>
<rect x="158.35" y="1049.72" width="38.4" height="84.67" fill="#9fc6db"/>
<rect x="158.35" y="1134.38" width="38.4" height="84.67" fill="#a9cde1"/>
<rect x="158.35" y="1219.05" width="38.4" height="84.67" fill="#f6d391"/>
<rect x="158.35" y="1303.72" width="38.4" height="84.67" fill="#f6cd8a"/>
<rect x="158.35" y="1388.38" width="38.4" height="84.67" fill="#f59b6f"/>
<path d="M158.35 963.8V1474.3M196.75 963.8V1474.3M157.1 965.05H198M157.1 1049.72H198M157.1 1134.38H198M157.1 1219.05H198M157.1 1303.72H198M157.1 1388.38H198M157.1 1473.05H198" stroke="#919498" stroke-width="2.9" fill="none"/>
<text transform="translate(141.8 1022.8) scale(1 1.05)" font-size="42.2" font-weight="bold" text-anchor="end">A12</text>
<text transform="translate(141.8 1107.8) scale(1 1.05)" font-size="42.2" font-weight="bold" text-anchor="end">C155</text>
<text transform="translate(141.8 1192.8) scale(1 1.05)" font-size="42.2" font-weight="bold" text-anchor="end">C16</text>
<text transform="translate(141.8 1277.8) scale(1 1.05)" font-size="42.2" font-weight="bold" text-anchor="end">A18</text>
<text transform="translate(141.8 1362.8) scale(1 1.05)" font-size="42.2" font-weight="bold" text-anchor="end">C184</text>
<text transform="translate(141.8 1447.8) scale(1 1.05)" font-size="42.2" font-weight="bold" text-anchor="end">A15</text>
<text transform="translate(188.5 1494.5) rotate(-61)" font-size="30.5" letter-spacing="1" stroke="#000" stroke-width="1.2" text-anchor="end">Isoalliin</text>
<text transform="translate(268.39 1493) rotate(-64.5)" font-size="29.5" font-style="italic" letter-spacing="0.9" fill="#ed1c24" stroke="#ed1c24" stroke-width="1.1" text-anchor="end">AfPCS1</text>
<text transform="translate(311.54 1493) rotate(-64.5)" font-size="29.5" font-style="italic" letter-spacing="0.9" fill="#ed1c24" stroke="#ed1c24" stroke-width="1.1" text-anchor="end">AfGSH2</text>
<text transform="translate(354.69 1493) rotate(-64.5)" font-size="29.5" font-style="italic" letter-spacing="0.9" fill="#000" stroke="#000" stroke-width="1.1" text-anchor="end">AfGSH1b</text>
<text transform="translate(397.83 1493) rotate(-64.5)" font-size="29.5" font-style="italic" letter-spacing="0.9" fill="#000" stroke="#000" stroke-width="1.1" text-anchor="end">AfGSH1a</text>
<text transform="translate(440.98 1493) rotate(-64.5)" font-size="29.5" font-style="italic" letter-spacing="0.9" fill="#000" stroke="#000" stroke-width="1.1" text-anchor="end">AfALL24</text>
<text transform="translate(484.13 1493) rotate(-64.5)" font-size="29.5" font-style="italic" letter-spacing="0.9" fill="#000" stroke="#000" stroke-width="1.1" text-anchor="end">AfGSH1f</text>
<text transform="translate(527.27 1493) rotate(-64.5)" font-size="29.5" font-style="italic" letter-spacing="0.9" fill="#000" stroke="#000" stroke-width="1.1" text-anchor="end">AfLFS39</text>
<text transform="translate(570.42 1493) rotate(-64.5)" font-size="29.5" font-style="italic" letter-spacing="0.9" fill="#000" stroke="#000" stroke-width="1.1" text-anchor="end">AfLFS14</text>
<text transform="translate(613.57 1493) rotate(-64.5)" font-size="29.5" font-style="italic" letter-spacing="0.9" fill="#000" stroke="#000" stroke-width="1.1" text-anchor="end">AfLFS09</text>
<text transform="translate(656.71 1493) rotate(-64.5)" font-size="29.5" font-style="italic" letter-spacing="0.9" fill="#000" stroke="#000" stroke-width="1.1" text-anchor="end">AfLFS17</text>
<text transform="translate(699.86 1493) rotate(-64.5)" font-size="29.5" font-style="italic" letter-spacing="0.9" fill="#000" stroke="#000" stroke-width="1.1" text-anchor="end">AfALL43</text>
<text transform="translate(743.01 1493) rotate(-64.5)" font-size="29.5" font-style="italic" letter-spacing="0.9" fill="#000" stroke="#000" stroke-width="1.1" text-anchor="end">AfALL42</text>
<text transform="translate(786.15 1493) rotate(-64.5)" font-size="29.5" font-style="italic" letter-spacing="0.9" fill="#ed1c24" stroke="#ed1c24" stroke-width="1.1" text-anchor="end">AfGGT3</text>
<text transform="translate(829.3 1493) rotate(-64.5)" font-size="29.5" font-style="italic" letter-spacing="0.9" fill="#000" stroke="#000" stroke-width="1.1" text-anchor="end">AfLFS42</text>
<text transform="translate(872.45 1493) rotate(-64.5)" font-size="29.5" font-style="italic" letter-spacing="0.9" fill="#000" stroke="#000" stroke-width="1.1" text-anchor="end">AfGSH1c</text>
<text transform="translate(915.59 1493) rotate(-64.5)" font-size="29.5" font-style="italic" letter-spacing="0.9" fill="#000" stroke="#000" stroke-width="1.1" text-anchor="end">AfGSH1g</text>
<text transform="translate(958.74 1493) rotate(-64.5)" font-size="29.5" font-style="italic" letter-spacing="0.9" fill="#000" stroke="#000" stroke-width="1.1" text-anchor="end">AfLFS15</text>
<text transform="translate(1001.89 1493) rotate(-64.5)" font-size="29.5" font-style="italic" letter-spacing="0.9" fill="#000" stroke="#000" stroke-width="1.1" text-anchor="end">AfALL30</text>
<text transform="translate(1045.03 1493) rotate(-64.5)" font-size="29.5" font-style="italic" letter-spacing="0.9" fill="#000" stroke="#000" stroke-width="1.1" text-anchor="end">AfFMO1</text>
<text transform="translate(1088.18 1493) rotate(-64.5)" font-size="29.5" font-style="italic" letter-spacing="0.9" fill="#000" stroke="#000" stroke-width="1.1" text-anchor="end">AfALL31</text>
<text transform="translate(1131.33 1493) rotate(-64.5)" font-size="29.5" font-style="italic" letter-spacing="0.9" fill="#000" stroke="#000" stroke-width="1.1" text-anchor="end">AfFMO2</text>
<text transform="translate(1174.47 1493) rotate(-64.5)" font-size="29.5" font-style="italic" letter-spacing="0.9" fill="#000" stroke="#000" stroke-width="1.1" text-anchor="end">AfLFS16</text>
<text transform="translate(1217.62 1493) rotate(-64.5)" font-size="29.5" font-style="italic" letter-spacing="0.9" fill="#000" stroke="#000" stroke-width="1.1" text-anchor="end">AfLFS01</text>
<text transform="translate(1260.77 1493) rotate(-64.5)" font-size="29.5" font-style="italic" letter-spacing="0.9" fill="#000" stroke="#000" stroke-width="1.1" text-anchor="end">AfLFS04</text>
<text transform="translate(1303.91 1493) rotate(-64.5)" font-size="29.5" font-style="italic" letter-spacing="0.9" fill="#000" stroke="#000" stroke-width="1.1" text-anchor="end">AfGGT1</text>
<text transform="translate(1347.06 1493) rotate(-64.5)" font-size="29.5" font-style="italic" letter-spacing="0.9" fill="#000" stroke="#000" stroke-width="1.1" text-anchor="end">AfGGT2</text>
<text transform="translate(1390.21 1493) rotate(-64.5)" font-size="29.5" font-style="italic" letter-spacing="0.9" fill="#ed1c24" stroke="#ed1c24" stroke-width="1.1" text-anchor="end">AfALL47</text>
<text transform="translate(1433.35 1493) rotate(-64.5)" font-size="29.5" font-style="italic" letter-spacing="0.9" fill="#ed1c24" stroke="#ed1c24" stroke-width="1.1" text-anchor="end">AfALL49</text>
<text transform="translate(1476.5 1493) rotate(-64.5)" font-size="29.5" font-style="italic" letter-spacing="0.9" fill="#000" stroke="#000" stroke-width="1.1" text-anchor="end">AfLFS13</text>
<text transform="translate(1519.65 1493) rotate(-64.5)" font-size="29.5" font-style="italic" letter-spacing="0.9" fill="#ed1c24" stroke="#ed1c24" stroke-width="1.1" text-anchor="end">AfALL48</text>
<text transform="translate(1562.79 1493) rotate(-64.5)" font-size="29.5" font-style="italic" letter-spacing="0.9" fill="#000" stroke="#000" stroke-width="1.1" text-anchor="end">AfLFS05</text>
<text transform="translate(1605.94 1493) rotate(-64.5)" font-size="29.5" font-style="italic" letter-spacing="0.9" fill="#000" stroke="#000" stroke-width="1.1" text-anchor="end">AfLFS12</text>
<text transform="translate(1649.09 1493) rotate(-64.5)" font-size="29.5" font-style="italic" letter-spacing="0.9" fill="#000" stroke="#000" stroke-width="1.1" text-anchor="end">AfALL15</text>
<text transform="translate(1692.23 1493) rotate(-64.5)" font-size="29.5" font-style="italic" letter-spacing="0.9" fill="#000" stroke="#000" stroke-width="1.1" text-anchor="end">AfALL56</text>
<text transform="translate(1735.38 1493) rotate(-64.5)" font-size="29.5" font-style="italic" letter-spacing="0.9" fill="#000" stroke="#000" stroke-width="1.1" text-anchor="end">AfLFS10</text>
<text transform="translate(1778.53 1493) rotate(-64.5)" font-size="29.5" font-style="italic" letter-spacing="0.9" fill="#000" stroke="#000" stroke-width="1.1" text-anchor="end">AfLFS02</text>
<text transform="translate(1821.67 1493) rotate(-64.5)" font-size="29.5" font-style="italic" letter-spacing="0.9" fill="#000" stroke="#000" stroke-width="1.1" text-anchor="end">AfLFS03</text>
<text transform="translate(1864.82 1493) rotate(-64.5)" font-size="29.5" font-style="italic" letter-spacing="0.9" fill="#000" stroke="#000" stroke-width="1.1" text-anchor="end">AfLFS11</text>
<text transform="translate(1907.97 1493) rotate(-64.5)" font-size="29.5" font-style="italic" letter-spacing="0.9" fill="#000" stroke="#000" stroke-width="1.1" text-anchor="end">AfALL51</text>
<path d="M255.14 952.5V938.02M298.03 952.5V938.02M255.14 938.02H298.03M277.09 938.02V931.05M277.09 931.05H340.91M340.91 952.5V931.05M287.12 931.05V912.94M287.12 912.94H416.68M416.68 912.94V920.46M383.8 920.46H448.72M383.8 952.5V920.46M448.72 920.46V939.41M426.68 952.5V939.41M469.57 952.5V939.41M426.68 939.41H469.57M372.94 912.94V890.09M372.94 890.09H762.74M762.74 890.09V934.67M567.14 887.03V890.09M567.14 887.03H1040.77M606.15 878.11V887.03M606.15 878.11H1508.82M512.45 952.5V949.16M555.33 952.5V949.16M512.45 949.16H555.33M533.71 949.16V947.77M533.71 947.77H598.22M598.22 952.5V947.77M565.75 947.77V944.98M565.75 944.98H641.1M641.1 952.5V944.98M603.36 944.98V941.36M603.36 941.36H706.46M683.99 952.5V950.55M726.87 952.5V950.55M683.99 950.55H726.87M706.46 950.55V941.36M654.91 941.36V938.02M654.91 938.02H769.76M769.76 952.5V938.02M712.03 938.02V934.67M712.03 934.67H812.64M812.64 952.5V934.67M855.53 952.5V944.15M898.41 952.5V944.15M855.53 944.15H898.41M876.93 944.15V933M876.93 933H941.3M941.3 952.5V933M909.25 933V920.18M909.25 920.18H1005.94M984.18 952.5V939.97M1027.07 952.5V939.97M984.18 939.97H1027.07M1005.94 939.97V920.18M957.18 920.18V907.92M957.18 907.92H1124.35M1069.95 952.5V935.23M1112.83 952.5V935.23M1069.95 935.23H1112.83M1091.48 935.23V929.1M1091.48 929.1H1155.72M1155.72 952.5V929.1M1124.35 929.1V907.92M1040.77 907.92V887.03M1198.6 952.5V944.15M1241.49 952.5V944.15M1198.6 944.15H1241.49M1220.48 944.15V915.17M1220.48 915.17H1400.15M1309.64 915.17V886.47M1309.64 886.47H1708.6M1284.37 952.5V937.46M1284.37 937.46H1348.65M1348.65 937.46V943.59M1327.26 952.5V943.59M1370.14 952.5V943.59M1327.26 943.59H1370.14M1316.61 937.46V928.26M1316.61 928.26H1483.74M1400.15 928.26V915.17M1413.03 952.5V947.77M1455.91 952.5V947.77M1413.03 947.77H1455.91M1434.42 947.77V933.84M1434.42 933.84H1531.67M1531.67 933.84V943.03M1498.8 943.03H1563.71M1498.8 952.5V943.03M1541.68 952.5V946.38M1584.57 952.5V946.38M1541.68 946.38H1584.57M1563.71 946.38V943.03M1483.74 933.84V928.26M1508.82 878.11V886.47M1708.6 886.47V900.4M1648.69 900.4H1767.39M1627.45 952.5V926.87M1670.33 952.5V926.87M1627.45 926.87H1670.33M1648.69 926.87V900.4M1767.39 900.4V906.53M1713.22 906.53H1820.88M1713.22 952.5V906.53M1820.88 906.53V919.07M1778.25 919.07H1864.07M1756.1 952.5V936.62M1798.99 952.5V936.62M1756.1 936.62H1798.99M1778.25 936.62V919.07M1864.07 919.07V924.92M1841.87 952.5V924.92M1884.76 952.5V924.92M1841.87 924.92H1884.76" fill="none" stroke="#000" stroke-width="2.8" stroke-linecap="round" stroke-linejoin="round"/>
<defs><linearGradient id="lg" x1="0" y1="0" x2="0" y2="1"><stop offset="0" stop-color="#cb3a33"/><stop offset="0.1667" stop-color="#f38e62"/><stop offset="0.3333" stop-color="#f6d78e"/><stop offset="0.5" stop-color="#f4f2b4"/><stop offset="0.6667" stop-color="#d9eef3"/><stop offset="0.8333" stop-color="#8fbdd6"/><stop offset="1" stop-color="#4a74ad"/></linearGradient></defs>
<rect x="1944.8" y="1084" width="42.2" height="377.6" fill="url(#lg)"/>
<text transform="translate(2004.5 1094.1) scale(1 1.04)" font-size="38.5" font-weight="bold">2</text>
<text transform="translate(2004.5 1186.9) scale(1 1.04)" font-size="38.5" font-weight="bold">1</text>
<text transform="translate(2004.5 1279.8) scale(1 1.04)" font-size="38.5" font-weight="bold">0</text>
<text transform="translate(2004.5 1372.1) scale(1 1.04)" font-size="38.5" font-weight="bold">−1</text>
<text transform="translate(2004.5 1464.9) scale(1 1.04)" font-size="38.5" font-weight="bold">−2</text>
<text transform="translate(1982.5 955.5) rotate(-90)" font-size="50" font-weight="bold" text-anchor="middle">z-value</text>
</g>
</svg>
</body></html>
